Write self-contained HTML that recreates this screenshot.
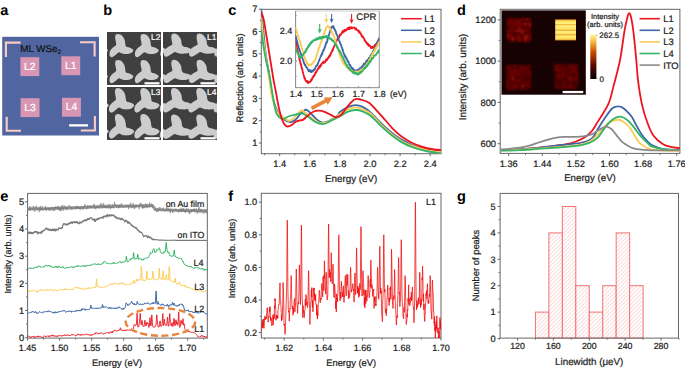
<!DOCTYPE html>
<html><head><meta charset="utf-8"><style>
html,body{margin:0;padding:0;background:#fff;overflow:hidden}
svg{display:block;font-family:"Liberation Sans", sans-serif;text-rendering:geometricPrecision}
</style></head><body>
<svg width="685" height="368" viewBox="0 0 685 368">
<text transform="translate(0.3 14.6)" font-size="14.6" text-anchor="start" fill="#000" font-weight="bold">a</text>
<text transform="translate(103.2 14.6)" font-size="14.6" text-anchor="start" fill="#000" font-weight="bold">b</text>
<text transform="translate(228.2 14.6)" font-size="14.6" text-anchor="start" fill="#000" font-weight="bold">c</text>
<text transform="translate(457 14.6)" font-size="14.6" text-anchor="start" fill="#000" font-weight="bold">d</text>
<text transform="translate(0.3 200.5)" font-size="14.6" text-anchor="start" fill="#000" font-weight="bold">e</text>
<text transform="translate(228.2 200.5)" font-size="14.6" text-anchor="start" fill="#000" font-weight="bold">f</text>
<text transform="translate(457 201)" font-size="14.6" text-anchor="start" fill="#000" font-weight="bold">g</text>
<rect x="2.2" y="36.8" width="96.8" height="98.7" fill="#5166a0"/>
<polyline points="5.9,57 5.9,42.6 20.6,42.6" fill="none" stroke="#f9ccc8" stroke-width="2.1"/>
<polyline points="80,42.3 94.6,42.3 94.6,56.6" fill="none" stroke="#f9ccc8" stroke-width="2.1"/>
<polyline points="6.7,116.8 6.7,130.7 21,130.7" fill="none" stroke="#f9ccc8" stroke-width="2.1"/>
<polyline points="80.8,130.5 94.9,130.5 94.9,116.1" fill="none" stroke="#f9ccc8" stroke-width="2.1"/>
<rect x="20.4" y="57.2" width="18.9" height="18.9" fill="#d996b4"/>
<text transform="translate(29.85 69.7)" font-size="10.3" text-anchor="middle" fill="#fff" font-weight="normal" stroke="#fff" stroke-width="0.22">L2</text>
<rect x="61.3" y="56.3" width="18.9" height="18.9" fill="#d996b4"/>
<text transform="translate(70.75 68.8)" font-size="10.3" text-anchor="middle" fill="#fff" font-weight="normal" stroke="#fff" stroke-width="0.22">L1</text>
<rect x="20.6" y="98.2" width="18.9" height="18.9" fill="#d996b4"/>
<text transform="translate(30.05 110.7)" font-size="10.3" text-anchor="middle" fill="#fff" font-weight="normal" stroke="#fff" stroke-width="0.22">L3</text>
<rect x="62" y="97.8" width="18.9" height="18.9" fill="#d996b4"/>
<text transform="translate(71.45 110.3)" font-size="10.3" text-anchor="middle" fill="#fff" font-weight="normal" stroke="#fff" stroke-width="0.22">L4</text>
<text transform="translate(20.3 51.8)" font-size="9.8" text-anchor="start" fill="#111" font-weight="normal" stroke="#111" stroke-width="0.22">ML WSe<tspan font-size="6.3" dy="2.4">2</tspan></text>
<rect x="69.1" y="124.2" width="19" height="2.3" fill="#fff"/>
<defs><filter id="sb" x="-5%" y="-5%" width="110%" height="110%"><feGaussianBlur stdDeviation="0.65"/></filter><clipPath id="cpb"><rect x="0" y="0" width="54" height="53"/></clipPath></defs>
<g transform="translate(107,32)"><g clip-path="url(#cpb)">
<rect x="0" y="0" width="54" height="53" fill="#404040"/>
<g filter="url(#sb)">
<path d="M-14.4,-24.1 C-13.63,-24.1 -12.67,-23.8 -11.9,-23.4 C-11.13,-23 -10.45,-22.47 -9.8,-21.7 C-9.15,-20.93 -8.42,-19.75 -8,-18.8 C-7.58,-17.85 -7.47,-16.93 -7.3,-16 C-7.13,-15.07 -7.17,-13.97 -7,-13.2 C-6.83,-12.43 -6.83,-11.82 -6.3,-11.4 C-5.77,-10.98 -4.68,-11 -3.8,-10.7 C-2.92,-10.4 -1.77,-10.02 -1,-9.6 C-0.23,-9.18 0.55,-8.72 0.8,-8.2 C1.05,-7.68 0.85,-7.03 0.5,-6.5 C0.15,-5.97 -0.47,-5.42 -1.3,-5 C-2.13,-4.58 -3.38,-4.17 -4.5,-4 C-5.62,-3.83 -6.93,-3.88 -8,-4 C-9.07,-4.12 -10.02,-4.4 -10.9,-4.7 C-11.78,-5 -12.48,-5.92 -13.3,-5.8 C-14.12,-5.68 -15.03,-4.6 -15.8,-4 C-16.57,-3.4 -17.13,-2.73 -17.9,-2.2 C-18.67,-1.67 -19.68,-0.92 -20.4,-0.8 C-21.12,-0.68 -21.78,-0.97 -22.2,-1.5 C-22.62,-2.03 -22.9,-3.05 -22.9,-4 C-22.9,-4.95 -22.68,-6.2 -22.2,-7.2 C-21.72,-8.2 -20.77,-9.23 -20,-10 C-19.23,-10.77 -18.23,-11.27 -17.6,-11.8 C-16.97,-12.33 -16.38,-12.5 -16.2,-13.2 C-16.02,-13.9 -16.35,-15.07 -16.5,-16 C-16.65,-16.93 -16.98,-17.92 -17.1,-18.8 C-17.22,-19.68 -17.3,-20.53 -17.2,-21.3 C-17.1,-22.07 -16.97,-22.93 -16.5,-23.4 C-16.03,-23.87 -15.17,-24.1 -14.4,-24.1Z" fill="#cdcdcd"/>
<path d="M-14.4,1.9 C-13.63,1.9 -12.67,2.2 -11.9,2.6 C-11.13,3 -10.45,3.53 -9.8,4.3 C-9.15,5.07 -8.42,6.25 -8,7.2 C-7.58,8.15 -7.47,9.07 -7.3,10 C-7.13,10.93 -7.17,12.03 -7,12.8 C-6.83,13.57 -6.83,14.18 -6.3,14.6 C-5.77,15.02 -4.68,15 -3.8,15.3 C-2.92,15.6 -1.77,15.98 -1,16.4 C-0.23,16.82 0.55,17.28 0.8,17.8 C1.05,18.32 0.85,18.97 0.5,19.5 C0.15,20.03 -0.47,20.58 -1.3,21 C-2.13,21.42 -3.38,21.83 -4.5,22 C-5.62,22.17 -6.93,22.12 -8,22 C-9.07,21.88 -10.02,21.6 -10.9,21.3 C-11.78,21 -12.48,20.08 -13.3,20.2 C-14.12,20.32 -15.03,21.4 -15.8,22 C-16.57,22.6 -17.13,23.27 -17.9,23.8 C-18.67,24.33 -19.68,25.08 -20.4,25.2 C-21.12,25.32 -21.78,25.03 -22.2,24.5 C-22.62,23.97 -22.9,22.95 -22.9,22 C-22.9,21.05 -22.68,19.8 -22.2,18.8 C-21.72,17.8 -20.77,16.77 -20,16 C-19.23,15.23 -18.23,14.73 -17.6,14.2 C-16.97,13.67 -16.38,13.5 -16.2,12.8 C-16.02,12.1 -16.35,10.93 -16.5,10 C-16.65,9.07 -16.98,8.08 -17.1,7.2 C-17.22,6.32 -17.3,5.47 -17.2,4.7 C-17.1,3.93 -16.97,3.07 -16.5,2.6 C-16.03,2.13 -15.17,1.9 -14.4,1.9Z" fill="#cdcdcd"/>
<path d="M-14.4,27.9 C-13.63,27.9 -12.67,28.2 -11.9,28.6 C-11.13,29 -10.45,29.53 -9.8,30.3 C-9.15,31.07 -8.42,32.25 -8,33.2 C-7.58,34.15 -7.47,35.07 -7.3,36 C-7.13,36.93 -7.17,38.03 -7,38.8 C-6.83,39.57 -6.83,40.18 -6.3,40.6 C-5.77,41.02 -4.68,41 -3.8,41.3 C-2.92,41.6 -1.77,41.98 -1,42.4 C-0.23,42.82 0.55,43.28 0.8,43.8 C1.05,44.32 0.85,44.97 0.5,45.5 C0.15,46.03 -0.47,46.58 -1.3,47 C-2.13,47.42 -3.38,47.83 -4.5,48 C-5.62,48.17 -6.93,48.12 -8,48 C-9.07,47.88 -10.02,47.6 -10.9,47.3 C-11.78,47 -12.48,46.08 -13.3,46.2 C-14.12,46.32 -15.03,47.4 -15.8,48 C-16.57,48.6 -17.13,49.27 -17.9,49.8 C-18.67,50.33 -19.68,51.08 -20.4,51.2 C-21.12,51.32 -21.78,51.03 -22.2,50.5 C-22.62,49.97 -22.9,48.95 -22.9,48 C-22.9,47.05 -22.68,45.8 -22.2,44.8 C-21.72,43.8 -20.77,42.77 -20,42 C-19.23,41.23 -18.23,40.73 -17.6,40.2 C-16.97,39.67 -16.38,39.5 -16.2,38.8 C-16.02,38.1 -16.35,36.93 -16.5,36 C-16.65,35.07 -16.98,34.08 -17.1,33.2 C-17.22,32.32 -17.3,31.47 -17.2,30.7 C-17.1,29.93 -16.97,29.07 -16.5,28.6 C-16.03,28.13 -15.17,27.9 -14.4,27.9Z" fill="#cdcdcd"/>
<path d="M-14.4,53.9 C-13.63,53.9 -12.67,54.2 -11.9,54.6 C-11.13,55 -10.45,55.53 -9.8,56.3 C-9.15,57.07 -8.42,58.25 -8,59.2 C-7.58,60.15 -7.47,61.07 -7.3,62 C-7.13,62.93 -7.17,64.03 -7,64.8 C-6.83,65.57 -6.83,66.18 -6.3,66.6 C-5.77,67.02 -4.68,67 -3.8,67.3 C-2.92,67.6 -1.77,67.98 -1,68.4 C-0.23,68.82 0.55,69.28 0.8,69.8 C1.05,70.32 0.85,70.97 0.5,71.5 C0.15,72.03 -0.47,72.58 -1.3,73 C-2.13,73.42 -3.38,73.83 -4.5,74 C-5.62,74.17 -6.93,74.12 -8,74 C-9.07,73.88 -10.02,73.6 -10.9,73.3 C-11.78,73 -12.48,72.08 -13.3,72.2 C-14.12,72.32 -15.03,73.4 -15.8,74 C-16.57,74.6 -17.13,75.27 -17.9,75.8 C-18.67,76.33 -19.68,77.08 -20.4,77.2 C-21.12,77.32 -21.78,77.03 -22.2,76.5 C-22.62,75.97 -22.9,74.95 -22.9,74 C-22.9,73.05 -22.68,71.8 -22.2,70.8 C-21.72,69.8 -20.77,68.77 -20,68 C-19.23,67.23 -18.23,66.73 -17.6,66.2 C-16.97,65.67 -16.38,65.5 -16.2,64.8 C-16.02,64.1 -16.35,62.93 -16.5,62 C-16.65,61.07 -16.98,60.08 -17.1,59.2 C-17.22,58.32 -17.3,57.47 -17.2,56.7 C-17.1,55.93 -16.97,55.07 -16.5,54.6 C-16.03,54.13 -15.17,53.9 -14.4,53.9Z" fill="#cdcdcd"/>
<path d="M11,-24.1 C11.77,-24.1 12.73,-23.8 13.5,-23.4 C14.27,-23 14.95,-22.47 15.6,-21.7 C16.25,-20.93 16.98,-19.75 17.4,-18.8 C17.82,-17.85 17.93,-16.93 18.1,-16 C18.27,-15.07 18.23,-13.97 18.4,-13.2 C18.57,-12.43 18.57,-11.82 19.1,-11.4 C19.63,-10.98 20.72,-11 21.6,-10.7 C22.48,-10.4 23.63,-10.02 24.4,-9.6 C25.17,-9.18 25.95,-8.72 26.2,-8.2 C26.45,-7.68 26.25,-7.03 25.9,-6.5 C25.55,-5.97 24.93,-5.42 24.1,-5 C23.27,-4.58 22.02,-4.17 20.9,-4 C19.78,-3.83 18.47,-3.88 17.4,-4 C16.33,-4.12 15.38,-4.4 14.5,-4.7 C13.62,-5 12.92,-5.92 12.1,-5.8 C11.28,-5.68 10.37,-4.6 9.6,-4 C8.83,-3.4 8.27,-2.73 7.5,-2.2 C6.73,-1.67 5.72,-0.92 5,-0.8 C4.28,-0.68 3.62,-0.97 3.2,-1.5 C2.78,-2.03 2.5,-3.05 2.5,-4 C2.5,-4.95 2.72,-6.2 3.2,-7.2 C3.68,-8.2 4.63,-9.23 5.4,-10 C6.17,-10.77 7.17,-11.27 7.8,-11.8 C8.43,-12.33 9.02,-12.5 9.2,-13.2 C9.38,-13.9 9.05,-15.07 8.9,-16 C8.75,-16.93 8.42,-17.92 8.3,-18.8 C8.18,-19.68 8.1,-20.53 8.2,-21.3 C8.3,-22.07 8.43,-22.93 8.9,-23.4 C9.37,-23.87 10.23,-24.1 11,-24.1Z" fill="#cdcdcd"/>
<path d="M11,1.9 C11.77,1.9 12.73,2.2 13.5,2.6 C14.27,3 14.95,3.53 15.6,4.3 C16.25,5.07 16.98,6.25 17.4,7.2 C17.82,8.15 17.93,9.07 18.1,10 C18.27,10.93 18.23,12.03 18.4,12.8 C18.57,13.57 18.57,14.18 19.1,14.6 C19.63,15.02 20.72,15 21.6,15.3 C22.48,15.6 23.63,15.98 24.4,16.4 C25.17,16.82 25.95,17.28 26.2,17.8 C26.45,18.32 26.25,18.97 25.9,19.5 C25.55,20.03 24.93,20.58 24.1,21 C23.27,21.42 22.02,21.83 20.9,22 C19.78,22.17 18.47,22.12 17.4,22 C16.33,21.88 15.38,21.6 14.5,21.3 C13.62,21 12.92,20.08 12.1,20.2 C11.28,20.32 10.37,21.4 9.6,22 C8.83,22.6 8.27,23.27 7.5,23.8 C6.73,24.33 5.72,25.08 5,25.2 C4.28,25.32 3.62,25.03 3.2,24.5 C2.78,23.97 2.5,22.95 2.5,22 C2.5,21.05 2.72,19.8 3.2,18.8 C3.68,17.8 4.63,16.77 5.4,16 C6.17,15.23 7.17,14.73 7.8,14.2 C8.43,13.67 9.02,13.5 9.2,12.8 C9.38,12.1 9.05,10.93 8.9,10 C8.75,9.07 8.42,8.08 8.3,7.2 C8.18,6.32 8.1,5.47 8.2,4.7 C8.3,3.93 8.43,3.07 8.9,2.6 C9.37,2.13 10.23,1.9 11,1.9Z" fill="#cdcdcd"/>
<path d="M11,27.9 C11.77,27.9 12.73,28.2 13.5,28.6 C14.27,29 14.95,29.53 15.6,30.3 C16.25,31.07 16.98,32.25 17.4,33.2 C17.82,34.15 17.93,35.07 18.1,36 C18.27,36.93 18.23,38.03 18.4,38.8 C18.57,39.57 18.57,40.18 19.1,40.6 C19.63,41.02 20.72,41 21.6,41.3 C22.48,41.6 23.63,41.98 24.4,42.4 C25.17,42.82 25.95,43.28 26.2,43.8 C26.45,44.32 26.25,44.97 25.9,45.5 C25.55,46.03 24.93,46.58 24.1,47 C23.27,47.42 22.02,47.83 20.9,48 C19.78,48.17 18.47,48.12 17.4,48 C16.33,47.88 15.38,47.6 14.5,47.3 C13.62,47 12.92,46.08 12.1,46.2 C11.28,46.32 10.37,47.4 9.6,48 C8.83,48.6 8.27,49.27 7.5,49.8 C6.73,50.33 5.72,51.08 5,51.2 C4.28,51.32 3.62,51.03 3.2,50.5 C2.78,49.97 2.5,48.95 2.5,48 C2.5,47.05 2.72,45.8 3.2,44.8 C3.68,43.8 4.63,42.77 5.4,42 C6.17,41.23 7.17,40.73 7.8,40.2 C8.43,39.67 9.02,39.5 9.2,38.8 C9.38,38.1 9.05,36.93 8.9,36 C8.75,35.07 8.42,34.08 8.3,33.2 C8.18,32.32 8.1,31.47 8.2,30.7 C8.3,29.93 8.43,29.07 8.9,28.6 C9.37,28.13 10.23,27.9 11,27.9Z" fill="#cdcdcd"/>
<path d="M11,53.9 C11.77,53.9 12.73,54.2 13.5,54.6 C14.27,55 14.95,55.53 15.6,56.3 C16.25,57.07 16.98,58.25 17.4,59.2 C17.82,60.15 17.93,61.07 18.1,62 C18.27,62.93 18.23,64.03 18.4,64.8 C18.57,65.57 18.57,66.18 19.1,66.6 C19.63,67.02 20.72,67 21.6,67.3 C22.48,67.6 23.63,67.98 24.4,68.4 C25.17,68.82 25.95,69.28 26.2,69.8 C26.45,70.32 26.25,70.97 25.9,71.5 C25.55,72.03 24.93,72.58 24.1,73 C23.27,73.42 22.02,73.83 20.9,74 C19.78,74.17 18.47,74.12 17.4,74 C16.33,73.88 15.38,73.6 14.5,73.3 C13.62,73 12.92,72.08 12.1,72.2 C11.28,72.32 10.37,73.4 9.6,74 C8.83,74.6 8.27,75.27 7.5,75.8 C6.73,76.33 5.72,77.08 5,77.2 C4.28,77.32 3.62,77.03 3.2,76.5 C2.78,75.97 2.5,74.95 2.5,74 C2.5,73.05 2.72,71.8 3.2,70.8 C3.68,69.8 4.63,68.77 5.4,68 C6.17,67.23 7.17,66.73 7.8,66.2 C8.43,65.67 9.02,65.5 9.2,64.8 C9.38,64.1 9.05,62.93 8.9,62 C8.75,61.07 8.42,60.08 8.3,59.2 C8.18,58.32 8.1,57.47 8.2,56.7 C8.3,55.93 8.43,55.07 8.9,54.6 C9.37,54.13 10.23,53.9 11,53.9Z" fill="#cdcdcd"/>
<path d="M36.4,-24.1 C37.17,-24.1 38.13,-23.8 38.9,-23.4 C39.67,-23 40.35,-22.47 41,-21.7 C41.65,-20.93 42.38,-19.75 42.8,-18.8 C43.22,-17.85 43.33,-16.93 43.5,-16 C43.67,-15.07 43.63,-13.97 43.8,-13.2 C43.97,-12.43 43.97,-11.82 44.5,-11.4 C45.03,-10.98 46.12,-11 47,-10.7 C47.88,-10.4 49.03,-10.02 49.8,-9.6 C50.57,-9.18 51.35,-8.72 51.6,-8.2 C51.85,-7.68 51.65,-7.03 51.3,-6.5 C50.95,-5.97 50.33,-5.42 49.5,-5 C48.67,-4.58 47.42,-4.17 46.3,-4 C45.18,-3.83 43.87,-3.88 42.8,-4 C41.73,-4.12 40.78,-4.4 39.9,-4.7 C39.02,-5 38.32,-5.92 37.5,-5.8 C36.68,-5.68 35.77,-4.6 35,-4 C34.23,-3.4 33.67,-2.73 32.9,-2.2 C32.13,-1.67 31.12,-0.92 30.4,-0.8 C29.68,-0.68 29.02,-0.97 28.6,-1.5 C28.18,-2.03 27.9,-3.05 27.9,-4 C27.9,-4.95 28.12,-6.2 28.6,-7.2 C29.08,-8.2 30.03,-9.23 30.8,-10 C31.57,-10.77 32.57,-11.27 33.2,-11.8 C33.83,-12.33 34.42,-12.5 34.6,-13.2 C34.78,-13.9 34.45,-15.07 34.3,-16 C34.15,-16.93 33.82,-17.92 33.7,-18.8 C33.58,-19.68 33.5,-20.53 33.6,-21.3 C33.7,-22.07 33.83,-22.93 34.3,-23.4 C34.77,-23.87 35.63,-24.1 36.4,-24.1Z" fill="#cdcdcd"/>
<path d="M36.4,1.9 C37.17,1.9 38.13,2.2 38.9,2.6 C39.67,3 40.35,3.53 41,4.3 C41.65,5.07 42.38,6.25 42.8,7.2 C43.22,8.15 43.33,9.07 43.5,10 C43.67,10.93 43.63,12.03 43.8,12.8 C43.97,13.57 43.97,14.18 44.5,14.6 C45.03,15.02 46.12,15 47,15.3 C47.88,15.6 49.03,15.98 49.8,16.4 C50.57,16.82 51.35,17.28 51.6,17.8 C51.85,18.32 51.65,18.97 51.3,19.5 C50.95,20.03 50.33,20.58 49.5,21 C48.67,21.42 47.42,21.83 46.3,22 C45.18,22.17 43.87,22.12 42.8,22 C41.73,21.88 40.78,21.6 39.9,21.3 C39.02,21 38.32,20.08 37.5,20.2 C36.68,20.32 35.77,21.4 35,22 C34.23,22.6 33.67,23.27 32.9,23.8 C32.13,24.33 31.12,25.08 30.4,25.2 C29.68,25.32 29.02,25.03 28.6,24.5 C28.18,23.97 27.9,22.95 27.9,22 C27.9,21.05 28.12,19.8 28.6,18.8 C29.08,17.8 30.03,16.77 30.8,16 C31.57,15.23 32.57,14.73 33.2,14.2 C33.83,13.67 34.42,13.5 34.6,12.8 C34.78,12.1 34.45,10.93 34.3,10 C34.15,9.07 33.82,8.08 33.7,7.2 C33.58,6.32 33.5,5.47 33.6,4.7 C33.7,3.93 33.83,3.07 34.3,2.6 C34.77,2.13 35.63,1.9 36.4,1.9Z" fill="#cdcdcd"/>
<path d="M36.4,27.9 C37.17,27.9 38.13,28.2 38.9,28.6 C39.67,29 40.35,29.53 41,30.3 C41.65,31.07 42.38,32.25 42.8,33.2 C43.22,34.15 43.33,35.07 43.5,36 C43.67,36.93 43.63,38.03 43.8,38.8 C43.97,39.57 43.97,40.18 44.5,40.6 C45.03,41.02 46.12,41 47,41.3 C47.88,41.6 49.03,41.98 49.8,42.4 C50.57,42.82 51.35,43.28 51.6,43.8 C51.85,44.32 51.65,44.97 51.3,45.5 C50.95,46.03 50.33,46.58 49.5,47 C48.67,47.42 47.42,47.83 46.3,48 C45.18,48.17 43.87,48.12 42.8,48 C41.73,47.88 40.78,47.6 39.9,47.3 C39.02,47 38.32,46.08 37.5,46.2 C36.68,46.32 35.77,47.4 35,48 C34.23,48.6 33.67,49.27 32.9,49.8 C32.13,50.33 31.12,51.08 30.4,51.2 C29.68,51.32 29.02,51.03 28.6,50.5 C28.18,49.97 27.9,48.95 27.9,48 C27.9,47.05 28.12,45.8 28.6,44.8 C29.08,43.8 30.03,42.77 30.8,42 C31.57,41.23 32.57,40.73 33.2,40.2 C33.83,39.67 34.42,39.5 34.6,38.8 C34.78,38.1 34.45,36.93 34.3,36 C34.15,35.07 33.82,34.08 33.7,33.2 C33.58,32.32 33.5,31.47 33.6,30.7 C33.7,29.93 33.83,29.07 34.3,28.6 C34.77,28.13 35.63,27.9 36.4,27.9Z" fill="#cdcdcd"/>
<path d="M36.4,53.9 C37.17,53.9 38.13,54.2 38.9,54.6 C39.67,55 40.35,55.53 41,56.3 C41.65,57.07 42.38,58.25 42.8,59.2 C43.22,60.15 43.33,61.07 43.5,62 C43.67,62.93 43.63,64.03 43.8,64.8 C43.97,65.57 43.97,66.18 44.5,66.6 C45.03,67.02 46.12,67 47,67.3 C47.88,67.6 49.03,67.98 49.8,68.4 C50.57,68.82 51.35,69.28 51.6,69.8 C51.85,70.32 51.65,70.97 51.3,71.5 C50.95,72.03 50.33,72.58 49.5,73 C48.67,73.42 47.42,73.83 46.3,74 C45.18,74.17 43.87,74.12 42.8,74 C41.73,73.88 40.78,73.6 39.9,73.3 C39.02,73 38.32,72.08 37.5,72.2 C36.68,72.32 35.77,73.4 35,74 C34.23,74.6 33.67,75.27 32.9,75.8 C32.13,76.33 31.12,77.08 30.4,77.2 C29.68,77.32 29.02,77.03 28.6,76.5 C28.18,75.97 27.9,74.95 27.9,74 C27.9,73.05 28.12,71.8 28.6,70.8 C29.08,69.8 30.03,68.77 30.8,68 C31.57,67.23 32.57,66.73 33.2,66.2 C33.83,65.67 34.42,65.5 34.6,64.8 C34.78,64.1 34.45,62.93 34.3,62 C34.15,61.07 33.82,60.08 33.7,59.2 C33.58,58.32 33.5,57.47 33.6,56.7 C33.7,55.93 33.83,55.07 34.3,54.6 C34.77,54.13 35.63,53.9 36.4,53.9Z" fill="#cdcdcd"/>
<path d="M61.8,-24.1 C62.57,-24.1 63.53,-23.8 64.3,-23.4 C65.07,-23 65.75,-22.47 66.4,-21.7 C67.05,-20.93 67.78,-19.75 68.2,-18.8 C68.62,-17.85 68.73,-16.93 68.9,-16 C69.07,-15.07 69.03,-13.97 69.2,-13.2 C69.37,-12.43 69.37,-11.82 69.9,-11.4 C70.43,-10.98 71.52,-11 72.4,-10.7 C73.28,-10.4 74.43,-10.02 75.2,-9.6 C75.97,-9.18 76.75,-8.72 77,-8.2 C77.25,-7.68 77.05,-7.03 76.7,-6.5 C76.35,-5.97 75.73,-5.42 74.9,-5 C74.07,-4.58 72.82,-4.17 71.7,-4 C70.58,-3.83 69.27,-3.88 68.2,-4 C67.13,-4.12 66.18,-4.4 65.3,-4.7 C64.42,-5 63.72,-5.92 62.9,-5.8 C62.08,-5.68 61.17,-4.6 60.4,-4 C59.63,-3.4 59.07,-2.73 58.3,-2.2 C57.53,-1.67 56.52,-0.92 55.8,-0.8 C55.08,-0.68 54.42,-0.97 54,-1.5 C53.58,-2.03 53.3,-3.05 53.3,-4 C53.3,-4.95 53.52,-6.2 54,-7.2 C54.48,-8.2 55.43,-9.23 56.2,-10 C56.97,-10.77 57.97,-11.27 58.6,-11.8 C59.23,-12.33 59.82,-12.5 60,-13.2 C60.18,-13.9 59.85,-15.07 59.7,-16 C59.55,-16.93 59.22,-17.92 59.1,-18.8 C58.98,-19.68 58.9,-20.53 59,-21.3 C59.1,-22.07 59.23,-22.93 59.7,-23.4 C60.17,-23.87 61.03,-24.1 61.8,-24.1Z" fill="#cdcdcd"/>
<path d="M61.8,1.9 C62.57,1.9 63.53,2.2 64.3,2.6 C65.07,3 65.75,3.53 66.4,4.3 C67.05,5.07 67.78,6.25 68.2,7.2 C68.62,8.15 68.73,9.07 68.9,10 C69.07,10.93 69.03,12.03 69.2,12.8 C69.37,13.57 69.37,14.18 69.9,14.6 C70.43,15.02 71.52,15 72.4,15.3 C73.28,15.6 74.43,15.98 75.2,16.4 C75.97,16.82 76.75,17.28 77,17.8 C77.25,18.32 77.05,18.97 76.7,19.5 C76.35,20.03 75.73,20.58 74.9,21 C74.07,21.42 72.82,21.83 71.7,22 C70.58,22.17 69.27,22.12 68.2,22 C67.13,21.88 66.18,21.6 65.3,21.3 C64.42,21 63.72,20.08 62.9,20.2 C62.08,20.32 61.17,21.4 60.4,22 C59.63,22.6 59.07,23.27 58.3,23.8 C57.53,24.33 56.52,25.08 55.8,25.2 C55.08,25.32 54.42,25.03 54,24.5 C53.58,23.97 53.3,22.95 53.3,22 C53.3,21.05 53.52,19.8 54,18.8 C54.48,17.8 55.43,16.77 56.2,16 C56.97,15.23 57.97,14.73 58.6,14.2 C59.23,13.67 59.82,13.5 60,12.8 C60.18,12.1 59.85,10.93 59.7,10 C59.55,9.07 59.22,8.08 59.1,7.2 C58.98,6.32 58.9,5.47 59,4.7 C59.1,3.93 59.23,3.07 59.7,2.6 C60.17,2.13 61.03,1.9 61.8,1.9Z" fill="#cdcdcd"/>
<path d="M61.8,27.9 C62.57,27.9 63.53,28.2 64.3,28.6 C65.07,29 65.75,29.53 66.4,30.3 C67.05,31.07 67.78,32.25 68.2,33.2 C68.62,34.15 68.73,35.07 68.9,36 C69.07,36.93 69.03,38.03 69.2,38.8 C69.37,39.57 69.37,40.18 69.9,40.6 C70.43,41.02 71.52,41 72.4,41.3 C73.28,41.6 74.43,41.98 75.2,42.4 C75.97,42.82 76.75,43.28 77,43.8 C77.25,44.32 77.05,44.97 76.7,45.5 C76.35,46.03 75.73,46.58 74.9,47 C74.07,47.42 72.82,47.83 71.7,48 C70.58,48.17 69.27,48.12 68.2,48 C67.13,47.88 66.18,47.6 65.3,47.3 C64.42,47 63.72,46.08 62.9,46.2 C62.08,46.32 61.17,47.4 60.4,48 C59.63,48.6 59.07,49.27 58.3,49.8 C57.53,50.33 56.52,51.08 55.8,51.2 C55.08,51.32 54.42,51.03 54,50.5 C53.58,49.97 53.3,48.95 53.3,48 C53.3,47.05 53.52,45.8 54,44.8 C54.48,43.8 55.43,42.77 56.2,42 C56.97,41.23 57.97,40.73 58.6,40.2 C59.23,39.67 59.82,39.5 60,38.8 C60.18,38.1 59.85,36.93 59.7,36 C59.55,35.07 59.22,34.08 59.1,33.2 C58.98,32.32 58.9,31.47 59,30.7 C59.1,29.93 59.23,29.07 59.7,28.6 C60.17,28.13 61.03,27.9 61.8,27.9Z" fill="#cdcdcd"/>
<path d="M61.8,53.9 C62.57,53.9 63.53,54.2 64.3,54.6 C65.07,55 65.75,55.53 66.4,56.3 C67.05,57.07 67.78,58.25 68.2,59.2 C68.62,60.15 68.73,61.07 68.9,62 C69.07,62.93 69.03,64.03 69.2,64.8 C69.37,65.57 69.37,66.18 69.9,66.6 C70.43,67.02 71.52,67 72.4,67.3 C73.28,67.6 74.43,67.98 75.2,68.4 C75.97,68.82 76.75,69.28 77,69.8 C77.25,70.32 77.05,70.97 76.7,71.5 C76.35,72.03 75.73,72.58 74.9,73 C74.07,73.42 72.82,73.83 71.7,74 C70.58,74.17 69.27,74.12 68.2,74 C67.13,73.88 66.18,73.6 65.3,73.3 C64.42,73 63.72,72.08 62.9,72.2 C62.08,72.32 61.17,73.4 60.4,74 C59.63,74.6 59.07,75.27 58.3,75.8 C57.53,76.33 56.52,77.08 55.8,77.2 C55.08,77.32 54.42,77.03 54,76.5 C53.58,75.97 53.3,74.95 53.3,74 C53.3,73.05 53.52,71.8 54,70.8 C54.48,69.8 55.43,68.77 56.2,68 C56.97,67.23 57.97,66.73 58.6,66.2 C59.23,65.67 59.82,65.5 60,64.8 C60.18,64.1 59.85,62.93 59.7,62 C59.55,61.07 59.22,60.08 59.1,59.2 C58.98,58.32 58.9,57.47 59,56.7 C59.1,55.93 59.23,55.07 59.7,54.6 C60.17,54.13 61.03,53.9 61.8,53.9Z" fill="#cdcdcd"/>
</g></g>
<text transform="translate(44 8)" font-size="8.4" text-anchor="start" fill="#fff" font-weight="normal" stroke="#fff" stroke-width="0.22">L2</text>
<rect x="37.5" y="50.2" width="15" height="2.2" fill="#fff"/>
</g>
<g transform="translate(163,32)"><g clip-path="url(#cpb)">
<rect x="0" y="0" width="54" height="53" fill="#404040"/>
<g filter="url(#sb)">
<path d="M-14.14,-24.8 C-13.36,-24.8 -12.38,-24.5 -11.61,-24.1 C-10.83,-23.7 -10.13,-23.17 -9.47,-22.4 C-8.81,-21.63 -8.06,-20.44 -7.62,-19.49 C-7.19,-18.53 -7.06,-17.61 -6.88,-16.66 C-6.7,-15.72 -6.86,-14.61 -6.53,-13.81 C-6.21,-13.01 -5.69,-12.32 -4.94,-11.88 C-4.19,-11.45 -3.06,-11.48 -2.04,-11.19 C-1.01,-10.89 0.32,-10.52 1.21,-10.12 C2.1,-9.72 3.01,-9.27 3.3,-8.77 C3.59,-8.27 3.35,-7.64 2.94,-7.13 C2.53,-6.61 1.81,-6.08 0.84,-5.67 C-0.14,-5.27 -1.6,-4.86 -2.91,-4.68 C-4.22,-4.51 -5.76,-4.54 -7.03,-4.64 C-8.29,-4.74 -9.42,-5 -10.48,-5.29 C-11.54,-5.57 -12.4,-6.45 -13.38,-6.34 C-14.35,-6.24 -15.42,-5.22 -16.32,-4.65 C-17.22,-4.09 -17.88,-3.46 -18.77,-2.95 C-19.66,-2.45 -20.85,-1.74 -21.68,-1.63 C-22.52,-1.53 -23.3,-1.8 -23.79,-2.32 C-24.28,-2.83 -24.62,-3.81 -24.63,-4.72 C-24.64,-5.63 -24.39,-6.83 -23.84,-7.8 C-23.28,-8.76 -22.18,-9.76 -21.29,-10.51 C-20.4,-11.25 -19.37,-11.72 -18.5,-12.27 C-17.63,-12.82 -16.43,-13.08 -16.07,-13.81 C-15.71,-14.54 -16.19,-15.71 -16.33,-16.65 C-16.47,-17.59 -16.8,-18.58 -16.91,-19.47 C-17.02,-20.36 -17.1,-21.21 -16.99,-21.98 C-16.88,-22.75 -16.75,-23.62 -16.27,-24.09 C-15.8,-24.56 -14.92,-24.79 -14.14,-24.8Z" fill="#cdcdcd"/>
<path d="M-14.14,1.5 C-13.36,1.5 -12.38,1.8 -11.61,2.2 C-10.83,2.6 -10.13,3.13 -9.47,3.9 C-8.81,4.67 -8.06,5.86 -7.62,6.81 C-7.19,7.77 -7.06,8.69 -6.88,9.64 C-6.7,10.58 -6.86,11.69 -6.53,12.49 C-6.21,13.29 -5.69,13.98 -4.94,14.42 C-4.19,14.85 -3.06,14.82 -2.04,15.11 C-1.01,15.41 0.32,15.78 1.21,16.18 C2.1,16.58 3.01,17.03 3.3,17.53 C3.59,18.03 3.35,18.66 2.94,19.17 C2.53,19.69 1.81,20.22 0.84,20.63 C-0.14,21.03 -1.6,21.44 -2.91,21.62 C-4.22,21.79 -5.76,21.76 -7.03,21.66 C-8.29,21.56 -9.42,21.3 -10.48,21.01 C-11.54,20.73 -12.4,19.85 -13.38,19.96 C-14.35,20.06 -15.42,21.08 -16.32,21.65 C-17.22,22.21 -17.88,22.84 -18.77,23.35 C-19.66,23.85 -20.85,24.56 -21.68,24.67 C-22.52,24.77 -23.3,24.5 -23.79,23.98 C-24.28,23.47 -24.62,22.49 -24.63,21.58 C-24.64,20.67 -24.39,19.47 -23.84,18.5 C-23.28,17.54 -22.18,16.54 -21.29,15.79 C-20.4,15.05 -19.37,14.58 -18.5,14.03 C-17.63,13.48 -16.43,13.22 -16.07,12.49 C-15.71,11.76 -16.19,10.59 -16.33,9.65 C-16.47,8.71 -16.8,7.72 -16.91,6.83 C-17.02,5.94 -17.1,5.09 -16.99,4.32 C-16.88,3.55 -16.75,2.68 -16.27,2.21 C-15.8,1.74 -14.92,1.51 -14.14,1.5Z" fill="#cdcdcd"/>
<path d="M-14.14,27.8 C-13.36,27.8 -12.38,28.1 -11.61,28.5 C-10.83,28.9 -10.13,29.43 -9.47,30.2 C-8.81,30.97 -8.06,32.16 -7.62,33.11 C-7.19,34.07 -7.06,34.99 -6.88,35.94 C-6.7,36.88 -6.86,37.99 -6.53,38.79 C-6.21,39.59 -5.69,40.28 -4.94,40.72 C-4.19,41.15 -3.06,41.12 -2.04,41.41 C-1.01,41.71 0.32,42.08 1.21,42.48 C2.1,42.88 3.01,43.33 3.3,43.83 C3.59,44.33 3.35,44.96 2.94,45.47 C2.53,45.99 1.81,46.52 0.84,46.93 C-0.14,47.33 -1.6,47.74 -2.91,47.92 C-4.22,48.09 -5.76,48.06 -7.03,47.96 C-8.29,47.86 -9.42,47.6 -10.48,47.31 C-11.54,47.03 -12.4,46.15 -13.38,46.26 C-14.35,46.36 -15.42,47.38 -16.32,47.95 C-17.22,48.51 -17.88,49.14 -18.77,49.65 C-19.66,50.15 -20.85,50.86 -21.68,50.97 C-22.52,51.07 -23.3,50.8 -23.79,50.28 C-24.28,49.77 -24.62,48.79 -24.63,47.88 C-24.64,46.97 -24.39,45.77 -23.84,44.8 C-23.28,43.84 -22.18,42.84 -21.29,42.09 C-20.4,41.35 -19.37,40.88 -18.5,40.33 C-17.63,39.78 -16.43,39.52 -16.07,38.79 C-15.71,38.06 -16.19,36.89 -16.33,35.95 C-16.47,35.01 -16.8,34.02 -16.91,33.13 C-17.02,32.24 -17.1,31.39 -16.99,30.62 C-16.88,29.85 -16.75,28.98 -16.27,28.51 C-15.8,28.04 -14.92,27.81 -14.14,27.8Z" fill="#cdcdcd"/>
<path d="M-14.14,54.1 C-13.36,54.1 -12.38,54.4 -11.61,54.8 C-10.83,55.2 -10.13,55.73 -9.47,56.5 C-8.81,57.27 -8.06,58.46 -7.62,59.41 C-7.19,60.37 -7.06,61.29 -6.88,62.24 C-6.7,63.18 -6.86,64.29 -6.53,65.09 C-6.21,65.89 -5.69,66.58 -4.94,67.02 C-4.19,67.45 -3.06,67.42 -2.04,67.71 C-1.01,68.01 0.32,68.38 1.21,68.78 C2.1,69.18 3.01,69.63 3.3,70.13 C3.59,70.63 3.35,71.26 2.94,71.77 C2.53,72.29 1.81,72.82 0.84,73.23 C-0.14,73.63 -1.6,74.04 -2.91,74.22 C-4.22,74.39 -5.76,74.36 -7.03,74.26 C-8.29,74.16 -9.42,73.9 -10.48,73.61 C-11.54,73.33 -12.4,72.45 -13.38,72.56 C-14.35,72.66 -15.42,73.68 -16.32,74.25 C-17.22,74.81 -17.88,75.44 -18.77,75.95 C-19.66,76.45 -20.85,77.16 -21.68,77.27 C-22.52,77.37 -23.3,77.1 -23.79,76.58 C-24.28,76.07 -24.62,75.09 -24.63,74.18 C-24.64,73.27 -24.39,72.07 -23.84,71.1 C-23.28,70.14 -22.18,69.14 -21.29,68.39 C-20.4,67.65 -19.37,67.18 -18.5,66.63 C-17.63,66.08 -16.43,65.82 -16.07,65.09 C-15.71,64.36 -16.19,63.19 -16.33,62.25 C-16.47,61.31 -16.8,60.32 -16.91,59.43 C-17.02,58.54 -17.1,57.69 -16.99,56.92 C-16.88,56.15 -16.75,55.28 -16.27,54.81 C-15.8,54.34 -14.92,54.11 -14.14,54.1Z" fill="#cdcdcd"/>
<path d="M11.16,-24.8 C11.94,-24.8 12.92,-24.5 13.69,-24.1 C14.47,-23.7 15.17,-23.17 15.83,-22.4 C16.49,-21.63 17.24,-20.44 17.68,-19.49 C18.11,-18.53 18.24,-17.61 18.42,-16.66 C18.6,-15.72 18.44,-14.61 18.77,-13.81 C19.09,-13.01 19.61,-12.32 20.36,-11.88 C21.11,-11.45 22.24,-11.48 23.26,-11.19 C24.29,-10.89 25.62,-10.52 26.51,-10.12 C27.4,-9.72 28.31,-9.27 28.6,-8.77 C28.89,-8.27 28.65,-7.64 28.24,-7.13 C27.83,-6.61 27.11,-6.08 26.14,-5.67 C25.16,-5.27 23.7,-4.86 22.39,-4.68 C21.08,-4.51 19.54,-4.54 18.27,-4.64 C17.01,-4.74 15.88,-5 14.82,-5.29 C13.76,-5.57 12.9,-6.45 11.92,-6.34 C10.95,-6.24 9.88,-5.22 8.98,-4.65 C8.08,-4.09 7.42,-3.46 6.53,-2.95 C5.64,-2.45 4.45,-1.74 3.62,-1.63 C2.78,-1.53 2,-1.8 1.51,-2.32 C1.02,-2.83 0.68,-3.81 0.67,-4.72 C0.66,-5.63 0.91,-6.83 1.46,-7.8 C2.02,-8.76 3.12,-9.76 4.01,-10.51 C4.9,-11.25 5.93,-11.72 6.8,-12.27 C7.67,-12.82 8.87,-13.08 9.23,-13.81 C9.59,-14.54 9.11,-15.71 8.97,-16.65 C8.83,-17.59 8.5,-18.58 8.39,-19.47 C8.28,-20.36 8.2,-21.21 8.31,-21.98 C8.42,-22.75 8.55,-23.62 9.03,-24.09 C9.5,-24.56 10.38,-24.79 11.16,-24.8Z" fill="#cdcdcd"/>
<path d="M11.16,1.5 C11.94,1.5 12.92,1.8 13.69,2.2 C14.47,2.6 15.17,3.13 15.83,3.9 C16.49,4.67 17.24,5.86 17.68,6.81 C18.11,7.77 18.24,8.69 18.42,9.64 C18.6,10.58 18.44,11.69 18.77,12.49 C19.09,13.29 19.61,13.98 20.36,14.42 C21.11,14.85 22.24,14.82 23.26,15.11 C24.29,15.41 25.62,15.78 26.51,16.18 C27.4,16.58 28.31,17.03 28.6,17.53 C28.89,18.03 28.65,18.66 28.24,19.17 C27.83,19.69 27.11,20.22 26.14,20.63 C25.16,21.03 23.7,21.44 22.39,21.62 C21.08,21.79 19.54,21.76 18.27,21.66 C17.01,21.56 15.88,21.3 14.82,21.01 C13.76,20.73 12.9,19.85 11.92,19.96 C10.95,20.06 9.88,21.08 8.98,21.65 C8.08,22.21 7.42,22.84 6.53,23.35 C5.64,23.85 4.45,24.56 3.62,24.67 C2.78,24.77 2,24.5 1.51,23.98 C1.02,23.47 0.68,22.49 0.67,21.58 C0.66,20.67 0.91,19.47 1.46,18.5 C2.02,17.54 3.12,16.54 4.01,15.79 C4.9,15.05 5.93,14.58 6.8,14.03 C7.67,13.48 8.87,13.22 9.23,12.49 C9.59,11.76 9.11,10.59 8.97,9.65 C8.83,8.71 8.5,7.72 8.39,6.83 C8.28,5.94 8.2,5.09 8.31,4.32 C8.42,3.55 8.55,2.68 9.03,2.21 C9.5,1.74 10.38,1.51 11.16,1.5Z" fill="#cdcdcd"/>
<path d="M11.16,27.8 C11.94,27.8 12.92,28.1 13.69,28.5 C14.47,28.9 15.17,29.43 15.83,30.2 C16.49,30.97 17.24,32.16 17.68,33.11 C18.11,34.07 18.24,34.99 18.42,35.94 C18.6,36.88 18.44,37.99 18.77,38.79 C19.09,39.59 19.61,40.28 20.36,40.72 C21.11,41.15 22.24,41.12 23.26,41.41 C24.29,41.71 25.62,42.08 26.51,42.48 C27.4,42.88 28.31,43.33 28.6,43.83 C28.89,44.33 28.65,44.96 28.24,45.47 C27.83,45.99 27.11,46.52 26.14,46.93 C25.16,47.33 23.7,47.74 22.39,47.92 C21.08,48.09 19.54,48.06 18.27,47.96 C17.01,47.86 15.88,47.6 14.82,47.31 C13.76,47.03 12.9,46.15 11.92,46.26 C10.95,46.36 9.88,47.38 8.98,47.95 C8.08,48.51 7.42,49.14 6.53,49.65 C5.64,50.15 4.45,50.86 3.62,50.97 C2.78,51.07 2,50.8 1.51,50.28 C1.02,49.77 0.68,48.79 0.67,47.88 C0.66,46.97 0.91,45.77 1.46,44.8 C2.02,43.84 3.12,42.84 4.01,42.09 C4.9,41.35 5.93,40.88 6.8,40.33 C7.67,39.78 8.87,39.52 9.23,38.79 C9.59,38.06 9.11,36.89 8.97,35.95 C8.83,35.01 8.5,34.02 8.39,33.13 C8.28,32.24 8.2,31.39 8.31,30.62 C8.42,29.85 8.55,28.98 9.03,28.51 C9.5,28.04 10.38,27.81 11.16,27.8Z" fill="#cdcdcd"/>
<path d="M11.16,54.1 C11.94,54.1 12.92,54.4 13.69,54.8 C14.47,55.2 15.17,55.73 15.83,56.5 C16.49,57.27 17.24,58.46 17.68,59.41 C18.11,60.37 18.24,61.29 18.42,62.24 C18.6,63.18 18.44,64.29 18.77,65.09 C19.09,65.89 19.61,66.58 20.36,67.02 C21.11,67.45 22.24,67.42 23.26,67.71 C24.29,68.01 25.62,68.38 26.51,68.78 C27.4,69.18 28.31,69.63 28.6,70.13 C28.89,70.63 28.65,71.26 28.24,71.77 C27.83,72.29 27.11,72.82 26.14,73.23 C25.16,73.63 23.7,74.04 22.39,74.22 C21.08,74.39 19.54,74.36 18.27,74.26 C17.01,74.16 15.88,73.9 14.82,73.61 C13.76,73.33 12.9,72.45 11.92,72.56 C10.95,72.66 9.88,73.68 8.98,74.25 C8.08,74.81 7.42,75.44 6.53,75.95 C5.64,76.45 4.45,77.16 3.62,77.27 C2.78,77.37 2,77.1 1.51,76.58 C1.02,76.07 0.68,75.09 0.67,74.18 C0.66,73.27 0.91,72.07 1.46,71.1 C2.02,70.14 3.12,69.14 4.01,68.39 C4.9,67.65 5.93,67.18 6.8,66.63 C7.67,66.08 8.87,65.82 9.23,65.09 C9.59,64.36 9.11,63.19 8.97,62.25 C8.83,61.31 8.5,60.32 8.39,59.43 C8.28,58.54 8.2,57.69 8.31,56.92 C8.42,56.15 8.55,55.28 9.03,54.81 C9.5,54.34 10.38,54.11 11.16,54.1Z" fill="#cdcdcd"/>
<path d="M36.46,-24.8 C37.24,-24.8 38.22,-24.5 38.99,-24.1 C39.77,-23.7 40.47,-23.17 41.13,-22.4 C41.79,-21.63 42.54,-20.44 42.98,-19.49 C43.41,-18.53 43.54,-17.61 43.72,-16.66 C43.9,-15.72 43.74,-14.61 44.07,-13.81 C44.39,-13.01 44.91,-12.32 45.66,-11.88 C46.41,-11.45 47.54,-11.48 48.56,-11.19 C49.59,-10.89 50.92,-10.52 51.81,-10.12 C52.7,-9.72 53.61,-9.27 53.9,-8.77 C54.19,-8.27 53.95,-7.64 53.54,-7.13 C53.13,-6.61 52.41,-6.08 51.44,-5.67 C50.46,-5.27 49,-4.86 47.69,-4.68 C46.38,-4.51 44.84,-4.54 43.57,-4.64 C42.31,-4.74 41.18,-5 40.12,-5.29 C39.06,-5.57 38.2,-6.45 37.22,-6.34 C36.25,-6.24 35.18,-5.22 34.28,-4.65 C33.38,-4.09 32.72,-3.46 31.83,-2.95 C30.94,-2.45 29.75,-1.74 28.92,-1.63 C28.08,-1.53 27.3,-1.8 26.81,-2.32 C26.32,-2.83 25.98,-3.81 25.97,-4.72 C25.96,-5.63 26.21,-6.83 26.76,-7.8 C27.32,-8.76 28.42,-9.76 29.31,-10.51 C30.2,-11.25 31.23,-11.72 32.1,-12.27 C32.97,-12.82 34.17,-13.08 34.53,-13.81 C34.89,-14.54 34.41,-15.71 34.27,-16.65 C34.13,-17.59 33.8,-18.58 33.69,-19.47 C33.58,-20.36 33.5,-21.21 33.61,-21.98 C33.72,-22.75 33.85,-23.62 34.33,-24.09 C34.8,-24.56 35.68,-24.79 36.46,-24.8Z" fill="#cdcdcd"/>
<path d="M36.46,1.5 C37.24,1.5 38.22,1.8 38.99,2.2 C39.77,2.6 40.47,3.13 41.13,3.9 C41.79,4.67 42.54,5.86 42.98,6.81 C43.41,7.77 43.54,8.69 43.72,9.64 C43.9,10.58 43.74,11.69 44.07,12.49 C44.39,13.29 44.91,13.98 45.66,14.42 C46.41,14.85 47.54,14.82 48.56,15.11 C49.59,15.41 50.92,15.78 51.81,16.18 C52.7,16.58 53.61,17.03 53.9,17.53 C54.19,18.03 53.95,18.66 53.54,19.17 C53.13,19.69 52.41,20.22 51.44,20.63 C50.46,21.03 49,21.44 47.69,21.62 C46.38,21.79 44.84,21.76 43.57,21.66 C42.31,21.56 41.18,21.3 40.12,21.01 C39.06,20.73 38.2,19.85 37.22,19.96 C36.25,20.06 35.18,21.08 34.28,21.65 C33.38,22.21 32.72,22.84 31.83,23.35 C30.94,23.85 29.75,24.56 28.92,24.67 C28.08,24.77 27.3,24.5 26.81,23.98 C26.32,23.47 25.98,22.49 25.97,21.58 C25.96,20.67 26.21,19.47 26.76,18.5 C27.32,17.54 28.42,16.54 29.31,15.79 C30.2,15.05 31.23,14.58 32.1,14.03 C32.97,13.48 34.17,13.22 34.53,12.49 C34.89,11.76 34.41,10.59 34.27,9.65 C34.13,8.71 33.8,7.72 33.69,6.83 C33.58,5.94 33.5,5.09 33.61,4.32 C33.72,3.55 33.85,2.68 34.33,2.21 C34.8,1.74 35.68,1.51 36.46,1.5Z" fill="#cdcdcd"/>
<path d="M36.46,27.8 C37.24,27.8 38.22,28.1 38.99,28.5 C39.77,28.9 40.47,29.43 41.13,30.2 C41.79,30.97 42.54,32.16 42.98,33.11 C43.41,34.07 43.54,34.99 43.72,35.94 C43.9,36.88 43.74,37.99 44.07,38.79 C44.39,39.59 44.91,40.28 45.66,40.72 C46.41,41.15 47.54,41.12 48.56,41.41 C49.59,41.71 50.92,42.08 51.81,42.48 C52.7,42.88 53.61,43.33 53.9,43.83 C54.19,44.33 53.95,44.96 53.54,45.47 C53.13,45.99 52.41,46.52 51.44,46.93 C50.46,47.33 49,47.74 47.69,47.92 C46.38,48.09 44.84,48.06 43.57,47.96 C42.31,47.86 41.18,47.6 40.12,47.31 C39.06,47.03 38.2,46.15 37.22,46.26 C36.25,46.36 35.18,47.38 34.28,47.95 C33.38,48.51 32.72,49.14 31.83,49.65 C30.94,50.15 29.75,50.86 28.92,50.97 C28.08,51.07 27.3,50.8 26.81,50.28 C26.32,49.77 25.98,48.79 25.97,47.88 C25.96,46.97 26.21,45.77 26.76,44.8 C27.32,43.84 28.42,42.84 29.31,42.09 C30.2,41.35 31.23,40.88 32.1,40.33 C32.97,39.78 34.17,39.52 34.53,38.79 C34.89,38.06 34.41,36.89 34.27,35.95 C34.13,35.01 33.8,34.02 33.69,33.13 C33.58,32.24 33.5,31.39 33.61,30.62 C33.72,29.85 33.85,28.98 34.33,28.51 C34.8,28.04 35.68,27.81 36.46,27.8Z" fill="#cdcdcd"/>
<path d="M36.46,54.1 C37.24,54.1 38.22,54.4 38.99,54.8 C39.77,55.2 40.47,55.73 41.13,56.5 C41.79,57.27 42.54,58.46 42.98,59.41 C43.41,60.37 43.54,61.29 43.72,62.24 C43.9,63.18 43.74,64.29 44.07,65.09 C44.39,65.89 44.91,66.58 45.66,67.02 C46.41,67.45 47.54,67.42 48.56,67.71 C49.59,68.01 50.92,68.38 51.81,68.78 C52.7,69.18 53.61,69.63 53.9,70.13 C54.19,70.63 53.95,71.26 53.54,71.77 C53.13,72.29 52.41,72.82 51.44,73.23 C50.46,73.63 49,74.04 47.69,74.22 C46.38,74.39 44.84,74.36 43.57,74.26 C42.31,74.16 41.18,73.9 40.12,73.61 C39.06,73.33 38.2,72.45 37.22,72.56 C36.25,72.66 35.18,73.68 34.28,74.25 C33.38,74.81 32.72,75.44 31.83,75.95 C30.94,76.45 29.75,77.16 28.92,77.27 C28.08,77.37 27.3,77.1 26.81,76.58 C26.32,76.07 25.98,75.09 25.97,74.18 C25.96,73.27 26.21,72.07 26.76,71.1 C27.32,70.14 28.42,69.14 29.31,68.39 C30.2,67.65 31.23,67.18 32.1,66.63 C32.97,66.08 34.17,65.82 34.53,65.09 C34.89,64.36 34.41,63.19 34.27,62.25 C34.13,61.31 33.8,60.32 33.69,59.43 C33.58,58.54 33.5,57.69 33.61,56.92 C33.72,56.15 33.85,55.28 34.33,54.81 C34.8,54.34 35.68,54.11 36.46,54.1Z" fill="#cdcdcd"/>
<path d="M61.76,-24.8 C62.54,-24.8 63.52,-24.5 64.29,-24.1 C65.07,-23.7 65.77,-23.17 66.43,-22.4 C67.09,-21.63 67.84,-20.44 68.28,-19.49 C68.71,-18.53 68.84,-17.61 69.02,-16.66 C69.2,-15.72 69.04,-14.61 69.37,-13.81 C69.69,-13.01 70.21,-12.32 70.96,-11.88 C71.71,-11.45 72.84,-11.48 73.86,-11.19 C74.89,-10.89 76.22,-10.52 77.11,-10.12 C78,-9.72 78.91,-9.27 79.2,-8.77 C79.49,-8.27 79.25,-7.64 78.84,-7.13 C78.43,-6.61 77.71,-6.08 76.74,-5.67 C75.76,-5.27 74.3,-4.86 72.99,-4.68 C71.68,-4.51 70.14,-4.54 68.87,-4.64 C67.61,-4.74 66.48,-5 65.42,-5.29 C64.36,-5.57 63.5,-6.45 62.52,-6.34 C61.55,-6.24 60.48,-5.22 59.58,-4.65 C58.68,-4.09 58.02,-3.46 57.13,-2.95 C56.24,-2.45 55.05,-1.74 54.22,-1.63 C53.38,-1.53 52.6,-1.8 52.11,-2.32 C51.62,-2.83 51.28,-3.81 51.27,-4.72 C51.26,-5.63 51.51,-6.83 52.06,-7.8 C52.62,-8.76 53.72,-9.76 54.61,-10.51 C55.5,-11.25 56.53,-11.72 57.4,-12.27 C58.27,-12.82 59.47,-13.08 59.83,-13.81 C60.19,-14.54 59.71,-15.71 59.57,-16.65 C59.43,-17.59 59.1,-18.58 58.99,-19.47 C58.88,-20.36 58.8,-21.21 58.91,-21.98 C59.02,-22.75 59.15,-23.62 59.63,-24.09 C60.1,-24.56 60.98,-24.79 61.76,-24.8Z" fill="#cdcdcd"/>
<path d="M61.76,1.5 C62.54,1.5 63.52,1.8 64.29,2.2 C65.07,2.6 65.77,3.13 66.43,3.9 C67.09,4.67 67.84,5.86 68.28,6.81 C68.71,7.77 68.84,8.69 69.02,9.64 C69.2,10.58 69.04,11.69 69.37,12.49 C69.69,13.29 70.21,13.98 70.96,14.42 C71.71,14.85 72.84,14.82 73.86,15.11 C74.89,15.41 76.22,15.78 77.11,16.18 C78,16.58 78.91,17.03 79.2,17.53 C79.49,18.03 79.25,18.66 78.84,19.17 C78.43,19.69 77.71,20.22 76.74,20.63 C75.76,21.03 74.3,21.44 72.99,21.62 C71.68,21.79 70.14,21.76 68.87,21.66 C67.61,21.56 66.48,21.3 65.42,21.01 C64.36,20.73 63.5,19.85 62.52,19.96 C61.55,20.06 60.48,21.08 59.58,21.65 C58.68,22.21 58.02,22.84 57.13,23.35 C56.24,23.85 55.05,24.56 54.22,24.67 C53.38,24.77 52.6,24.5 52.11,23.98 C51.62,23.47 51.28,22.49 51.27,21.58 C51.26,20.67 51.51,19.47 52.06,18.5 C52.62,17.54 53.72,16.54 54.61,15.79 C55.5,15.05 56.53,14.58 57.4,14.03 C58.27,13.48 59.47,13.22 59.83,12.49 C60.19,11.76 59.71,10.59 59.57,9.65 C59.43,8.71 59.1,7.72 58.99,6.83 C58.88,5.94 58.8,5.09 58.91,4.32 C59.02,3.55 59.15,2.68 59.63,2.21 C60.1,1.74 60.98,1.51 61.76,1.5Z" fill="#cdcdcd"/>
<path d="M61.76,27.8 C62.54,27.8 63.52,28.1 64.29,28.5 C65.07,28.9 65.77,29.43 66.43,30.2 C67.09,30.97 67.84,32.16 68.28,33.11 C68.71,34.07 68.84,34.99 69.02,35.94 C69.2,36.88 69.04,37.99 69.37,38.79 C69.69,39.59 70.21,40.28 70.96,40.72 C71.71,41.15 72.84,41.12 73.86,41.41 C74.89,41.71 76.22,42.08 77.11,42.48 C78,42.88 78.91,43.33 79.2,43.83 C79.49,44.33 79.25,44.96 78.84,45.47 C78.43,45.99 77.71,46.52 76.74,46.93 C75.76,47.33 74.3,47.74 72.99,47.92 C71.68,48.09 70.14,48.06 68.87,47.96 C67.61,47.86 66.48,47.6 65.42,47.31 C64.36,47.03 63.5,46.15 62.52,46.26 C61.55,46.36 60.48,47.38 59.58,47.95 C58.68,48.51 58.02,49.14 57.13,49.65 C56.24,50.15 55.05,50.86 54.22,50.97 C53.38,51.07 52.6,50.8 52.11,50.28 C51.62,49.77 51.28,48.79 51.27,47.88 C51.26,46.97 51.51,45.77 52.06,44.8 C52.62,43.84 53.72,42.84 54.61,42.09 C55.5,41.35 56.53,40.88 57.4,40.33 C58.27,39.78 59.47,39.52 59.83,38.79 C60.19,38.06 59.71,36.89 59.57,35.95 C59.43,35.01 59.1,34.02 58.99,33.13 C58.88,32.24 58.8,31.39 58.91,30.62 C59.02,29.85 59.15,28.98 59.63,28.51 C60.1,28.04 60.98,27.81 61.76,27.8Z" fill="#cdcdcd"/>
<path d="M61.76,54.1 C62.54,54.1 63.52,54.4 64.29,54.8 C65.07,55.2 65.77,55.73 66.43,56.5 C67.09,57.27 67.84,58.46 68.28,59.41 C68.71,60.37 68.84,61.29 69.02,62.24 C69.2,63.18 69.04,64.29 69.37,65.09 C69.69,65.89 70.21,66.58 70.96,67.02 C71.71,67.45 72.84,67.42 73.86,67.71 C74.89,68.01 76.22,68.38 77.11,68.78 C78,69.18 78.91,69.63 79.2,70.13 C79.49,70.63 79.25,71.26 78.84,71.77 C78.43,72.29 77.71,72.82 76.74,73.23 C75.76,73.63 74.3,74.04 72.99,74.22 C71.68,74.39 70.14,74.36 68.87,74.26 C67.61,74.16 66.48,73.9 65.42,73.61 C64.36,73.33 63.5,72.45 62.52,72.56 C61.55,72.66 60.48,73.68 59.58,74.25 C58.68,74.81 58.02,75.44 57.13,75.95 C56.24,76.45 55.05,77.16 54.22,77.27 C53.38,77.37 52.6,77.1 52.11,76.58 C51.62,76.07 51.28,75.09 51.27,74.18 C51.26,73.27 51.51,72.07 52.06,71.1 C52.62,70.14 53.72,69.14 54.61,68.39 C55.5,67.65 56.53,67.18 57.4,66.63 C58.27,66.08 59.47,65.82 59.83,65.09 C60.19,64.36 59.71,63.19 59.57,62.25 C59.43,61.31 59.1,60.32 58.99,59.43 C58.88,58.54 58.8,57.69 58.91,56.92 C59.02,56.15 59.15,55.28 59.63,54.81 C60.1,54.34 60.98,54.11 61.76,54.1Z" fill="#cdcdcd"/>
</g></g>
<text transform="translate(44 8)" font-size="8.4" text-anchor="start" fill="#fff" font-weight="normal" stroke="#fff" stroke-width="0.22">L1</text>
<rect x="37.5" y="50.2" width="15" height="2.2" fill="#fff"/>
</g>
<g transform="translate(107,87)"><g clip-path="url(#cpb)">
<rect x="0" y="0" width="54" height="53" fill="#404040"/>
<g filter="url(#sb)">
<path d="M-14.45,-24.92 C-13.64,-24.92 -12.63,-24.62 -11.82,-24.2 C-11.01,-23.79 -10.29,-23.24 -9.6,-22.45 C-8.91,-21.66 -8.13,-20.43 -7.68,-19.44 C-7.23,-18.46 -7.09,-17.5 -6.89,-16.52 C-6.7,-15.54 -6.7,-14.38 -6.51,-13.56 C-6.32,-12.74 -6.3,-12.06 -5.74,-11.61 C-5.19,-11.15 -4.07,-11.16 -3.16,-10.84 C-2.25,-10.51 -1.07,-10.11 -0.28,-9.66 C0.51,-9.22 1.32,-8.73 1.57,-8.19 C1.83,-7.65 1.62,-6.96 1.26,-6.4 C0.89,-5.83 0.25,-5.25 -0.62,-4.8 C-1.49,-4.36 -2.79,-3.9 -3.96,-3.71 C-5.13,-3.52 -6.51,-3.54 -7.64,-3.64 C-8.77,-3.75 -9.79,-4.02 -10.75,-4.33 C-11.7,-4.63 -12.49,-5.59 -13.37,-5.48 C-14.25,-5.37 -15.2,-4.27 -16.01,-3.66 C-16.81,-3.05 -17.39,-2.36 -18.19,-1.82 C-18.98,-1.27 -20.03,-0.51 -20.78,-0.39 C-21.53,-0.28 -22.22,-0.58 -22.66,-1.14 C-23.1,-1.71 -23.4,-2.77 -23.41,-3.77 C-23.42,-4.76 -23.21,-6.07 -22.72,-7.13 C-22.23,-8.18 -21.25,-9.27 -20.46,-10.09 C-19.67,-10.9 -18.64,-11.45 -17.98,-12.03 C-17.32,-12.6 -16.71,-12.81 -16.5,-13.56 C-16.3,-14.3 -16.61,-15.53 -16.75,-16.51 C-16.89,-17.48 -17.23,-18.5 -17.34,-19.42 C-17.45,-20.33 -17.53,-21.21 -17.41,-22.01 C-17.3,-22.8 -17.15,-23.7 -16.66,-24.18 C-16.17,-24.67 -15.26,-24.92 -14.45,-24.92Z" fill="#cdcdcd"/>
<path d="M-14.45,1.08 C-13.64,1.08 -12.63,1.38 -11.82,1.8 C-11.01,2.21 -10.29,2.76 -9.6,3.55 C-8.91,4.34 -8.13,5.57 -7.68,6.56 C-7.23,7.54 -7.09,8.5 -6.89,9.48 C-6.7,10.46 -6.7,11.62 -6.51,12.44 C-6.32,13.26 -6.3,13.94 -5.74,14.39 C-5.19,14.85 -4.07,14.84 -3.16,15.16 C-2.25,15.49 -1.07,15.89 -0.28,16.34 C0.51,16.78 1.32,17.27 1.57,17.81 C1.83,18.35 1.62,19.04 1.26,19.6 C0.89,20.17 0.25,20.75 -0.62,21.2 C-1.49,21.64 -2.79,22.1 -3.96,22.29 C-5.13,22.48 -6.51,22.46 -7.64,22.36 C-8.77,22.25 -9.79,21.98 -10.75,21.67 C-11.7,21.37 -12.49,20.41 -13.37,20.52 C-14.25,20.63 -15.2,21.73 -16.01,22.34 C-16.81,22.95 -17.39,23.64 -18.19,24.18 C-18.98,24.73 -20.03,25.49 -20.78,25.61 C-21.53,25.72 -22.22,25.42 -22.66,24.86 C-23.1,24.29 -23.4,23.23 -23.41,22.23 C-23.42,21.24 -23.21,19.93 -22.72,18.87 C-22.23,17.82 -21.25,16.73 -20.46,15.91 C-19.67,15.1 -18.64,14.55 -17.98,13.97 C-17.32,13.4 -16.71,13.19 -16.5,12.44 C-16.3,11.7 -16.61,10.47 -16.75,9.49 C-16.89,8.52 -17.23,7.5 -17.34,6.58 C-17.45,5.67 -17.53,4.79 -17.41,3.99 C-17.3,3.2 -17.15,2.3 -16.66,1.82 C-16.17,1.33 -15.26,1.08 -14.45,1.08Z" fill="#cdcdcd"/>
<path d="M-14.45,27.08 C-13.64,27.08 -12.63,27.38 -11.82,27.8 C-11.01,28.21 -10.29,28.76 -9.6,29.55 C-8.91,30.34 -8.13,31.57 -7.68,32.56 C-7.23,33.54 -7.09,34.5 -6.89,35.48 C-6.7,36.46 -6.7,37.62 -6.51,38.44 C-6.32,39.26 -6.3,39.94 -5.74,40.39 C-5.19,40.85 -4.07,40.84 -3.16,41.16 C-2.25,41.49 -1.07,41.89 -0.28,42.34 C0.51,42.78 1.32,43.27 1.57,43.81 C1.83,44.35 1.62,45.04 1.26,45.6 C0.89,46.17 0.25,46.75 -0.62,47.2 C-1.49,47.64 -2.79,48.1 -3.96,48.29 C-5.13,48.48 -6.51,48.46 -7.64,48.36 C-8.77,48.25 -9.79,47.98 -10.75,47.67 C-11.7,47.37 -12.49,46.41 -13.37,46.52 C-14.25,46.63 -15.2,47.73 -16.01,48.34 C-16.81,48.95 -17.39,49.64 -18.19,50.18 C-18.98,50.73 -20.03,51.49 -20.78,51.61 C-21.53,51.72 -22.22,51.42 -22.66,50.86 C-23.1,50.29 -23.4,49.23 -23.41,48.23 C-23.42,47.24 -23.21,45.93 -22.72,44.87 C-22.23,43.82 -21.25,42.73 -20.46,41.91 C-19.67,41.1 -18.64,40.55 -17.98,39.97 C-17.32,39.4 -16.71,39.19 -16.5,38.44 C-16.3,37.7 -16.61,36.47 -16.75,35.49 C-16.89,34.52 -17.23,33.5 -17.34,32.58 C-17.45,31.67 -17.53,30.79 -17.41,29.99 C-17.3,29.2 -17.15,28.3 -16.66,27.82 C-16.17,27.33 -15.26,27.08 -14.45,27.08Z" fill="#cdcdcd"/>
<path d="M-14.45,53.08 C-13.64,53.08 -12.63,53.38 -11.82,53.8 C-11.01,54.21 -10.29,54.76 -9.6,55.55 C-8.91,56.34 -8.13,57.57 -7.68,58.56 C-7.23,59.54 -7.09,60.5 -6.89,61.48 C-6.7,62.46 -6.7,63.62 -6.51,64.44 C-6.32,65.26 -6.3,65.94 -5.74,66.39 C-5.19,66.85 -4.07,66.84 -3.16,67.16 C-2.25,67.49 -1.07,67.89 -0.28,68.34 C0.51,68.78 1.32,69.27 1.57,69.81 C1.83,70.35 1.62,71.04 1.26,71.6 C0.89,72.17 0.25,72.75 -0.62,73.2 C-1.49,73.64 -2.79,74.1 -3.96,74.29 C-5.13,74.48 -6.51,74.46 -7.64,74.36 C-8.77,74.25 -9.79,73.98 -10.75,73.67 C-11.7,73.37 -12.49,72.41 -13.37,72.52 C-14.25,72.63 -15.2,73.73 -16.01,74.34 C-16.81,74.95 -17.39,75.64 -18.19,76.18 C-18.98,76.73 -20.03,77.49 -20.78,77.61 C-21.53,77.72 -22.22,77.42 -22.66,76.86 C-23.1,76.29 -23.4,75.23 -23.41,74.23 C-23.42,73.24 -23.21,71.93 -22.72,70.87 C-22.23,69.82 -21.25,68.73 -20.46,67.91 C-19.67,67.1 -18.64,66.55 -17.98,65.97 C-17.32,65.4 -16.71,65.19 -16.5,64.44 C-16.3,63.7 -16.61,62.47 -16.75,61.49 C-16.89,60.52 -17.23,59.5 -17.34,58.58 C-17.45,57.67 -17.53,56.79 -17.41,55.99 C-17.3,55.2 -17.15,54.3 -16.66,53.82 C-16.17,53.33 -15.26,53.08 -14.45,53.08Z" fill="#cdcdcd"/>
<path d="M10.95,-24.92 C11.76,-24.92 12.77,-24.62 13.58,-24.2 C14.39,-23.79 15.11,-23.24 15.8,-22.45 C16.49,-21.66 17.27,-20.43 17.72,-19.44 C18.17,-18.46 18.31,-17.5 18.51,-16.52 C18.7,-15.54 18.7,-14.38 18.89,-13.56 C19.08,-12.74 19.1,-12.06 19.66,-11.61 C20.21,-11.15 21.33,-11.16 22.24,-10.84 C23.15,-10.51 24.33,-10.11 25.12,-9.66 C25.91,-9.22 26.72,-8.73 26.97,-8.19 C27.23,-7.65 27.02,-6.96 26.66,-6.4 C26.29,-5.83 25.65,-5.25 24.78,-4.8 C23.91,-4.36 22.61,-3.9 21.44,-3.71 C20.27,-3.52 18.89,-3.54 17.76,-3.64 C16.63,-3.75 15.61,-4.02 14.65,-4.33 C13.7,-4.63 12.91,-5.59 12.03,-5.48 C11.15,-5.37 10.2,-4.27 9.39,-3.66 C8.59,-3.05 8.01,-2.36 7.21,-1.82 C6.42,-1.27 5.37,-0.51 4.62,-0.39 C3.87,-0.28 3.18,-0.58 2.74,-1.14 C2.3,-1.71 2,-2.77 1.99,-3.77 C1.98,-4.76 2.19,-6.07 2.68,-7.13 C3.17,-8.18 4.15,-9.27 4.94,-10.09 C5.73,-10.9 6.76,-11.45 7.42,-12.03 C8.08,-12.6 8.69,-12.81 8.9,-13.56 C9.1,-14.3 8.79,-15.53 8.65,-16.51 C8.51,-17.48 8.17,-18.5 8.06,-19.42 C7.95,-20.33 7.87,-21.21 7.99,-22.01 C8.1,-22.8 8.25,-23.7 8.74,-24.18 C9.23,-24.67 10.14,-24.92 10.95,-24.92Z" fill="#cdcdcd"/>
<path d="M10.95,1.08 C11.76,1.08 12.77,1.38 13.58,1.8 C14.39,2.21 15.11,2.76 15.8,3.55 C16.49,4.34 17.27,5.57 17.72,6.56 C18.17,7.54 18.31,8.5 18.51,9.48 C18.7,10.46 18.7,11.62 18.89,12.44 C19.08,13.26 19.1,13.94 19.66,14.39 C20.21,14.85 21.33,14.84 22.24,15.16 C23.15,15.49 24.33,15.89 25.12,16.34 C25.91,16.78 26.72,17.27 26.97,17.81 C27.23,18.35 27.02,19.04 26.66,19.6 C26.29,20.17 25.65,20.75 24.78,21.2 C23.91,21.64 22.61,22.1 21.44,22.29 C20.27,22.48 18.89,22.46 17.76,22.36 C16.63,22.25 15.61,21.98 14.65,21.67 C13.7,21.37 12.91,20.41 12.03,20.52 C11.15,20.63 10.2,21.73 9.39,22.34 C8.59,22.95 8.01,23.64 7.21,24.18 C6.42,24.73 5.37,25.49 4.62,25.61 C3.87,25.72 3.18,25.42 2.74,24.86 C2.3,24.29 2,23.23 1.99,22.23 C1.98,21.24 2.19,19.93 2.68,18.87 C3.17,17.82 4.15,16.73 4.94,15.91 C5.73,15.1 6.76,14.55 7.42,13.97 C8.08,13.4 8.69,13.19 8.9,12.44 C9.1,11.7 8.79,10.47 8.65,9.49 C8.51,8.52 8.17,7.5 8.06,6.58 C7.95,5.67 7.87,4.79 7.99,3.99 C8.1,3.2 8.25,2.3 8.74,1.82 C9.23,1.33 10.14,1.08 10.95,1.08Z" fill="#cdcdcd"/>
<path d="M10.95,27.08 C11.76,27.08 12.77,27.38 13.58,27.8 C14.39,28.21 15.11,28.76 15.8,29.55 C16.49,30.34 17.27,31.57 17.72,32.56 C18.17,33.54 18.31,34.5 18.51,35.48 C18.7,36.46 18.7,37.62 18.89,38.44 C19.08,39.26 19.1,39.94 19.66,40.39 C20.21,40.85 21.33,40.84 22.24,41.16 C23.15,41.49 24.33,41.89 25.12,42.34 C25.91,42.78 26.72,43.27 26.97,43.81 C27.23,44.35 27.02,45.04 26.66,45.6 C26.29,46.17 25.65,46.75 24.78,47.2 C23.91,47.64 22.61,48.1 21.44,48.29 C20.27,48.48 18.89,48.46 17.76,48.36 C16.63,48.25 15.61,47.98 14.65,47.67 C13.7,47.37 12.91,46.41 12.03,46.52 C11.15,46.63 10.2,47.73 9.39,48.34 C8.59,48.95 8.01,49.64 7.21,50.18 C6.42,50.73 5.37,51.49 4.62,51.61 C3.87,51.72 3.18,51.42 2.74,50.86 C2.3,50.29 2,49.23 1.99,48.23 C1.98,47.24 2.19,45.93 2.68,44.87 C3.17,43.82 4.15,42.73 4.94,41.91 C5.73,41.1 6.76,40.55 7.42,39.97 C8.08,39.4 8.69,39.19 8.9,38.44 C9.1,37.7 8.79,36.47 8.65,35.49 C8.51,34.52 8.17,33.5 8.06,32.58 C7.95,31.67 7.87,30.79 7.99,29.99 C8.1,29.2 8.25,28.3 8.74,27.82 C9.23,27.33 10.14,27.08 10.95,27.08Z" fill="#cdcdcd"/>
<path d="M10.95,53.08 C11.76,53.08 12.77,53.38 13.58,53.8 C14.39,54.21 15.11,54.76 15.8,55.55 C16.49,56.34 17.27,57.57 17.72,58.56 C18.17,59.54 18.31,60.5 18.51,61.48 C18.7,62.46 18.7,63.62 18.89,64.44 C19.08,65.26 19.1,65.94 19.66,66.39 C20.21,66.85 21.33,66.84 22.24,67.16 C23.15,67.49 24.33,67.89 25.12,68.34 C25.91,68.78 26.72,69.27 26.97,69.81 C27.23,70.35 27.02,71.04 26.66,71.6 C26.29,72.17 25.65,72.75 24.78,73.2 C23.91,73.64 22.61,74.1 21.44,74.29 C20.27,74.48 18.89,74.46 17.76,74.36 C16.63,74.25 15.61,73.98 14.65,73.67 C13.7,73.37 12.91,72.41 12.03,72.52 C11.15,72.63 10.2,73.73 9.39,74.34 C8.59,74.95 8.01,75.64 7.21,76.18 C6.42,76.73 5.37,77.49 4.62,77.61 C3.87,77.72 3.18,77.42 2.74,76.86 C2.3,76.29 2,75.23 1.99,74.23 C1.98,73.24 2.19,71.93 2.68,70.87 C3.17,69.82 4.15,68.73 4.94,67.91 C5.73,67.1 6.76,66.55 7.42,65.97 C8.08,65.4 8.69,65.19 8.9,64.44 C9.1,63.7 8.79,62.47 8.65,61.49 C8.51,60.52 8.17,59.5 8.06,58.58 C7.95,57.67 7.87,56.79 7.99,55.99 C8.1,55.2 8.25,54.3 8.74,53.82 C9.23,53.33 10.14,53.08 10.95,53.08Z" fill="#cdcdcd"/>
<path d="M36.35,-24.92 C37.16,-24.92 38.17,-24.62 38.98,-24.2 C39.79,-23.79 40.51,-23.24 41.2,-22.45 C41.89,-21.66 42.67,-20.43 43.12,-19.44 C43.57,-18.46 43.71,-17.5 43.91,-16.52 C44.1,-15.54 44.1,-14.38 44.29,-13.56 C44.48,-12.74 44.5,-12.06 45.06,-11.61 C45.61,-11.15 46.73,-11.16 47.64,-10.84 C48.55,-10.51 49.73,-10.11 50.52,-9.66 C51.31,-9.22 52.12,-8.73 52.37,-8.19 C52.63,-7.65 52.42,-6.96 52.06,-6.4 C51.69,-5.83 51.05,-5.25 50.18,-4.8 C49.31,-4.36 48.01,-3.9 46.84,-3.71 C45.67,-3.52 44.29,-3.54 43.16,-3.64 C42.03,-3.75 41.01,-4.02 40.05,-4.33 C39.1,-4.63 38.31,-5.59 37.43,-5.48 C36.55,-5.37 35.6,-4.27 34.79,-3.66 C33.99,-3.05 33.41,-2.36 32.61,-1.82 C31.82,-1.27 30.77,-0.51 30.02,-0.39 C29.27,-0.28 28.58,-0.58 28.14,-1.14 C27.7,-1.71 27.4,-2.77 27.39,-3.77 C27.38,-4.76 27.59,-6.07 28.08,-7.13 C28.57,-8.18 29.55,-9.27 30.34,-10.09 C31.13,-10.9 32.16,-11.45 32.82,-12.03 C33.48,-12.6 34.09,-12.81 34.3,-13.56 C34.5,-14.3 34.19,-15.53 34.05,-16.51 C33.91,-17.48 33.57,-18.5 33.46,-19.42 C33.35,-20.33 33.27,-21.21 33.39,-22.01 C33.5,-22.8 33.65,-23.7 34.14,-24.18 C34.63,-24.67 35.54,-24.92 36.35,-24.92Z" fill="#cdcdcd"/>
<path d="M36.35,1.08 C37.16,1.08 38.17,1.38 38.98,1.8 C39.79,2.21 40.51,2.76 41.2,3.55 C41.89,4.34 42.67,5.57 43.12,6.56 C43.57,7.54 43.71,8.5 43.91,9.48 C44.1,10.46 44.1,11.62 44.29,12.44 C44.48,13.26 44.5,13.94 45.06,14.39 C45.61,14.85 46.73,14.84 47.64,15.16 C48.55,15.49 49.73,15.89 50.52,16.34 C51.31,16.78 52.12,17.27 52.37,17.81 C52.63,18.35 52.42,19.04 52.06,19.6 C51.69,20.17 51.05,20.75 50.18,21.2 C49.31,21.64 48.01,22.1 46.84,22.29 C45.67,22.48 44.29,22.46 43.16,22.36 C42.03,22.25 41.01,21.98 40.05,21.67 C39.1,21.37 38.31,20.41 37.43,20.52 C36.55,20.63 35.6,21.73 34.79,22.34 C33.99,22.95 33.41,23.64 32.61,24.18 C31.82,24.73 30.77,25.49 30.02,25.61 C29.27,25.72 28.58,25.42 28.14,24.86 C27.7,24.29 27.4,23.23 27.39,22.23 C27.38,21.24 27.59,19.93 28.08,18.87 C28.57,17.82 29.55,16.73 30.34,15.91 C31.13,15.1 32.16,14.55 32.82,13.97 C33.48,13.4 34.09,13.19 34.3,12.44 C34.5,11.7 34.19,10.47 34.05,9.49 C33.91,8.52 33.57,7.5 33.46,6.58 C33.35,5.67 33.27,4.79 33.39,3.99 C33.5,3.2 33.65,2.3 34.14,1.82 C34.63,1.33 35.54,1.08 36.35,1.08Z" fill="#cdcdcd"/>
<path d="M36.35,27.08 C37.16,27.08 38.17,27.38 38.98,27.8 C39.79,28.21 40.51,28.76 41.2,29.55 C41.89,30.34 42.67,31.57 43.12,32.56 C43.57,33.54 43.71,34.5 43.91,35.48 C44.1,36.46 44.1,37.62 44.29,38.44 C44.48,39.26 44.5,39.94 45.06,40.39 C45.61,40.85 46.73,40.84 47.64,41.16 C48.55,41.49 49.73,41.89 50.52,42.34 C51.31,42.78 52.12,43.27 52.37,43.81 C52.63,44.35 52.42,45.04 52.06,45.6 C51.69,46.17 51.05,46.75 50.18,47.2 C49.31,47.64 48.01,48.1 46.84,48.29 C45.67,48.48 44.29,48.46 43.16,48.36 C42.03,48.25 41.01,47.98 40.05,47.67 C39.1,47.37 38.31,46.41 37.43,46.52 C36.55,46.63 35.6,47.73 34.79,48.34 C33.99,48.95 33.41,49.64 32.61,50.18 C31.82,50.73 30.77,51.49 30.02,51.61 C29.27,51.72 28.58,51.42 28.14,50.86 C27.7,50.29 27.4,49.23 27.39,48.23 C27.38,47.24 27.59,45.93 28.08,44.87 C28.57,43.82 29.55,42.73 30.34,41.91 C31.13,41.1 32.16,40.55 32.82,39.97 C33.48,39.4 34.09,39.19 34.3,38.44 C34.5,37.7 34.19,36.47 34.05,35.49 C33.91,34.52 33.57,33.5 33.46,32.58 C33.35,31.67 33.27,30.79 33.39,29.99 C33.5,29.2 33.65,28.3 34.14,27.82 C34.63,27.33 35.54,27.08 36.35,27.08Z" fill="#cdcdcd"/>
<path d="M36.35,53.08 C37.16,53.08 38.17,53.38 38.98,53.8 C39.79,54.21 40.51,54.76 41.2,55.55 C41.89,56.34 42.67,57.57 43.12,58.56 C43.57,59.54 43.71,60.5 43.91,61.48 C44.1,62.46 44.1,63.62 44.29,64.44 C44.48,65.26 44.5,65.94 45.06,66.39 C45.61,66.85 46.73,66.84 47.64,67.16 C48.55,67.49 49.73,67.89 50.52,68.34 C51.31,68.78 52.12,69.27 52.37,69.81 C52.63,70.35 52.42,71.04 52.06,71.6 C51.69,72.17 51.05,72.75 50.18,73.2 C49.31,73.64 48.01,74.1 46.84,74.29 C45.67,74.48 44.29,74.46 43.16,74.36 C42.03,74.25 41.01,73.98 40.05,73.67 C39.1,73.37 38.31,72.41 37.43,72.52 C36.55,72.63 35.6,73.73 34.79,74.34 C33.99,74.95 33.41,75.64 32.61,76.18 C31.82,76.73 30.77,77.49 30.02,77.61 C29.27,77.72 28.58,77.42 28.14,76.86 C27.7,76.29 27.4,75.23 27.39,74.23 C27.38,73.24 27.59,71.93 28.08,70.87 C28.57,69.82 29.55,68.73 30.34,67.91 C31.13,67.1 32.16,66.55 32.82,65.97 C33.48,65.4 34.09,65.19 34.3,64.44 C34.5,63.7 34.19,62.47 34.05,61.49 C33.91,60.52 33.57,59.5 33.46,58.58 C33.35,57.67 33.27,56.79 33.39,55.99 C33.5,55.2 33.65,54.3 34.14,53.82 C34.63,53.33 35.54,53.08 36.35,53.08Z" fill="#cdcdcd"/>
<path d="M61.75,-24.92 C62.56,-24.92 63.57,-24.62 64.38,-24.2 C65.19,-23.79 65.91,-23.24 66.6,-22.45 C67.29,-21.66 68.07,-20.43 68.52,-19.44 C68.97,-18.46 69.11,-17.5 69.31,-16.52 C69.5,-15.54 69.5,-14.38 69.69,-13.56 C69.88,-12.74 69.9,-12.06 70.46,-11.61 C71.01,-11.15 72.13,-11.16 73.04,-10.84 C73.95,-10.51 75.13,-10.11 75.92,-9.66 C76.71,-9.22 77.52,-8.73 77.77,-8.19 C78.03,-7.65 77.82,-6.96 77.46,-6.4 C77.09,-5.83 76.45,-5.25 75.58,-4.8 C74.71,-4.36 73.41,-3.9 72.24,-3.71 C71.07,-3.52 69.69,-3.54 68.56,-3.64 C67.43,-3.75 66.41,-4.02 65.45,-4.33 C64.5,-4.63 63.71,-5.59 62.83,-5.48 C61.95,-5.37 61,-4.27 60.19,-3.66 C59.39,-3.05 58.81,-2.36 58.01,-1.82 C57.22,-1.27 56.17,-0.51 55.42,-0.39 C54.67,-0.28 53.98,-0.58 53.54,-1.14 C53.1,-1.71 52.8,-2.77 52.79,-3.77 C52.78,-4.76 52.99,-6.07 53.48,-7.13 C53.97,-8.18 54.95,-9.27 55.74,-10.09 C56.53,-10.9 57.56,-11.45 58.22,-12.03 C58.88,-12.6 59.49,-12.81 59.7,-13.56 C59.9,-14.3 59.59,-15.53 59.45,-16.51 C59.31,-17.48 58.97,-18.5 58.86,-19.42 C58.75,-20.33 58.67,-21.21 58.79,-22.01 C58.9,-22.8 59.05,-23.7 59.54,-24.18 C60.03,-24.67 60.94,-24.92 61.75,-24.92Z" fill="#cdcdcd"/>
<path d="M61.75,1.08 C62.56,1.08 63.57,1.38 64.38,1.8 C65.19,2.21 65.91,2.76 66.6,3.55 C67.29,4.34 68.07,5.57 68.52,6.56 C68.97,7.54 69.11,8.5 69.31,9.48 C69.5,10.46 69.5,11.62 69.69,12.44 C69.88,13.26 69.9,13.94 70.46,14.39 C71.01,14.85 72.13,14.84 73.04,15.16 C73.95,15.49 75.13,15.89 75.92,16.34 C76.71,16.78 77.52,17.27 77.77,17.81 C78.03,18.35 77.82,19.04 77.46,19.6 C77.09,20.17 76.45,20.75 75.58,21.2 C74.71,21.64 73.41,22.1 72.24,22.29 C71.07,22.48 69.69,22.46 68.56,22.36 C67.43,22.25 66.41,21.98 65.45,21.67 C64.5,21.37 63.71,20.41 62.83,20.52 C61.95,20.63 61,21.73 60.19,22.34 C59.39,22.95 58.81,23.64 58.01,24.18 C57.22,24.73 56.17,25.49 55.42,25.61 C54.67,25.72 53.98,25.42 53.54,24.86 C53.1,24.29 52.8,23.23 52.79,22.23 C52.78,21.24 52.99,19.93 53.48,18.87 C53.97,17.82 54.95,16.73 55.74,15.91 C56.53,15.1 57.56,14.55 58.22,13.97 C58.88,13.4 59.49,13.19 59.7,12.44 C59.9,11.7 59.59,10.47 59.45,9.49 C59.31,8.52 58.97,7.5 58.86,6.58 C58.75,5.67 58.67,4.79 58.79,3.99 C58.9,3.2 59.05,2.3 59.54,1.82 C60.03,1.33 60.94,1.08 61.75,1.08Z" fill="#cdcdcd"/>
<path d="M61.75,27.08 C62.56,27.08 63.57,27.38 64.38,27.8 C65.19,28.21 65.91,28.76 66.6,29.55 C67.29,30.34 68.07,31.57 68.52,32.56 C68.97,33.54 69.11,34.5 69.31,35.48 C69.5,36.46 69.5,37.62 69.69,38.44 C69.88,39.26 69.9,39.94 70.46,40.39 C71.01,40.85 72.13,40.84 73.04,41.16 C73.95,41.49 75.13,41.89 75.92,42.34 C76.71,42.78 77.52,43.27 77.77,43.81 C78.03,44.35 77.82,45.04 77.46,45.6 C77.09,46.17 76.45,46.75 75.58,47.2 C74.71,47.64 73.41,48.1 72.24,48.29 C71.07,48.48 69.69,48.46 68.56,48.36 C67.43,48.25 66.41,47.98 65.45,47.67 C64.5,47.37 63.71,46.41 62.83,46.52 C61.95,46.63 61,47.73 60.19,48.34 C59.39,48.95 58.81,49.64 58.01,50.18 C57.22,50.73 56.17,51.49 55.42,51.61 C54.67,51.72 53.98,51.42 53.54,50.86 C53.1,50.29 52.8,49.23 52.79,48.23 C52.78,47.24 52.99,45.93 53.48,44.87 C53.97,43.82 54.95,42.73 55.74,41.91 C56.53,41.1 57.56,40.55 58.22,39.97 C58.88,39.4 59.49,39.19 59.7,38.44 C59.9,37.7 59.59,36.47 59.45,35.49 C59.31,34.52 58.97,33.5 58.86,32.58 C58.75,31.67 58.67,30.79 58.79,29.99 C58.9,29.2 59.05,28.3 59.54,27.82 C60.03,27.33 60.94,27.08 61.75,27.08Z" fill="#cdcdcd"/>
<path d="M61.75,53.08 C62.56,53.08 63.57,53.38 64.38,53.8 C65.19,54.21 65.91,54.76 66.6,55.55 C67.29,56.34 68.07,57.57 68.52,58.56 C68.97,59.54 69.11,60.5 69.31,61.48 C69.5,62.46 69.5,63.62 69.69,64.44 C69.88,65.26 69.9,65.94 70.46,66.39 C71.01,66.85 72.13,66.84 73.04,67.16 C73.95,67.49 75.13,67.89 75.92,68.34 C76.71,68.78 77.52,69.27 77.77,69.81 C78.03,70.35 77.82,71.04 77.46,71.6 C77.09,72.17 76.45,72.75 75.58,73.2 C74.71,73.64 73.41,74.1 72.24,74.29 C71.07,74.48 69.69,74.46 68.56,74.36 C67.43,74.25 66.41,73.98 65.45,73.67 C64.5,73.37 63.71,72.41 62.83,72.52 C61.95,72.63 61,73.73 60.19,74.34 C59.39,74.95 58.81,75.64 58.01,76.18 C57.22,76.73 56.17,77.49 55.42,77.61 C54.67,77.72 53.98,77.42 53.54,76.86 C53.1,76.29 52.8,75.23 52.79,74.23 C52.78,73.24 52.99,71.93 53.48,70.87 C53.97,69.82 54.95,68.73 55.74,67.91 C56.53,67.1 57.56,66.55 58.22,65.97 C58.88,65.4 59.49,65.19 59.7,64.44 C59.9,63.7 59.59,62.47 59.45,61.49 C59.31,60.52 58.97,59.5 58.86,58.58 C58.75,57.67 58.67,56.79 58.79,55.99 C58.9,55.2 59.05,54.3 59.54,53.82 C60.03,53.33 60.94,53.08 61.75,53.08Z" fill="#cdcdcd"/>
</g></g>
<text transform="translate(44 8)" font-size="8.4" text-anchor="start" fill="#fff" font-weight="normal" stroke="#fff" stroke-width="0.22">L3</text>
<rect x="37.5" y="50.2" width="15" height="2.2" fill="#fff"/>
</g>
<g transform="translate(163,87)"><g clip-path="url(#cpb)">
<rect x="0" y="0" width="54" height="53" fill="#404040"/>
<g filter="url(#sb)">
<path d="M-14.26,-25.18 C-13.45,-25.18 -12.44,-24.88 -11.62,-24.47 C-10.81,-24.07 -10.09,-23.52 -9.39,-22.73 C-8.69,-21.95 -7.9,-20.73 -7.44,-19.74 C-6.98,-18.76 -6.83,-17.81 -6.62,-16.83 C-6.41,-15.85 -6.55,-14.68 -6.19,-13.84 C-5.82,-13 -5.21,-12.27 -4.41,-11.8 C-3.62,-11.33 -2.47,-11.35 -1.42,-11.03 C-0.36,-10.71 1.01,-10.31 1.93,-9.88 C2.84,-9.45 3.77,-8.97 4.07,-8.44 C4.36,-7.91 4.12,-7.25 3.69,-6.69 C3.26,-6.14 2.52,-5.57 1.5,-5.13 C0.49,-4.69 -1.03,-4.24 -2.4,-4.04 C-3.77,-3.84 -5.39,-3.85 -6.73,-3.93 C-8.07,-4.02 -9.28,-4.27 -10.42,-4.57 C-11.56,-4.86 -12.53,-5.79 -13.57,-5.69 C-14.62,-5.59 -15.73,-4.54 -16.67,-3.96 C-17.61,-3.38 -18.28,-2.72 -19.21,-2.2 C-20.14,-1.68 -21.36,-0.94 -22.23,-0.84 C-23.1,-0.74 -23.92,-1.03 -24.43,-1.58 C-24.95,-2.13 -25.31,-3.16 -25.33,-4.13 C-25.35,-5.1 -25.11,-6.37 -24.54,-7.4 C-23.98,-8.43 -22.85,-9.49 -21.94,-10.29 C-21.03,-11.09 -19.98,-11.62 -19.06,-12.21 C-18.14,-12.8 -16.83,-13.07 -16.42,-13.83 C-16.02,-14.6 -16.51,-15.82 -16.63,-16.8 C-16.76,-17.78 -17.09,-18.79 -17.19,-19.7 C-17.29,-20.61 -17.37,-21.49 -17.25,-22.28 C-17.13,-23.07 -16.98,-23.96 -16.48,-24.44 C-15.98,-24.92 -15.07,-25.17 -14.26,-25.18Z" fill="#cdcdcd"/>
<path d="M-14.26,1.12 C-13.45,1.12 -12.44,1.42 -11.62,1.83 C-10.81,2.23 -10.09,2.78 -9.39,3.57 C-8.69,4.35 -7.9,5.57 -7.44,6.56 C-6.98,7.54 -6.83,8.49 -6.62,9.47 C-6.41,10.45 -6.55,11.62 -6.19,12.46 C-5.82,13.3 -5.21,14.03 -4.41,14.5 C-3.62,14.97 -2.47,14.95 -1.42,15.27 C-0.36,15.59 1.01,15.99 1.93,16.42 C2.84,16.85 3.77,17.33 4.07,17.86 C4.36,18.39 4.12,19.05 3.69,19.61 C3.26,20.16 2.52,20.73 1.5,21.17 C0.49,21.61 -1.03,22.06 -2.4,22.26 C-3.77,22.46 -5.39,22.45 -6.73,22.37 C-8.07,22.28 -9.28,22.03 -10.42,21.73 C-11.56,21.44 -12.53,20.51 -13.57,20.61 C-14.62,20.71 -15.73,21.76 -16.67,22.34 C-17.61,22.92 -18.28,23.58 -19.21,24.1 C-20.14,24.62 -21.36,25.36 -22.23,25.46 C-23.1,25.56 -23.92,25.27 -24.43,24.72 C-24.95,24.17 -25.31,23.14 -25.33,22.17 C-25.35,21.2 -25.11,19.93 -24.54,18.9 C-23.98,17.87 -22.85,16.81 -21.94,16.01 C-21.03,15.21 -19.98,14.68 -19.06,14.09 C-18.14,13.5 -16.83,13.23 -16.42,12.47 C-16.02,11.7 -16.51,10.48 -16.63,9.5 C-16.76,8.52 -17.09,7.51 -17.19,6.6 C-17.29,5.69 -17.37,4.81 -17.25,4.02 C-17.13,3.23 -16.98,2.34 -16.48,1.86 C-15.98,1.38 -15.07,1.13 -14.26,1.12Z" fill="#cdcdcd"/>
<path d="M-14.26,27.42 C-13.45,27.42 -12.44,27.72 -11.62,28.13 C-10.81,28.53 -10.09,29.08 -9.39,29.87 C-8.69,30.65 -7.9,31.87 -7.44,32.86 C-6.98,33.84 -6.83,34.79 -6.62,35.77 C-6.41,36.75 -6.55,37.92 -6.19,38.76 C-5.82,39.6 -5.21,40.33 -4.41,40.8 C-3.62,41.27 -2.47,41.25 -1.42,41.57 C-0.36,41.89 1.01,42.29 1.93,42.72 C2.84,43.15 3.77,43.63 4.07,44.16 C4.36,44.69 4.12,45.35 3.69,45.91 C3.26,46.46 2.52,47.03 1.5,47.47 C0.49,47.91 -1.03,48.36 -2.4,48.56 C-3.77,48.76 -5.39,48.75 -6.73,48.67 C-8.07,48.58 -9.28,48.33 -10.42,48.03 C-11.56,47.74 -12.53,46.81 -13.57,46.91 C-14.62,47.01 -15.73,48.06 -16.67,48.64 C-17.61,49.22 -18.28,49.88 -19.21,50.4 C-20.14,50.92 -21.36,51.66 -22.23,51.76 C-23.1,51.86 -23.92,51.57 -24.43,51.02 C-24.95,50.47 -25.31,49.44 -25.33,48.47 C-25.35,47.5 -25.11,46.23 -24.54,45.2 C-23.98,44.17 -22.85,43.11 -21.94,42.31 C-21.03,41.51 -19.98,40.98 -19.06,40.39 C-18.14,39.8 -16.83,39.53 -16.42,38.77 C-16.02,38 -16.51,36.78 -16.63,35.8 C-16.76,34.82 -17.09,33.81 -17.19,32.9 C-17.29,31.99 -17.37,31.11 -17.25,30.32 C-17.13,29.53 -16.98,28.64 -16.48,28.16 C-15.98,27.68 -15.07,27.43 -14.26,27.42Z" fill="#cdcdcd"/>
<path d="M-14.26,53.72 C-13.45,53.72 -12.44,54.02 -11.62,54.43 C-10.81,54.83 -10.09,55.38 -9.39,56.17 C-8.69,56.95 -7.9,58.17 -7.44,59.16 C-6.98,60.14 -6.83,61.09 -6.62,62.07 C-6.41,63.05 -6.55,64.22 -6.19,65.06 C-5.82,65.9 -5.21,66.63 -4.41,67.1 C-3.62,67.57 -2.47,67.55 -1.42,67.87 C-0.36,68.19 1.01,68.59 1.93,69.02 C2.84,69.45 3.77,69.93 4.07,70.46 C4.36,70.99 4.12,71.65 3.69,72.21 C3.26,72.76 2.52,73.33 1.5,73.77 C0.49,74.21 -1.03,74.66 -2.4,74.86 C-3.77,75.06 -5.39,75.05 -6.73,74.97 C-8.07,74.88 -9.28,74.63 -10.42,74.33 C-11.56,74.04 -12.53,73.11 -13.57,73.21 C-14.62,73.31 -15.73,74.36 -16.67,74.94 C-17.61,75.52 -18.28,76.18 -19.21,76.7 C-20.14,77.22 -21.36,77.96 -22.23,78.06 C-23.1,78.16 -23.92,77.87 -24.43,77.32 C-24.95,76.77 -25.31,75.74 -25.33,74.77 C-25.35,73.8 -25.11,72.53 -24.54,71.5 C-23.98,70.47 -22.85,69.41 -21.94,68.61 C-21.03,67.81 -19.98,67.28 -19.06,66.69 C-18.14,66.1 -16.83,65.83 -16.42,65.07 C-16.02,64.3 -16.51,63.08 -16.63,62.1 C-16.76,61.12 -17.09,60.11 -17.19,59.2 C-17.29,58.29 -17.37,57.41 -17.25,56.62 C-17.13,55.83 -16.98,54.94 -16.48,54.46 C-15.98,53.98 -15.07,53.73 -14.26,53.72Z" fill="#cdcdcd"/>
<path d="M11.04,-25.18 C11.85,-25.18 12.86,-24.88 13.68,-24.47 C14.49,-24.07 15.21,-23.52 15.91,-22.73 C16.61,-21.95 17.4,-20.73 17.86,-19.74 C18.32,-18.76 18.47,-17.81 18.68,-16.83 C18.89,-15.85 18.75,-14.68 19.11,-13.84 C19.48,-13 20.09,-12.27 20.89,-11.8 C21.68,-11.33 22.83,-11.35 23.88,-11.03 C24.94,-10.71 26.31,-10.31 27.23,-9.88 C28.14,-9.45 29.07,-8.97 29.37,-8.44 C29.66,-7.91 29.42,-7.25 28.99,-6.69 C28.56,-6.14 27.82,-5.57 26.8,-5.13 C25.79,-4.69 24.27,-4.24 22.9,-4.04 C21.53,-3.84 19.91,-3.85 18.57,-3.93 C17.23,-4.02 16.02,-4.27 14.88,-4.57 C13.74,-4.86 12.77,-5.79 11.73,-5.69 C10.68,-5.59 9.57,-4.54 8.63,-3.96 C7.69,-3.38 7.02,-2.72 6.09,-2.2 C5.16,-1.68 3.94,-0.94 3.07,-0.84 C2.2,-0.74 1.38,-1.03 0.87,-1.58 C0.35,-2.13 -0.01,-3.16 -0.03,-4.13 C-0.05,-5.1 0.19,-6.37 0.76,-7.4 C1.32,-8.43 2.45,-9.49 3.36,-10.29 C4.27,-11.09 5.32,-11.62 6.24,-12.21 C7.16,-12.8 8.47,-13.07 8.88,-13.83 C9.28,-14.6 8.79,-15.82 8.67,-16.8 C8.54,-17.78 8.21,-18.79 8.11,-19.7 C8.01,-20.61 7.93,-21.49 8.05,-22.28 C8.17,-23.07 8.32,-23.96 8.82,-24.44 C9.32,-24.92 10.23,-25.17 11.04,-25.18Z" fill="#cdcdcd"/>
<path d="M11.04,1.12 C11.85,1.12 12.86,1.42 13.68,1.83 C14.49,2.23 15.21,2.78 15.91,3.57 C16.61,4.35 17.4,5.57 17.86,6.56 C18.32,7.54 18.47,8.49 18.68,9.47 C18.89,10.45 18.75,11.62 19.11,12.46 C19.48,13.3 20.09,14.03 20.89,14.5 C21.68,14.97 22.83,14.95 23.88,15.27 C24.94,15.59 26.31,15.99 27.23,16.42 C28.14,16.85 29.07,17.33 29.37,17.86 C29.66,18.39 29.42,19.05 28.99,19.61 C28.56,20.16 27.82,20.73 26.8,21.17 C25.79,21.61 24.27,22.06 22.9,22.26 C21.53,22.46 19.91,22.45 18.57,22.37 C17.23,22.28 16.02,22.03 14.88,21.73 C13.74,21.44 12.77,20.51 11.73,20.61 C10.68,20.71 9.57,21.76 8.63,22.34 C7.69,22.92 7.02,23.58 6.09,24.1 C5.16,24.62 3.94,25.36 3.07,25.46 C2.2,25.56 1.38,25.27 0.87,24.72 C0.35,24.17 -0.01,23.14 -0.03,22.17 C-0.05,21.2 0.19,19.93 0.76,18.9 C1.32,17.87 2.45,16.81 3.36,16.01 C4.27,15.21 5.32,14.68 6.24,14.09 C7.16,13.5 8.47,13.23 8.88,12.47 C9.28,11.7 8.79,10.48 8.67,9.5 C8.54,8.52 8.21,7.51 8.11,6.6 C8.01,5.69 7.93,4.81 8.05,4.02 C8.17,3.23 8.32,2.34 8.82,1.86 C9.32,1.38 10.23,1.13 11.04,1.12Z" fill="#cdcdcd"/>
<path d="M11.04,27.42 C11.85,27.42 12.86,27.72 13.68,28.13 C14.49,28.53 15.21,29.08 15.91,29.87 C16.61,30.65 17.4,31.87 17.86,32.86 C18.32,33.84 18.47,34.79 18.68,35.77 C18.89,36.75 18.75,37.92 19.11,38.76 C19.48,39.6 20.09,40.33 20.89,40.8 C21.68,41.27 22.83,41.25 23.88,41.57 C24.94,41.89 26.31,42.29 27.23,42.72 C28.14,43.15 29.07,43.63 29.37,44.16 C29.66,44.69 29.42,45.35 28.99,45.91 C28.56,46.46 27.82,47.03 26.8,47.47 C25.79,47.91 24.27,48.36 22.9,48.56 C21.53,48.76 19.91,48.75 18.57,48.67 C17.23,48.58 16.02,48.33 14.88,48.03 C13.74,47.74 12.77,46.81 11.73,46.91 C10.68,47.01 9.57,48.06 8.63,48.64 C7.69,49.22 7.02,49.88 6.09,50.4 C5.16,50.92 3.94,51.66 3.07,51.76 C2.2,51.86 1.38,51.57 0.87,51.02 C0.35,50.47 -0.01,49.44 -0.03,48.47 C-0.05,47.5 0.19,46.23 0.76,45.2 C1.32,44.17 2.45,43.11 3.36,42.31 C4.27,41.51 5.32,40.98 6.24,40.39 C7.16,39.8 8.47,39.53 8.88,38.77 C9.28,38 8.79,36.78 8.67,35.8 C8.54,34.82 8.21,33.81 8.11,32.9 C8.01,31.99 7.93,31.11 8.05,30.32 C8.17,29.53 8.32,28.64 8.82,28.16 C9.32,27.68 10.23,27.43 11.04,27.42Z" fill="#cdcdcd"/>
<path d="M11.04,53.72 C11.85,53.72 12.86,54.02 13.68,54.43 C14.49,54.83 15.21,55.38 15.91,56.17 C16.61,56.95 17.4,58.17 17.86,59.16 C18.32,60.14 18.47,61.09 18.68,62.07 C18.89,63.05 18.75,64.22 19.11,65.06 C19.48,65.9 20.09,66.63 20.89,67.1 C21.68,67.57 22.83,67.55 23.88,67.87 C24.94,68.19 26.31,68.59 27.23,69.02 C28.14,69.45 29.07,69.93 29.37,70.46 C29.66,70.99 29.42,71.65 28.99,72.21 C28.56,72.76 27.82,73.33 26.8,73.77 C25.79,74.21 24.27,74.66 22.9,74.86 C21.53,75.06 19.91,75.05 18.57,74.97 C17.23,74.88 16.02,74.63 14.88,74.33 C13.74,74.04 12.77,73.11 11.73,73.21 C10.68,73.31 9.57,74.36 8.63,74.94 C7.69,75.52 7.02,76.18 6.09,76.7 C5.16,77.22 3.94,77.96 3.07,78.06 C2.2,78.16 1.38,77.87 0.87,77.32 C0.35,76.77 -0.01,75.74 -0.03,74.77 C-0.05,73.8 0.19,72.53 0.76,71.5 C1.32,70.47 2.45,69.41 3.36,68.61 C4.27,67.81 5.32,67.28 6.24,66.69 C7.16,66.1 8.47,65.83 8.88,65.07 C9.28,64.3 8.79,63.08 8.67,62.1 C8.54,61.12 8.21,60.11 8.11,59.2 C8.01,58.29 7.93,57.41 8.05,56.62 C8.17,55.83 8.32,54.94 8.82,54.46 C9.32,53.98 10.23,53.73 11.04,53.72Z" fill="#cdcdcd"/>
<path d="M36.34,-25.18 C37.15,-25.18 38.16,-24.88 38.98,-24.47 C39.79,-24.07 40.51,-23.52 41.21,-22.73 C41.91,-21.95 42.7,-20.73 43.16,-19.74 C43.62,-18.76 43.77,-17.81 43.98,-16.83 C44.19,-15.85 44.05,-14.68 44.41,-13.84 C44.78,-13 45.39,-12.27 46.19,-11.8 C46.98,-11.33 48.13,-11.35 49.18,-11.03 C50.24,-10.71 51.61,-10.31 52.53,-9.88 C53.44,-9.45 54.37,-8.97 54.67,-8.44 C54.96,-7.91 54.72,-7.25 54.29,-6.69 C53.86,-6.14 53.12,-5.57 52.1,-5.13 C51.09,-4.69 49.57,-4.24 48.2,-4.04 C46.83,-3.84 45.21,-3.85 43.87,-3.93 C42.53,-4.02 41.32,-4.27 40.18,-4.57 C39.04,-4.86 38.07,-5.79 37.03,-5.69 C35.98,-5.59 34.87,-4.54 33.93,-3.96 C32.99,-3.38 32.32,-2.72 31.39,-2.2 C30.46,-1.68 29.24,-0.94 28.37,-0.84 C27.5,-0.74 26.68,-1.03 26.17,-1.58 C25.65,-2.13 25.29,-3.16 25.27,-4.13 C25.25,-5.1 25.49,-6.37 26.06,-7.4 C26.62,-8.43 27.75,-9.49 28.66,-10.29 C29.57,-11.09 30.62,-11.62 31.54,-12.21 C32.46,-12.8 33.77,-13.07 34.18,-13.83 C34.58,-14.6 34.09,-15.82 33.97,-16.8 C33.84,-17.78 33.51,-18.79 33.41,-19.7 C33.31,-20.61 33.23,-21.49 33.35,-22.28 C33.47,-23.07 33.62,-23.96 34.12,-24.44 C34.62,-24.92 35.53,-25.17 36.34,-25.18Z" fill="#cdcdcd"/>
<path d="M36.34,1.12 C37.15,1.12 38.16,1.42 38.98,1.83 C39.79,2.23 40.51,2.78 41.21,3.57 C41.91,4.35 42.7,5.57 43.16,6.56 C43.62,7.54 43.77,8.49 43.98,9.47 C44.19,10.45 44.05,11.62 44.41,12.46 C44.78,13.3 45.39,14.03 46.19,14.5 C46.98,14.97 48.13,14.95 49.18,15.27 C50.24,15.59 51.61,15.99 52.53,16.42 C53.44,16.85 54.37,17.33 54.67,17.86 C54.96,18.39 54.72,19.05 54.29,19.61 C53.86,20.16 53.12,20.73 52.1,21.17 C51.09,21.61 49.57,22.06 48.2,22.26 C46.83,22.46 45.21,22.45 43.87,22.37 C42.53,22.28 41.32,22.03 40.18,21.73 C39.04,21.44 38.07,20.51 37.03,20.61 C35.98,20.71 34.87,21.76 33.93,22.34 C32.99,22.92 32.32,23.58 31.39,24.1 C30.46,24.62 29.24,25.36 28.37,25.46 C27.5,25.56 26.68,25.27 26.17,24.72 C25.65,24.17 25.29,23.14 25.27,22.17 C25.25,21.2 25.49,19.93 26.06,18.9 C26.62,17.87 27.75,16.81 28.66,16.01 C29.57,15.21 30.62,14.68 31.54,14.09 C32.46,13.5 33.77,13.23 34.18,12.47 C34.58,11.7 34.09,10.48 33.97,9.5 C33.84,8.52 33.51,7.51 33.41,6.6 C33.31,5.69 33.23,4.81 33.35,4.02 C33.47,3.23 33.62,2.34 34.12,1.86 C34.62,1.38 35.53,1.13 36.34,1.12Z" fill="#cdcdcd"/>
<path d="M36.34,27.42 C37.15,27.42 38.16,27.72 38.98,28.13 C39.79,28.53 40.51,29.08 41.21,29.87 C41.91,30.65 42.7,31.87 43.16,32.86 C43.62,33.84 43.77,34.79 43.98,35.77 C44.19,36.75 44.05,37.92 44.41,38.76 C44.78,39.6 45.39,40.33 46.19,40.8 C46.98,41.27 48.13,41.25 49.18,41.57 C50.24,41.89 51.61,42.29 52.53,42.72 C53.44,43.15 54.37,43.63 54.67,44.16 C54.96,44.69 54.72,45.35 54.29,45.91 C53.86,46.46 53.12,47.03 52.1,47.47 C51.09,47.91 49.57,48.36 48.2,48.56 C46.83,48.76 45.21,48.75 43.87,48.67 C42.53,48.58 41.32,48.33 40.18,48.03 C39.04,47.74 38.07,46.81 37.03,46.91 C35.98,47.01 34.87,48.06 33.93,48.64 C32.99,49.22 32.32,49.88 31.39,50.4 C30.46,50.92 29.24,51.66 28.37,51.76 C27.5,51.86 26.68,51.57 26.17,51.02 C25.65,50.47 25.29,49.44 25.27,48.47 C25.25,47.5 25.49,46.23 26.06,45.2 C26.62,44.17 27.75,43.11 28.66,42.31 C29.57,41.51 30.62,40.98 31.54,40.39 C32.46,39.8 33.77,39.53 34.18,38.77 C34.58,38 34.09,36.78 33.97,35.8 C33.84,34.82 33.51,33.81 33.41,32.9 C33.31,31.99 33.23,31.11 33.35,30.32 C33.47,29.53 33.62,28.64 34.12,28.16 C34.62,27.68 35.53,27.43 36.34,27.42Z" fill="#cdcdcd"/>
<path d="M36.34,53.72 C37.15,53.72 38.16,54.02 38.98,54.43 C39.79,54.83 40.51,55.38 41.21,56.17 C41.91,56.95 42.7,58.17 43.16,59.16 C43.62,60.14 43.77,61.09 43.98,62.07 C44.19,63.05 44.05,64.22 44.41,65.06 C44.78,65.9 45.39,66.63 46.19,67.1 C46.98,67.57 48.13,67.55 49.18,67.87 C50.24,68.19 51.61,68.59 52.53,69.02 C53.44,69.45 54.37,69.93 54.67,70.46 C54.96,70.99 54.72,71.65 54.29,72.21 C53.86,72.76 53.12,73.33 52.1,73.77 C51.09,74.21 49.57,74.66 48.2,74.86 C46.83,75.06 45.21,75.05 43.87,74.97 C42.53,74.88 41.32,74.63 40.18,74.33 C39.04,74.04 38.07,73.11 37.03,73.21 C35.98,73.31 34.87,74.36 33.93,74.94 C32.99,75.52 32.32,76.18 31.39,76.7 C30.46,77.22 29.24,77.96 28.37,78.06 C27.5,78.16 26.68,77.87 26.17,77.32 C25.65,76.77 25.29,75.74 25.27,74.77 C25.25,73.8 25.49,72.53 26.06,71.5 C26.62,70.47 27.75,69.41 28.66,68.61 C29.57,67.81 30.62,67.28 31.54,66.69 C32.46,66.1 33.77,65.83 34.18,65.07 C34.58,64.3 34.09,63.08 33.97,62.1 C33.84,61.12 33.51,60.11 33.41,59.2 C33.31,58.29 33.23,57.41 33.35,56.62 C33.47,55.83 33.62,54.94 34.12,54.46 C34.62,53.98 35.53,53.73 36.34,53.72Z" fill="#cdcdcd"/>
<path d="M61.64,-25.18 C62.45,-25.18 63.46,-24.88 64.28,-24.47 C65.09,-24.07 65.81,-23.52 66.51,-22.73 C67.21,-21.95 68,-20.73 68.46,-19.74 C68.92,-18.76 69.07,-17.81 69.28,-16.83 C69.49,-15.85 69.35,-14.68 69.71,-13.84 C70.08,-13 70.69,-12.27 71.49,-11.8 C72.28,-11.33 73.43,-11.35 74.48,-11.03 C75.54,-10.71 76.91,-10.31 77.83,-9.88 C78.74,-9.45 79.67,-8.97 79.97,-8.44 C80.26,-7.91 80.02,-7.25 79.59,-6.69 C79.16,-6.14 78.42,-5.57 77.4,-5.13 C76.39,-4.69 74.87,-4.24 73.5,-4.04 C72.13,-3.84 70.51,-3.85 69.17,-3.93 C67.83,-4.02 66.62,-4.27 65.48,-4.57 C64.34,-4.86 63.37,-5.79 62.33,-5.69 C61.28,-5.59 60.17,-4.54 59.23,-3.96 C58.29,-3.38 57.62,-2.72 56.69,-2.2 C55.76,-1.68 54.54,-0.94 53.67,-0.84 C52.8,-0.74 51.98,-1.03 51.47,-1.58 C50.95,-2.13 50.59,-3.16 50.57,-4.13 C50.55,-5.1 50.79,-6.37 51.36,-7.4 C51.92,-8.43 53.05,-9.49 53.96,-10.29 C54.87,-11.09 55.92,-11.62 56.84,-12.21 C57.76,-12.8 59.07,-13.07 59.48,-13.83 C59.88,-14.6 59.39,-15.82 59.27,-16.8 C59.14,-17.78 58.81,-18.79 58.71,-19.7 C58.61,-20.61 58.53,-21.49 58.65,-22.28 C58.77,-23.07 58.92,-23.96 59.42,-24.44 C59.92,-24.92 60.83,-25.17 61.64,-25.18Z" fill="#cdcdcd"/>
<path d="M61.64,1.12 C62.45,1.12 63.46,1.42 64.28,1.83 C65.09,2.23 65.81,2.78 66.51,3.57 C67.21,4.35 68,5.57 68.46,6.56 C68.92,7.54 69.07,8.49 69.28,9.47 C69.49,10.45 69.35,11.62 69.71,12.46 C70.08,13.3 70.69,14.03 71.49,14.5 C72.28,14.97 73.43,14.95 74.48,15.27 C75.54,15.59 76.91,15.99 77.83,16.42 C78.74,16.85 79.67,17.33 79.97,17.86 C80.26,18.39 80.02,19.05 79.59,19.61 C79.16,20.16 78.42,20.73 77.4,21.17 C76.39,21.61 74.87,22.06 73.5,22.26 C72.13,22.46 70.51,22.45 69.17,22.37 C67.83,22.28 66.62,22.03 65.48,21.73 C64.34,21.44 63.37,20.51 62.33,20.61 C61.28,20.71 60.17,21.76 59.23,22.34 C58.29,22.92 57.62,23.58 56.69,24.1 C55.76,24.62 54.54,25.36 53.67,25.46 C52.8,25.56 51.98,25.27 51.47,24.72 C50.95,24.17 50.59,23.14 50.57,22.17 C50.55,21.2 50.79,19.93 51.36,18.9 C51.92,17.87 53.05,16.81 53.96,16.01 C54.87,15.21 55.92,14.68 56.84,14.09 C57.76,13.5 59.07,13.23 59.48,12.47 C59.88,11.7 59.39,10.48 59.27,9.5 C59.14,8.52 58.81,7.51 58.71,6.6 C58.61,5.69 58.53,4.81 58.65,4.02 C58.77,3.23 58.92,2.34 59.42,1.86 C59.92,1.38 60.83,1.13 61.64,1.12Z" fill="#cdcdcd"/>
<path d="M61.64,27.42 C62.45,27.42 63.46,27.72 64.28,28.13 C65.09,28.53 65.81,29.08 66.51,29.87 C67.21,30.65 68,31.87 68.46,32.86 C68.92,33.84 69.07,34.79 69.28,35.77 C69.49,36.75 69.35,37.92 69.71,38.76 C70.08,39.6 70.69,40.33 71.49,40.8 C72.28,41.27 73.43,41.25 74.48,41.57 C75.54,41.89 76.91,42.29 77.83,42.72 C78.74,43.15 79.67,43.63 79.97,44.16 C80.26,44.69 80.02,45.35 79.59,45.91 C79.16,46.46 78.42,47.03 77.4,47.47 C76.39,47.91 74.87,48.36 73.5,48.56 C72.13,48.76 70.51,48.75 69.17,48.67 C67.83,48.58 66.62,48.33 65.48,48.03 C64.34,47.74 63.37,46.81 62.33,46.91 C61.28,47.01 60.17,48.06 59.23,48.64 C58.29,49.22 57.62,49.88 56.69,50.4 C55.76,50.92 54.54,51.66 53.67,51.76 C52.8,51.86 51.98,51.57 51.47,51.02 C50.95,50.47 50.59,49.44 50.57,48.47 C50.55,47.5 50.79,46.23 51.36,45.2 C51.92,44.17 53.05,43.11 53.96,42.31 C54.87,41.51 55.92,40.98 56.84,40.39 C57.76,39.8 59.07,39.53 59.48,38.77 C59.88,38 59.39,36.78 59.27,35.8 C59.14,34.82 58.81,33.81 58.71,32.9 C58.61,31.99 58.53,31.11 58.65,30.32 C58.77,29.53 58.92,28.64 59.42,28.16 C59.92,27.68 60.83,27.43 61.64,27.42Z" fill="#cdcdcd"/>
<path d="M61.64,53.72 C62.45,53.72 63.46,54.02 64.28,54.43 C65.09,54.83 65.81,55.38 66.51,56.17 C67.21,56.95 68,58.17 68.46,59.16 C68.92,60.14 69.07,61.09 69.28,62.07 C69.49,63.05 69.35,64.22 69.71,65.06 C70.08,65.9 70.69,66.63 71.49,67.1 C72.28,67.57 73.43,67.55 74.48,67.87 C75.54,68.19 76.91,68.59 77.83,69.02 C78.74,69.45 79.67,69.93 79.97,70.46 C80.26,70.99 80.02,71.65 79.59,72.21 C79.16,72.76 78.42,73.33 77.4,73.77 C76.39,74.21 74.87,74.66 73.5,74.86 C72.13,75.06 70.51,75.05 69.17,74.97 C67.83,74.88 66.62,74.63 65.48,74.33 C64.34,74.04 63.37,73.11 62.33,73.21 C61.28,73.31 60.17,74.36 59.23,74.94 C58.29,75.52 57.62,76.18 56.69,76.7 C55.76,77.22 54.54,77.96 53.67,78.06 C52.8,78.16 51.98,77.87 51.47,77.32 C50.95,76.77 50.59,75.74 50.57,74.77 C50.55,73.8 50.79,72.53 51.36,71.5 C51.92,70.47 53.05,69.41 53.96,68.61 C54.87,67.81 55.92,67.28 56.84,66.69 C57.76,66.1 59.07,65.83 59.48,65.07 C59.88,64.3 59.39,63.08 59.27,62.1 C59.14,61.12 58.81,60.11 58.71,59.2 C58.61,58.29 58.53,57.41 58.65,56.62 C58.77,55.83 58.92,54.94 59.42,54.46 C59.92,53.98 60.83,53.73 61.64,53.72Z" fill="#cdcdcd"/>
</g></g>
<text transform="translate(44 8)" font-size="8.4" text-anchor="start" fill="#fff" font-weight="normal" stroke="#fff" stroke-width="0.22">L4</text>
<rect x="37.5" y="50.2" width="15" height="2.2" fill="#fff"/>
</g>
<rect x="261.3" y="9.3" width="179.7" height="144.4" fill="none" stroke="#666" stroke-width="1"/>
<line x1="279.7" y1="153.7" x2="279.7" y2="156.2" stroke="#666" stroke-width="1"/>
<text transform="translate(279.7 166.6)" font-size="9.3" text-anchor="middle" fill="#222" font-weight="normal" stroke="#222" stroke-width="0.22">1.4</text>
<line x1="309.8" y1="153.7" x2="309.8" y2="156.2" stroke="#666" stroke-width="1"/>
<text transform="translate(309.8 166.6)" font-size="9.3" text-anchor="middle" fill="#222" font-weight="normal" stroke="#222" stroke-width="0.22">1.6</text>
<line x1="339.9" y1="153.7" x2="339.9" y2="156.2" stroke="#666" stroke-width="1"/>
<text transform="translate(339.9 166.6)" font-size="9.3" text-anchor="middle" fill="#222" font-weight="normal" stroke="#222" stroke-width="0.22">1.8</text>
<line x1="370" y1="153.7" x2="370" y2="156.2" stroke="#666" stroke-width="1"/>
<text transform="translate(370 166.6)" font-size="9.3" text-anchor="middle" fill="#222" font-weight="normal" stroke="#222" stroke-width="0.22">2.0</text>
<line x1="400.1" y1="153.7" x2="400.1" y2="156.2" stroke="#666" stroke-width="1"/>
<text transform="translate(400.1 166.6)" font-size="9.3" text-anchor="middle" fill="#222" font-weight="normal" stroke="#222" stroke-width="0.22">2.2</text>
<line x1="430.2" y1="153.7" x2="430.2" y2="156.2" stroke="#666" stroke-width="1"/>
<text transform="translate(430.2 166.6)" font-size="9.3" text-anchor="middle" fill="#222" font-weight="normal" stroke="#222" stroke-width="0.22">2.4</text>
<line x1="264.65" y1="153.7" x2="264.65" y2="155.2" stroke="#666" stroke-width="1"/>
<line x1="294.75" y1="153.7" x2="294.75" y2="155.2" stroke="#666" stroke-width="1"/>
<line x1="324.85" y1="153.7" x2="324.85" y2="155.2" stroke="#666" stroke-width="1"/>
<line x1="354.95" y1="153.7" x2="354.95" y2="155.2" stroke="#666" stroke-width="1"/>
<line x1="385.05" y1="153.7" x2="385.05" y2="155.2" stroke="#666" stroke-width="1"/>
<line x1="415.15" y1="153.7" x2="415.15" y2="155.2" stroke="#666" stroke-width="1"/>
<line x1="258.8" y1="143" x2="261.3" y2="143" stroke="#666" stroke-width="1"/>
<text transform="translate(257.4 146.2)" font-size="9.3" text-anchor="end" fill="#222" font-weight="normal" stroke="#222" stroke-width="0.22">1</text>
<line x1="258.8" y1="120.7" x2="261.3" y2="120.7" stroke="#666" stroke-width="1"/>
<text transform="translate(257.4 123.9)" font-size="9.3" text-anchor="end" fill="#222" font-weight="normal" stroke="#222" stroke-width="0.22">2</text>
<line x1="258.8" y1="98.4" x2="261.3" y2="98.4" stroke="#666" stroke-width="1"/>
<text transform="translate(257.4 101.6)" font-size="9.3" text-anchor="end" fill="#222" font-weight="normal" stroke="#222" stroke-width="0.22">3</text>
<line x1="258.8" y1="76.1" x2="261.3" y2="76.1" stroke="#666" stroke-width="1"/>
<text transform="translate(257.4 79.3)" font-size="9.3" text-anchor="end" fill="#222" font-weight="normal" stroke="#222" stroke-width="0.22">4</text>
<line x1="258.8" y1="53.8" x2="261.3" y2="53.8" stroke="#666" stroke-width="1"/>
<text transform="translate(257.4 57)" font-size="9.3" text-anchor="end" fill="#222" font-weight="normal" stroke="#222" stroke-width="0.22">5</text>
<line x1="258.8" y1="31.5" x2="261.3" y2="31.5" stroke="#666" stroke-width="1"/>
<text transform="translate(257.4 34.7)" font-size="9.3" text-anchor="end" fill="#222" font-weight="normal" stroke="#222" stroke-width="0.22">6</text>
<line x1="258.8" y1="9.2" x2="261.3" y2="9.2" stroke="#666" stroke-width="1"/>
<text transform="translate(257.4 12.4)" font-size="9.3" text-anchor="end" fill="#222" font-weight="normal" stroke="#222" stroke-width="0.22">7</text>
<line x1="259.8" y1="131.85" x2="261.3" y2="131.85" stroke="#666" stroke-width="1"/>
<line x1="259.8" y1="109.55" x2="261.3" y2="109.55" stroke="#666" stroke-width="1"/>
<line x1="259.8" y1="87.25" x2="261.3" y2="87.25" stroke="#666" stroke-width="1"/>
<line x1="259.8" y1="64.95" x2="261.3" y2="64.95" stroke="#666" stroke-width="1"/>
<line x1="259.8" y1="42.65" x2="261.3" y2="42.65" stroke="#666" stroke-width="1"/>
<line x1="259.8" y1="20.35" x2="261.3" y2="20.35" stroke="#666" stroke-width="1"/>
<text transform="translate(351.2 181.6)" font-size="9.8" text-anchor="middle" fill="#222" font-weight="normal" stroke="#222" stroke-width="0.22">Energy (eV)</text>
<text transform="translate(243.1 78) rotate(-90)" font-size="9.4" text-anchor="middle" fill="#222" font-weight="normal" stroke="#222" stroke-width="0.22">Reflection (arb. units)</text>
<clipPath id="cpc"><rect x="261.3" y="9.3" width="179.7" height="144.39999999999998"/></clipPath>
<g clip-path="url(#cpc)">
<path d="M261.34,9.87 C261.56,12.17 261.99,16.56 262.69,23.7 C263.4,30.83 264.5,44.32 265.55,52.69 C266.61,61.05 267.99,67.14 269.01,73.87 C270.04,80.6 270.75,87.84 271.72,93.05 C272.7,98.25 273.93,102.04 274.88,105.09 C275.84,108.14 276.69,109.81 277.44,111.33 C278.19,112.86 278.35,112.93 279.4,114.23 C280.45,115.53 281.96,117.84 283.76,119.14 C285.57,120.44 288.33,121.89 290.24,122.04 C292.14,122.19 293.42,121.48 295.2,120.03 C296.98,118.58 299.14,115.05 300.92,113.34 C302.7,111.63 304.38,109.88 305.89,109.77 C307.39,109.66 308.19,111.11 309.95,112.67 C311.71,114.23 314.24,117.47 316.42,119.14 C318.6,120.81 320.86,122.45 323.04,122.71 C325.23,122.97 327.08,121.85 329.52,120.7 C331.95,119.55 335.91,117.24 337.64,115.79 C339.37,114.34 338.12,113.49 339.9,112 C341.68,110.52 345.72,108.03 348.33,106.87 C350.94,105.72 353.17,105.09 355.55,105.09 C357.93,105.09 360.04,105.57 362.63,106.87 C365.21,108.17 367.94,110.14 371.05,112.9 C374.16,115.65 377.85,120.07 381.29,123.38 C384.72,126.68 388.24,129.99 391.67,132.74 C395.11,135.49 398.47,137.83 401.91,139.88 C405.34,141.92 408.83,143.63 412.29,145.01 C415.75,146.38 417.73,147.09 422.68,148.13 C427.62,149.17 438.73,150.73 441.94,151.25" fill="none" stroke="#3d66a4" stroke-width="1.85" stroke-linejoin="round" stroke-linecap="round"/>
<path d="M261.34,18.12 C261.64,21.28 262.49,31.31 263.14,37.08 C263.8,42.84 264.35,46.55 265.25,52.69 C266.16,58.82 267.56,67.14 268.56,73.87 C269.57,80.6 270.29,87.84 271.27,93.05 C272.25,98.25 273.48,101.93 274.43,105.09 C275.39,108.25 275.96,110.37 276.99,112 C278.02,113.64 279.17,113.71 280.6,114.9 C282.03,116.09 283.96,118.17 285.57,119.14 C287.17,120.11 288.63,121.11 290.24,120.7 C291.84,120.29 293.42,118.36 295.2,116.69 C296.98,115.01 299.42,111.48 300.92,110.67 C302.43,109.85 302.73,110.78 304.23,111.78 C305.74,112.78 307.92,115.05 309.95,116.69 C311.98,118.32 314.24,120.51 316.42,121.59 C318.6,122.67 320.59,123.41 323.04,123.15 C325.5,122.89 328.46,121.41 331.17,120.03 C333.88,118.66 337.84,115.91 339.3,114.9 C340.75,113.9 338.55,114.9 339.9,114.01 C341.25,113.12 344.82,110.67 347.43,109.55 C350.03,108.44 353.04,107.39 355.55,107.32 C358.06,107.25 359.89,107.99 362.48,109.1 C365.06,110.22 368.04,111.52 371.05,114.01 C374.06,116.5 377.1,120.7 380.53,124.05 C383.97,127.39 388.11,131.22 391.67,134.08 C395.23,136.94 398.47,139.25 401.91,141.22 C405.34,143.19 408.08,144.41 412.29,145.9 C416.5,147.39 422.25,149.06 427.19,150.14 C432.13,151.21 439.48,151.99 441.94,152.37" fill="none" stroke="#fbcc55" stroke-width="1.85" stroke-linejoin="round" stroke-linecap="round"/>
<path d="M261.34,31.05 C261.72,33.73 262.79,42.17 263.6,47.11 C264.4,52.05 265.18,55.99 266.16,60.71 C267.13,65.43 268.44,70.04 269.47,75.43 C270.49,80.82 271.57,88.48 272.33,93.05 C273.08,97.62 273.38,99.7 273.98,102.86 C274.58,106.02 275.24,109.77 275.94,112 C276.64,114.23 277.42,115.2 278.19,116.24 C278.97,117.28 279.67,117.76 280.6,118.25 C281.53,118.73 282.41,119.47 283.76,119.14 C285.12,118.8 286.82,116.98 288.73,116.24 C290.64,115.5 293.02,115.16 295.2,114.68 C297.38,114.2 299.64,113.01 301.82,113.34 C304.01,113.68 306.14,115.31 308.3,116.69 C310.45,118.06 312.31,120.37 314.77,121.59 C317.22,122.82 320.31,124.19 323.04,124.05 C325.78,123.9 328.19,122.08 331.17,120.7 C334.16,119.32 338.24,117.28 340.95,115.79 C343.66,114.31 344.99,112.75 347.43,111.78 C349.86,110.81 353.04,110.07 355.55,110 C358.06,109.92 359.89,110.33 362.48,111.33 C365.06,112.34 368.04,113.64 371.05,116.02 C374.06,118.4 377.1,122.41 380.53,125.61 C383.97,128.8 388.11,132.41 391.67,135.2 C395.23,137.98 398.47,140.36 401.91,142.33 C405.34,144.3 408.08,145.53 412.29,147.01 C416.5,148.5 422.25,150.17 427.19,151.25 C432.13,152.33 439.48,153.11 441.94,153.48" fill="none" stroke="#33b466" stroke-width="1.85" stroke-linejoin="round" stroke-linecap="round"/>
<path d="M261.34,12.55 C261.74,13.77 262.67,14.59 263.75,19.9 C264.83,25.22 266.61,37.07 267.81,44.43 C269.01,51.79 270.02,58.15 270.97,64.06 C271.92,69.97 272.68,75.06 273.53,79.89 C274.38,84.72 275.26,88.66 276.09,93.05 C276.92,97.43 277.77,102.64 278.5,106.2 C279.22,109.77 279.75,111.97 280.45,114.46 C281.15,116.95 281.93,119.36 282.71,121.15 C283.49,122.93 284.3,124.27 285.12,125.16 C285.93,126.05 286.45,126.57 287.6,126.5 C288.76,126.42 290.65,125.53 292.04,124.71 C293.43,123.9 294.62,122.3 295.95,121.59 C297.28,120.89 298.79,120.81 300.02,120.48 C301.25,120.14 302.07,120.37 303.33,119.59 C304.58,118.8 305.89,117.09 307.54,115.79 C309.2,114.49 311.38,112.63 313.26,111.78 C315.14,110.93 316.95,110.67 318.83,110.67 C320.71,110.67 322.49,111.04 324.55,111.78 C326.61,112.52 329.26,114.23 331.17,115.12 C333.08,116.02 334.36,117.13 335.99,117.13 C337.62,117.13 339.07,116.83 340.95,115.12 C342.83,113.42 345.02,109.48 347.27,106.87 C349.53,104.27 352.27,100.74 354.5,99.52 C356.73,98.29 358.26,98.99 360.67,99.52 C363.08,100.04 366.19,100.7 368.95,102.64 C371.71,104.57 374.49,108.17 377.22,111.11 C379.96,114.05 382.62,117.17 385.35,120.25 C388.09,123.34 390.87,126.87 393.63,129.62 C396.39,132.37 398.8,134.53 401.91,136.76 C405.02,138.99 408.83,141.29 412.29,143 C415.75,144.71 419.24,145.97 422.68,147.01 C426.11,148.05 429.7,148.72 432.91,149.24 C436.12,149.76 440.43,149.99 441.94,150.14" fill="none" stroke="#ee1420" stroke-width="1.85" stroke-linejoin="round" stroke-linecap="round"/>
</g>
<line x1="401" y1="18.7" x2="421.8" y2="18.7" stroke="#ee1420" stroke-width="1.5"/>
<text transform="translate(424.2 22.1)" font-size="9.5" text-anchor="start" fill="#222" font-weight="normal" stroke="#222" stroke-width="0.22">L1</text>
<line x1="401" y1="30.3" x2="421.8" y2="30.3" stroke="#3d66a4" stroke-width="1.5"/>
<text transform="translate(424.2 33.7)" font-size="9.5" text-anchor="start" fill="#222" font-weight="normal" stroke="#222" stroke-width="0.22">L2</text>
<line x1="401" y1="41.9" x2="421.8" y2="41.9" stroke="#fbcc55" stroke-width="1.5"/>
<text transform="translate(424.2 45.3)" font-size="9.5" text-anchor="start" fill="#222" font-weight="normal" stroke="#222" stroke-width="0.22">L3</text>
<line x1="401" y1="53.5" x2="421.8" y2="53.5" stroke="#33b466" stroke-width="1.5"/>
<text transform="translate(424.2 56.9)" font-size="9.5" text-anchor="start" fill="#222" font-weight="normal" stroke="#222" stroke-width="0.22">L4</text>
<rect x="295.6" y="11" width="83.7" height="76.7" fill="#fff"/>
<line x1="295.6" y1="11" x2="379.3" y2="11" stroke="#ccc" stroke-width="1"/>
<line x1="379.3" y1="11" x2="379.3" y2="87.7" stroke="#999" stroke-width="1"/>
<line x1="295.6" y1="11" x2="295.6" y2="87.7" stroke="#888" stroke-width="1"/>
<line x1="295.6" y1="87.7" x2="379.3" y2="87.7" stroke="#888" stroke-width="1"/>
<line x1="295.6" y1="87.7" x2="295.6" y2="86.2" stroke="#888" stroke-width="1"/>
<text transform="translate(295.9 96.8)" font-size="8.8" text-anchor="middle" fill="#222" font-weight="normal" stroke="#222" stroke-width="0.22">1.4</text>
<line x1="316.53" y1="87.7" x2="316.53" y2="86.2" stroke="#888" stroke-width="1"/>
<text transform="translate(316.83 96.8)" font-size="8.8" text-anchor="middle" fill="#222" font-weight="normal" stroke="#222" stroke-width="0.22">1.5</text>
<line x1="337.45" y1="87.7" x2="337.45" y2="86.2" stroke="#888" stroke-width="1"/>
<text transform="translate(337.75 96.8)" font-size="8.8" text-anchor="middle" fill="#222" font-weight="normal" stroke="#222" stroke-width="0.22">1.6</text>
<line x1="358.38" y1="87.7" x2="358.38" y2="86.2" stroke="#888" stroke-width="1"/>
<text transform="translate(358.68 96.8)" font-size="8.8" text-anchor="middle" fill="#222" font-weight="normal" stroke="#222" stroke-width="0.22">1.7</text>
<line x1="379.3" y1="87.7" x2="379.3" y2="86.2" stroke="#888" stroke-width="1"/>
<text transform="translate(379.6 96.8)" font-size="8.8" text-anchor="middle" fill="#222" font-weight="normal" stroke="#222" stroke-width="0.22">1.8</text>
<line x1="306.06" y1="87.7" x2="306.06" y2="86.7" stroke="#888" stroke-width="1"/>
<line x1="326.99" y1="87.7" x2="326.99" y2="86.7" stroke="#888" stroke-width="1"/>
<line x1="347.91" y1="87.7" x2="347.91" y2="86.7" stroke="#888" stroke-width="1"/>
<line x1="368.84" y1="87.7" x2="368.84" y2="86.7" stroke="#888" stroke-width="1"/>
<text transform="translate(389.9 96.8)" font-size="8.9" text-anchor="start" fill="#222" font-weight="normal" stroke="#222" stroke-width="0.22">(eV)</text>
<line x1="295.6" y1="61.1" x2="297.1" y2="61.1" stroke="#888" stroke-width="1"/>
<text transform="translate(292.2 64.3)" font-size="9" text-anchor="end" fill="#222" font-weight="normal" stroke="#222" stroke-width="0.22">2.0</text>
<line x1="295.6" y1="30.8" x2="297.1" y2="30.8" stroke="#888" stroke-width="1"/>
<text transform="translate(292.2 34)" font-size="9" text-anchor="end" fill="#222" font-weight="normal" stroke="#222" stroke-width="0.22">2.4</text>
<line x1="295.6" y1="76.25" x2="296.6" y2="76.25" stroke="#888" stroke-width="1"/>
<line x1="295.6" y1="45.95" x2="296.6" y2="45.95" stroke="#888" stroke-width="1"/>
<line x1="295.6" y1="15.65" x2="296.6" y2="15.65" stroke="#888" stroke-width="1"/>
<clipPath id="cpi"><rect x="295.6" y="11.0" width="83.69999999999999" height="76.7"/></clipPath>
<g clip-path="url(#cpi)">
<path d="M295.6,37.8 L295.63,38.65 L295.67,38.47 L295.71,39.19 L295.75,39.46 L295.79,38.46 L295.83,38.6 L295.88,40.67 L295.92,39.67 L295.97,39.89 L296.02,41.86 L296.08,41.01 L296.13,42.12 L296.19,41.65 L296.24,42.34 L296.3,41.6 L296.36,43.01 L296.42,43.88 L296.49,43.48 L296.55,44.32 L296.62,44.54 L296.68,43.58 L296.75,45.49 L296.82,45.51 L296.89,45.26 L296.95,45.06 L297.03,47.3 L297.1,46.84 L297.17,47.78 L297.24,48.54 L297.31,48.58 L297.39,49.45 L297.46,48.7 L297.54,50 L297.61,49.62 L297.69,51.11 L297.76,51.39 L297.84,50.08 L297.91,50.57 L297.99,51.15 L298.06,53.19 L298.14,52.42 L298.21,53.23 L298.29,52.9 L298.36,53.74 L298.44,53.85 L298.51,54.14 L298.59,55.02 L298.66,55.38 L298.73,56.43 L298.81,56.29 L298.88,57.17 L298.95,57.34 L299.03,58.01 L299.11,57.68 L299.2,56.94 L299.28,58.85 L299.37,59.46 L299.46,59.71 L299.55,59.35 L299.64,60.04 L299.73,59.32 L299.82,61.06 L299.91,60.87 L300,60.61 L300.09,60.5 L300.19,62.61 L300.28,63.29 L300.37,61.68 L300.47,63.61 L300.56,63.12 L300.66,62.92 L300.75,63.6 L300.85,65.01 L300.94,65.6 L301.04,64.13 L301.13,65.75 L301.22,64.85 L301.32,66.68 L301.41,66.17 L301.5,67.73 L301.59,68.29 L301.68,67.58 L301.77,69 L301.86,67.81 L301.95,67.62 L302.04,69.1 L302.13,68.16 L302.21,68.84 L302.3,69.61 L302.38,70.36 L302.46,69.66 L302.54,69.7 L302.62,71.8 L302.7,70.86 L302.78,72.56 L302.85,72.69 L302.92,71.81 L303.06,72.5 L303.19,73.11 L303.31,73.85 L303.43,74.2 L303.54,74.55 L303.65,75.11 L303.75,76.21 L303.85,75.65 L303.94,75.86 L304.04,76.86 L304.13,76.14 L304.23,76.62 L304.32,78.43 L304.41,77.74 L304.51,78.1 L304.61,77.2 L304.71,78.37 L304.82,79 L304.93,78.03 L305.05,79.59 L305.17,79.87 L305.3,78.84 L305.43,80.32 L305.69,80.34 L305.97,81.17 L306.26,80.78 L306.56,81.86 L306.87,82.19 L307.18,80.85 L307.51,81.13 L307.83,82.63 L308.15,83.37 L308.48,81.87 L308.8,82.34 L309.11,82.6 L309.41,81.91 L309.62,81.91 L309.83,81.66 L310.03,81.62 L310.23,81.92 L310.43,81.04 L310.63,80.96 L310.82,81.55 L311.02,79.62 L311.22,80.5 L311.41,80.53 L311.62,79.25 L311.82,78.7 L312.03,79.61 L312.25,77.99 L312.47,77.49 L312.7,77.65 L312.93,77.83 L313.18,76.13 L313.33,76.37 L313.5,76.13 L313.66,76.96 L313.83,75.81 L314.01,76.44 L314.19,74.64 L314.37,74.7 L314.55,75.08 L314.73,75.28 L314.92,74 L315.11,73.18 L315.3,72.62 L315.49,73.19 L315.68,72.11 L315.88,73.14 L316.07,72.88 L316.26,71.11 L316.45,70.99 L316.64,71.83 L316.83,71.15 L317.02,71.19 L317.2,69.87 L317.38,69.1 L317.56,69.16 L317.74,69.98 L317.91,68.55 L318.08,68.45 L318.25,68.35 L318.41,68.12 L318.66,67.73 L318.91,68.5 L319.15,66.48 L319.38,65.82 L319.61,67.58 L319.83,67.14 L320.06,67.09 L320.27,65.6 L320.49,66.47 L320.7,66.16 L320.91,64.36 L321.12,65.27 L321.33,65.24 L321.54,64.63 L321.75,64.08 L321.96,63.35 L322.17,63.24 L322.38,62.77 L322.68,62.14 L322.96,63.04 L323.24,62.17 L323.51,63.13 L323.78,61.28 L324.05,63 L324.33,62.36 L324.6,62.69 L324.89,62.42 L325.19,62.19 L325.49,61.21 L325.81,59.65 L326.15,60.88 L326.32,59.41 L326.5,59.49 L326.68,60.07 L326.86,59.55 L327.05,59.08 L327.23,60.01 L327.42,59.06 L327.61,58.22 L327.8,57.78 L328,58.87 L328.2,57.76 L328.39,58.16 L328.6,56.94 L328.8,56.31 L329,56.76 L329.21,57.08 L329.42,55.35 L329.63,56.39 L329.84,56.35 L330.06,55.75 L330.28,55.43 L330.49,53.27 L330.71,54.26 L330.93,54.38 L331.16,52.19 L331.38,52.26 L331.51,52.01 L331.64,52.32 L331.78,51.82 L331.91,51.66 L332.05,52.04 L332.18,50.04 L332.32,49.86 L332.46,49.71 L332.6,49.39 L332.74,48.95 L332.88,50.62 L333.02,50.02 L333.16,47.99 L333.31,48.57 L333.45,47.82 L333.6,47.47 L333.74,47.2 L333.89,47.5 L334.03,47.01 L334.18,46.16 L334.33,45.43 L334.47,45.37 L334.62,44.56 L334.77,45.16 L334.92,45.15 L335.06,44.06 L335.21,43.04 L335.36,42.91 L335.51,42.99 L335.66,43.15 L335.81,43.2 L335.96,41.97 L336.11,42.56 L336.25,41.84 L336.4,41.1 L336.55,40.65 L336.7,40.6 L336.85,40.75 L336.99,39.83 L337.14,40.14 L337.29,39.34 L337.43,38.59 L337.58,38.96 L337.72,39.05 L337.87,37.43 L338.1,37.82 L338.33,37.45 L338.56,38.08 L338.78,37.86 L339.01,36.28 L339.24,37.09 L339.46,36.54 L339.69,35.06 L339.91,35.2 L340.13,34.15 L340.36,35.38 L340.58,34.77 L340.81,34.99 L341.03,34.52 L341.26,33.99 L341.49,33.88 L341.72,33.27 L341.95,32.02 L342.18,32.85 L342.41,31.35 L342.65,31.43 L342.88,32.6 L343.12,30.79 L343.36,30.69 L343.61,30.5 L343.85,32.02 L344.1,30.29 L344.36,29.75 L344.67,31.32 L344.99,29.52 L345.31,30.89 L345.65,30.31 L345.98,30.47 L346.32,30.53 L346.67,29.52 L347.01,29.83 L347.36,27.98 L347.71,29.43 L348.06,28.72 L348.42,29.03 L348.77,27.56 L349.12,28.85 L349.46,29.15 L349.81,27.13 L350.15,27.63 L350.49,28.08 L350.82,28.6 L351.15,27.27 L351.47,27.09 L351.79,27.23 L352.1,28.03 L352.46,28.34 L352.83,27.58 L353.18,27.57 L353.53,27.7 L353.88,27.69 L354.22,27.94 L354.56,27.33 L354.9,28.39 L355.23,29.58 L355.56,28.52 L355.88,29.44 L356.2,28.34 L356.52,29.72 L356.84,30.09 L357.15,30.14 L357.46,30.04 L357.77,30.22 L358.07,30.84 L358.38,31.67 L358.59,30.24 L358.81,30.35 L359.03,32.02 L359.24,32.64 L359.45,32.02 L359.65,32.13 L359.86,33.01 L360.06,32.13 L360.26,32.6 L360.46,32.76 L360.66,33.91 L360.86,33.63 L361.06,33.76 L361.25,35.09 L361.45,35.99 L361.64,34.86 L361.84,36.08 L362.03,35.76 L362.23,37.05 L362.42,36.77 L362.62,36.39 L362.81,36.58 L363.01,36.46 L363.21,37.76 L363.41,37.84 L363.61,37.65 L363.83,38.37 L364.05,38.59 L364.27,39.9 L364.5,38.82 L364.72,41 L364.95,40.19 L365.18,40.77 L365.4,40.8 L365.63,41.92 L365.86,42.21 L366.09,41.93 L366.31,42.07 L366.54,42.9 L366.76,43.5 L366.98,42.78 L367.2,43.8 L367.42,44.57 L367.63,43.75 L367.84,43.49 L368.05,43.74 L368.25,45.04 L368.45,45.17 L368.65,46.01 L368.84,45.97 L369.2,44.99 L369.55,45.22 L369.88,45.69 L370.19,45.82 L370.5,47.22 L370.8,47.78 L371.09,48.06 L371.39,46.79 L371.68,48.23 L371.98,47.08 L372.29,47.33 L372.6,47.97 L372.87,46.48 L373.13,46.37 L373.41,47.83 L373.68,46.43 L373.96,46.34 L374.24,46.56 L374.52,46.49 L374.8,44.71 L375.07,45.12 L375.34,45.02 L375.6,44.81 L375.86,43.89 L376.11,44.42 L376.35,44.94 L376.58,43.44 L376.84,43.47 L377.09,42.22 L377.35,42.23 L377.6,42.75 L377.84,41.2 L378.08,42.56 L378.3,42.28 L378.51,40.18 L378.7,41.75 L378.88,40.23 L379.04,40.86 L379.18,40.62 L379.3,39.89" fill="none" stroke="#ee1420" stroke-width="1.6" stroke-linejoin="round" stroke-linecap="round"/>
<path d="M295.6,35.65 L295.65,36.67 L295.71,36.81 L295.76,37.35 L295.83,36.38 L295.89,37.69 L295.96,38.39 L296.03,38.02 L296.11,37.98 L296.18,37.34 L296.26,38.47 L296.35,38.46 L296.43,39.57 L296.52,39.81 L296.61,39.89 L296.71,39.38 L296.8,40.75 L296.9,41.07 L297,40.43 L297.1,42.36 L297.2,42.21 L297.31,41.42 L297.41,43.58 L297.52,42.22 L297.63,43.03 L297.74,44.27 L297.85,44.39 L297.96,44.69 L298.07,45.29 L298.19,45.27 L298.3,45.35 L298.41,45.44 L298.53,45.6 L298.64,47.42 L298.76,47.89 L298.87,47.82 L298.99,48.64 L299.1,48.18 L299.21,48.36 L299.33,48.99 L299.44,50.43 L299.55,48.97 L299.66,50.34 L299.77,50.13 L299.88,51.62 L299.99,51.04 L300.1,51.32 L300.2,51.8 L300.32,52.46 L300.44,53.33 L300.57,52.78 L300.69,54.23 L300.81,52.98 L300.94,53.69 L301.06,53.69 L301.18,54.08 L301.31,55.92 L301.44,56.17 L301.56,55.35 L301.69,55.72 L301.82,56.59 L301.94,57.67 L302.07,58.2 L302.2,58.41 L302.33,58.43 L302.46,57.81 L302.59,58.72 L302.72,58.62 L302.84,59.7 L302.97,60.14 L303.1,59.68 L303.23,60.12 L303.36,61.63 L303.49,60.3 L303.62,62.33 L303.75,62.85 L303.88,63.29 L304.01,62.36 L304.14,63.04 L304.27,63.41 L304.4,63.82 L304.53,64.86 L304.66,64.51 L304.79,63.93 L304.92,65.43 L305.05,64.87 L305.18,65.38 L305.31,65.9 L305.43,64.55 L305.67,66.67 L305.91,66.85 L306.15,66.89 L306.39,67.35 L306.62,67.59 L306.86,67.36 L307.1,68.45 L307.34,67.69 L307.57,69.03 L307.81,69.64 L308.05,69.48 L308.29,70 L308.53,71.11 L308.76,71.18 L309,69.72 L309.24,71.35 L309.48,71.13 L309.71,70.01 L309.95,70.81 L310.19,70.62 L310.43,70.35 L310.67,71.41 L310.94,72.29 L311.22,70.95 L311.49,72.1 L311.77,71.64 L312.05,70.29 L312.33,71.75 L312.6,71.01 L312.88,71.54 L313.16,70.85 L313.43,70.66 L313.71,69.53 L313.99,70.26 L314.26,70.24 L314.54,69.76 L314.81,68.49 L315.08,68.85 L315.36,67.89 L315.63,66.68 L315.9,66.15 L316.05,66 L316.21,66.03 L316.36,65.7 L316.51,66.18 L316.67,66.36 L316.82,65.74 L316.97,65.2 L317.12,65.42 L317.28,64.36 L317.43,64.41 L317.58,64.75 L317.73,63.66 L317.88,62.85 L318.03,64.11 L318.18,63.39 L318.33,62.28 L318.48,61.95 L318.63,61.96 L318.78,61.76 L318.94,60.59 L319.09,59.76 L319.24,59.86 L319.39,60.76 L319.54,59 L319.69,59.34 L319.84,58.4 L320,58.07 L320.15,57.62 L320.3,57.78 L320.46,56.9 L320.61,56.23 L320.76,56.05 L320.92,55.83 L321.05,56.23 L321.18,54.98 L321.31,54.6 L321.45,55.23 L321.58,54.84 L321.71,55.18 L321.84,53.44 L321.97,53.91 L322.1,53.59 L322.24,52.47 L322.37,54.22 L322.5,52.27 L322.63,51.68 L322.76,52.2 L322.9,51.2 L323.03,51.89 L323.16,50.96 L323.3,50.15 L323.43,49.67 L323.56,50.83 L323.7,49.51 L323.83,50.31 L323.96,49.27 L324.1,49.96 L324.23,48.23 L324.37,47.78 L324.5,47.48 L324.64,48.34 L324.77,47.59 L324.91,46.61 L325.05,45.71 L325.18,46.65 L325.32,46.92 L325.46,45.73 L325.6,44.07 L325.73,43.77 L325.87,43.53 L326.01,43.33 L326.15,42.66 L326.26,42.4 L326.37,43.4 L326.48,43.62 L326.6,41.75 L326.71,43.11 L326.82,41.67 L326.94,42.04 L327.06,41.92 L327.17,41.6 L327.29,39.23 L327.41,39.45 L327.53,39.73 L327.65,40.09 L327.77,37.8 L327.89,37.86 L328.01,38.68 L328.13,36.66 L328.25,36.87 L328.37,36.34 L328.49,36.7 L328.61,36.84 L328.73,34.78 L328.85,35.62 L328.97,35.21 L329.09,35.04 L329.21,34.03 L329.33,34.45 L329.45,32.84 L329.57,32.57 L329.69,31.79 L329.8,32.64 L329.92,31.62 L330.03,30.8 L330.15,30.24 L330.26,31.11 L330.37,30.53 L330.48,30.45 L330.59,29.43 L330.7,29.35 L330.81,28.34 L330.92,29.29 L331.02,27.52 L331.12,28.25 L331.23,28.65 L331.33,28.26 L331.42,26.78 L331.52,26.9 L331.62,28.06 L331.71,27.46 L331.8,27.85 L332.11,27.45 L332.38,26.29 L332.64,27.18 L332.87,26.85 L333.09,26.12 L333.3,26.44 L333.5,26.12 L333.7,27.25 L333.91,28.94 L334.12,27.59 L334.35,29.17 L334.59,28.75 L334.86,29.28 L335.15,31.13 L335.26,30.45 L335.37,30.26 L335.49,30.73 L335.61,32.06 L335.73,32.2 L335.85,31.21 L335.98,31.97 L336.1,33.88 L336.23,32.54 L336.36,33.59 L336.49,33.59 L336.63,34.71 L336.76,34.65 L336.9,35.39 L337.03,35.17 L337.17,34.75 L337.31,35.07 L337.45,35.21 L337.59,37.21 L337.73,36 L337.87,36.17 L338.01,38.6 L338.15,37.28 L338.3,39.18 L338.44,37.77 L338.58,38.97 L338.72,38.81 L338.87,40.51 L339.01,40.41 L339.15,40.83 L339.29,41.46 L339.43,42.06 L339.57,41.27 L339.71,42.19 L339.84,42.19 L339.98,41.81 L340.11,43.74 L340.25,43.55 L340.38,44.37 L340.51,43.36 L340.64,44.43 L340.77,44.59 L340.9,45.51 L341.02,44.41 L341.15,45.33 L341.27,45.97 L341.4,45.4 L341.52,46.79 L341.64,47.52 L341.76,47.17 L341.89,48 L342.01,48.24 L342.13,47.72 L342.25,48.35 L342.37,50.11 L342.49,48.99 L342.62,49.53 L342.74,49.11 L342.86,49.73 L342.98,49.95 L343.11,51.97 L343.23,51.85 L343.36,52.51 L343.48,53.09 L343.61,52.59 L343.74,53.63 L343.87,53.08 L344,53.15 L344.13,54.65 L344.27,54.87 L344.4,55.3 L344.54,54.6 L344.68,55.56 L344.82,55.08 L344.96,56.7 L345.11,56.85 L345.25,55.78 L345.4,57.51 L345.56,56.19 L345.72,56.32 L345.88,58.04 L346.04,57.43 L346.21,58.27 L346.38,58.87 L346.56,57.9 L346.73,59.8 L346.91,59.12 L347.09,59.81 L347.27,59.97 L347.45,61.19 L347.63,61.55 L347.82,60.89 L348,60.83 L348.19,61.6 L348.38,62.19 L348.56,61.8 L348.75,62.3 L348.94,63.98 L349.12,64.17 L349.31,65.1 L349.5,65.43 L349.68,65.51 L349.87,64.72 L350.05,64.55 L350.23,65.18 L350.41,65.8 L350.59,66.22 L350.77,66.53 L350.94,66.4 L351.12,67.74 L351.29,66.74 L351.45,67.37 L351.62,68.53 L351.78,68.57 L351.94,67.66 L352.1,67.73 L352.45,69.41 L352.79,68.05 L353.1,68.69 L353.41,69.91 L353.7,70.22 L353.98,69.67 L354.26,69.65 L354.54,70.18 L354.82,71.58 L355.11,71.03 L355.41,72.23 L355.71,71.84 L356.03,72.27 L356.37,70.14 L356.73,70.39 L357.12,69.88 L357.34,70.71 L357.56,70.39 L357.78,69.63 L358.02,70.57 L358.25,69.42 L358.49,69.72 L358.74,69.39 L358.99,70.4 L359.24,69.34 L359.5,68.77 L359.76,68.05 L360.02,68.64 L360.29,68.82 L360.55,68.65 L360.82,68.9 L361.09,68.38 L361.36,66.85 L361.63,66.31 L361.91,67.38 L362.18,67.14 L362.45,66.21 L362.73,66.6 L363,65.68 L363.27,64.76 L363.54,64.2 L363.81,63.55 L364.08,64.61 L364.34,64.86 L364.6,64.57 L364.86,63.3 L365.07,63.49 L365.28,63.82 L365.49,63.32 L365.7,62.6 L365.92,61.93 L366.13,61.91 L366.34,60.89 L366.55,60.65 L366.77,61.49 L366.98,61.91 L367.2,60.66 L367.41,60.09 L367.62,59.7 L367.84,59.65 L368.05,60.14 L368.27,59.09 L368.48,59.93 L368.69,57.88 L368.9,57.95 L369.12,58.12 L369.33,57.58 L369.54,58.26 L369.75,57.91 L369.96,57.84 L370.17,56.84 L370.38,55.26 L370.59,56.15 L370.79,55.79 L371,55.34 L371.2,54.57 L371.41,55.2 L371.61,55.32 L371.81,53.22 L372.01,54.14 L372.21,53.15 L372.41,53.14 L372.6,53.64 L372.77,53.5 L372.93,52.51 L373.09,51.22 L373.26,52.5 L373.43,50.55 L373.6,50.67 L373.77,51.31 L373.94,49.85 L374.12,49.4 L374.29,50.54 L374.46,50.17 L374.64,48.42 L374.81,48.22 L374.99,47.61 L375.16,46.91 L375.33,46.79 L375.51,48.02 L375.68,45.67 L375.85,45.62 L376.02,45.18 L376.19,44.54 L376.35,45.15 L376.52,45.26 L376.68,45.1 L376.84,44.28 L377,44.33 L377.15,42.19 L377.31,42.45 L377.46,43.6 L377.6,41.3 L377.75,41.41 L377.89,41.56 L378.02,40.77 L378.15,41.08 L378.28,39.68 L378.41,39.81 L378.53,41.12 L378.64,39.07 L378.75,40.49 L378.86,38.65 L378.96,40.22 L379.05,39.31 L379.14,39.05 L379.22,37.76 L379.3,38.38" fill="none" stroke="#3d66a4" stroke-width="1.6" stroke-linejoin="round" stroke-linecap="round"/>
<path d="M295.6,27.55 L295.66,29.27 L295.72,28.17 L295.79,28.4 L295.86,30.01 L295.94,30.35 L296.02,28.77 L296.11,31.02 L296.2,30.34 L296.29,30.28 L296.39,29.95 L296.49,30.86 L296.59,32.48 L296.7,31.23 L296.81,31.22 L296.92,31.57 L297.03,31.86 L297.15,32.7 L297.27,34.28 L297.39,32.79 L297.51,33.4 L297.64,35.4 L297.76,35.9 L297.89,36.23 L298.02,34.99 L298.15,35.61 L298.28,37.31 L298.41,36.67 L298.54,37.54 L298.67,37.07 L298.8,36.82 L298.93,37.93 L299.06,39.21 L299.2,39.67 L299.33,39.6 L299.45,39.76 L299.58,40.32 L299.71,40.5 L299.84,41.09 L299.96,42.13 L300.08,41.12 L300.2,42.37 L300.3,43.42 L300.4,43.55 L300.5,42.4 L300.6,44.46 L300.7,44.52 L300.8,43.38 L300.9,43.94 L301,44.16 L301.11,44.18 L301.21,46.58 L301.31,45.69 L301.42,47.08 L301.52,45.78 L301.63,45.93 L301.73,48.19 L301.84,48.4 L301.95,49.22 L302.05,48.93 L302.16,48.96 L302.27,49.87 L302.38,48.77 L302.48,50.14 L302.59,50.31 L302.7,50.04 L302.8,51.42 L302.91,51.2 L303.02,51.98 L303.13,52.06 L303.23,52.31 L303.34,52.77 L303.44,53.68 L303.55,54.88 L303.66,55.14 L303.76,55.33 L303.87,55.62 L303.97,54.76 L304.07,56.62 L304.17,55.4 L304.28,55.41 L304.38,56.56 L304.48,57.39 L304.58,56.84 L304.68,57.81 L304.78,57.3 L304.87,59.09 L304.97,58.24 L305.06,58.56 L305.16,58.94 L305.25,59.94 L305.34,60.43 L305.43,59.65 L305.69,60.06 L305.93,61.02 L306.16,60.33 L306.38,61.59 L306.6,62.95 L306.81,63.2 L307.02,61.98 L307.23,64.05 L307.44,63.31 L307.64,64.88 L307.85,63.75 L308.05,63.61 L308.27,64.52 L308.48,65.4 L308.7,64.52 L308.93,65.57 L309.17,65.3 L309.41,64.58 L309.68,64.48 L309.95,64.94 L310.23,64.69 L310.52,64.58 L310.8,65.12 L311.1,65.51 L311.39,64.73 L311.69,63.59 L311.99,63.55 L312.3,63.64 L312.6,63.89 L312.91,62.53 L313.21,62.04 L313.52,62.17 L313.83,61.64 L314.13,60.6 L314.43,61.19 L314.55,61.81 L314.66,60.73 L314.77,60.95 L314.89,60.9 L315,60.67 L315.11,60.58 L315.22,59.27 L315.33,59.52 L315.45,58 L315.56,59.38 L315.67,57.97 L315.78,57.88 L315.89,58.48 L316,56.83 L316.11,56.29 L316.23,57.36 L316.34,56.53 L316.45,55.05 L316.56,54.58 L316.67,54.94 L316.79,53.83 L316.9,55.29 L317.01,53.5 L317.13,53.33 L317.24,53.22 L317.36,53.12 L317.47,52.57 L317.59,52.63 L317.7,52.32 L317.82,51.45 L317.94,50.32 L318.05,51.88 L318.17,50.87 L318.29,49.15 L318.41,49.56 L318.53,49.87 L318.66,50.01 L318.78,47.59 L318.9,47.09 L319.03,47.75 L319.15,47.25 L319.28,47.92 L319.41,47.4 L319.53,45.94 L319.66,45.77 L319.78,45.82 L319.89,46.17 L320.01,44.34 L320.12,44.43 L320.24,43.42 L320.36,44.3 L320.49,42.6 L320.61,44.25 L320.74,42.99 L320.87,42.74 L321,41.3 L321.13,41.25 L321.26,41.41 L321.39,41.89 L321.52,40.81 L321.66,39.88 L321.79,41.03 L321.93,39.95 L322.06,39.28 L322.2,38.18 L322.33,38.01 L322.47,38.96 L322.6,36.89 L322.74,37.39 L322.87,37.21 L323.01,36.25 L323.14,36.79 L323.28,36.73 L323.41,36.25 L323.54,35.63 L323.68,34.09 L323.81,33.42 L323.94,33.89 L324.07,33.28 L324.19,32.68 L324.32,33.84 L324.44,32.06 L324.57,33.08 L324.69,33.01 L324.81,30.9 L324.93,32.35 L325.04,30.92 L325.16,30.23 L325.27,29.89 L325.38,29.3 L325.48,30.05 L325.59,29.55 L325.69,30.34 L325.79,30.07 L325.88,28.14 L325.97,28.69 L326.06,28.47 L326.15,27.82 L326.64,26.96 L326.99,26.26 L327.26,26.76 L327.48,25.76 L327.7,25.25 L327.94,25.66 L328.24,26.46 L328.66,27.16 L328.8,26.59 L328.94,27.74 L329.08,26.83 L329.23,28.01 L329.39,28.05 L329.55,27.3 L329.71,28.77 L329.87,28.21 L330.04,28.76 L330.22,29.13 L330.39,29.46 L330.57,29.32 L330.75,28.76 L330.94,30.66 L331.12,31.13 L331.31,30.64 L331.5,31.17 L331.7,30.84 L331.89,32.59 L332.09,32.5 L332.28,31.87 L332.48,33.58 L332.68,34.37 L332.88,33.4 L333.08,35.27 L333.29,34.6 L333.49,34.41 L333.69,36.08 L333.89,35.75 L333.99,36.86 L334.09,36.79 L334.18,36 L334.28,37.2 L334.38,38.19 L334.48,37.65 L334.58,38.08 L334.68,39.09 L334.78,38.48 L334.88,38.9 L334.99,39.42 L335.09,40.27 L335.19,39.23 L335.3,39.33 L335.4,41.14 L335.5,41.02 L335.61,40.82 L335.71,42.47 L335.82,42.81 L335.93,42.41 L336.03,43.76 L336.14,43.79 L336.25,43.96 L336.35,43.33 L336.46,43.09 L336.57,44.93 L336.68,45.43 L336.79,44.96 L336.89,45.62 L337,46.19 L337.11,45.87 L337.22,47.24 L337.33,47.32 L337.44,47.31 L337.55,47.08 L337.66,48.43 L337.77,48.29 L337.88,49.56 L337.99,48.71 L338.1,49.57 L338.21,49.5 L338.32,50.33 L338.43,51.06 L338.54,50.39 L338.65,50.63 L338.76,51.92 L338.87,51.64 L338.97,52.65 L339.08,52.25 L339.19,52.43 L339.3,53.72 L339.41,54.89 L339.52,55.09 L339.63,54.62 L339.74,54.66 L339.84,54.23 L339.95,54.98 L340.06,55.35 L340.17,57 L340.27,55.45 L340.38,57.54 L340.56,56.94 L340.75,57.27 L340.93,57.31 L341.11,59.26 L341.28,57.94 L341.46,59.17 L341.64,59.41 L341.81,59.09 L341.99,59.5 L342.16,61.53 L342.33,61.43 L342.51,61.64 L342.68,62.33 L342.85,60.88 L343.03,62.52 L343.2,62.92 L343.38,62.06 L343.55,62.85 L343.73,64.27 L343.91,63.12 L344.09,64.35 L344.27,63.3 L344.46,64.66 L344.64,64.05 L344.83,64.82 L345.02,64.77 L345.21,66.11 L345.41,66.07 L345.61,65.78 L345.81,66.42 L346.01,66.08 L346.22,67.14 L346.43,66.17 L346.65,67.03 L346.87,67.35 L347.14,67.19 L347.41,66.71 L347.69,67.25 L347.98,68.56 L348.27,67.88 L348.56,69.35 L348.86,69.05 L349.17,70.3 L349.47,70.31 L349.78,70.29 L350.1,69.75 L350.41,69.26 L350.73,70.61 L351.05,71.24 L351.37,71.83 L351.69,70.45 L352.01,70.54 L352.34,72.52 L352.66,72.15 L352.99,71.74 L353.31,72.44 L353.64,71.27 L353.96,72.24 L354.28,72.61 L354.6,72.55 L354.92,71.63 L355.24,71.63 L355.55,72.73 L355.86,73.31 L356.17,71.66 L356.49,71.35 L356.8,71.47 L357.12,72.96 L357.43,72.03 L357.75,72.09 L358.06,73.17 L358.38,72.22 L358.7,71.33 L359.02,72.16 L359.33,70.47 L359.65,70.92 L359.97,71.67 L360.28,70.32 L360.6,69.82 L360.91,70.68 L361.23,70.05 L361.54,71.23 L361.85,69.09 L362.16,70.38 L362.47,69.22 L362.78,69.87 L363.08,68.81 L363.38,69.02 L363.69,67.99 L363.98,67.47 L364.28,67.67 L364.57,68.13 L364.86,66.82 L365.06,66.34 L365.26,66.52 L365.46,65.58 L365.65,65.82 L365.85,66.13 L366.04,65.81 L366.24,65.66 L366.43,64.71 L366.62,63.84 L366.81,63.56 L367.01,63.95 L367.2,63.34 L367.39,63.86 L367.57,62.88 L367.76,63.67 L367.95,63 L368.14,62.81 L368.32,62.65 L368.51,61.85 L368.69,61.32 L368.88,60.73 L369.06,59.85 L369.24,61.13 L369.42,60.15 L369.61,58.93 L369.79,60.41 L369.97,59.32 L370.15,59.07 L370.33,58.33 L370.5,57.3 L370.68,58.89 L370.86,56.73 L371.04,56.83 L371.21,57.9 L371.39,55.64 L371.56,56.15 L371.74,55.78 L371.91,54.96 L372.09,56.13 L372.26,54.7 L372.43,53.51 L372.6,54.22 L372.79,52.87 L372.98,54.09 L373.17,54.1 L373.37,53.84 L373.56,51.61 L373.76,52.64 L373.96,51.47 L374.16,51.48 L374.36,50.75 L374.56,50.4 L374.76,49.65 L374.96,50.38 L375.16,48.83 L375.36,50.4 L375.56,48.01 L375.76,49.68 L375.95,47.62 L376.15,47.03 L376.34,48.13 L376.53,47.31 L376.72,47.49 L376.9,46.58 L377.08,46.52 L377.26,44.99 L377.43,45.97 L377.6,45.3 L377.77,45.99 L377.93,43.59 L378.08,43.44 L378.23,44.5 L378.38,44.79 L378.52,43.42 L378.65,43.82 L378.78,43.25 L378.89,42.66 L379.01,42.62 L379.11,42.73 L379.21,41.29 L379.3,42.16" fill="none" stroke="#fbcc55" stroke-width="1.6" stroke-linejoin="round" stroke-linecap="round"/>
<path d="M295.6,47.79 L295.67,48.93 L295.76,48.11 L295.85,48.85 L295.96,48.68 L296.08,49.23 L296.2,50.22 L296.33,50.79 L296.47,51.64 L296.62,50.97 L296.76,50.76 L296.92,51.44 L297.07,51.21 L297.23,51.98 L297.38,53.08 L297.54,53.47 L297.69,52.96 L297.88,53.19 L298.08,53.38 L298.28,53.95 L298.48,55.05 L298.69,54.9 L298.9,56.65 L299.12,56.3 L299.34,56.12 L299.56,56.6 L299.79,55.97 L300.02,57.67 L300.26,57.83 L300.5,57.01 L300.72,57.78 L300.95,56.69 L301.18,56.44 L301.42,56.27 L301.66,55.98 L301.9,56.61 L302.15,56.39 L302.4,56.26 L302.65,54.54 L302.91,55.63 L303.17,54.63 L303.43,54.02 L303.7,53.91 L303.97,53.38 L304.15,52.62 L304.32,52.78 L304.5,53.06 L304.69,52.92 L304.87,53.06 L305.06,51.17 L305.25,52.39 L305.44,51.87 L305.63,51.35 L305.82,51.6 L306.02,49.41 L306.21,50.48 L306.41,50.42 L306.6,48.37 L306.8,49.08 L306.99,49.52 L307.19,47.76 L307.38,48.68 L307.58,48.48 L307.77,47.14 L307.96,46.21 L308.16,46.08 L308.37,47.12 L308.59,45.9 L308.8,45.36 L309,45.33 L309.21,46.09 L309.41,44.3 L309.62,43.49 L309.82,45.24 L310.03,43.56 L310.23,43.43 L310.45,44.45 L310.66,42.65 L310.88,41.95 L311.1,43.45 L311.34,41.78 L311.57,41.49 L311.82,42.82 L312.08,41.03 L312.34,42.29 L312.61,40.82 L312.89,40.55 L313.17,40.16 L313.46,40.68 L313.75,40.54 L314.05,40 L314.36,40.07 L314.67,39.45 L314.98,40.47 L315.3,40.53 L315.62,39.98 L315.95,39.99 L316.29,38.2 L316.63,38.46 L316.97,38.22 L317.32,37.99 L317.68,39.65 L318.04,39.39 L318.41,39.29 L318.72,38.4 L319.05,37.33 L319.38,37.92 L319.73,37.01 L320.09,38.78 L320.45,37.28 L320.82,37.24 L321.2,38.6 L321.58,36.87 L321.96,38.38 L322.34,36.96 L322.72,37.66 L323.09,36.36 L323.46,38.04 L323.83,36.88 L324.19,36.71 L324.54,37.34 L324.87,37.17 L325.2,36.38 L325.52,36.07 L325.81,37.04 L326.1,35.82 L326.36,37.68 L326.85,36.53 L327.28,36.17 L327.65,36.57 L327.98,36.18 L328.28,36.73 L328.57,37.35 L328.84,37.21 L329.12,37.24 L329.42,37.37 L329.75,38.05 L330.13,38.99 L330.35,38.41 L330.57,39.31 L330.8,38.87 L331.03,38.26 L331.26,38.57 L331.49,40.26 L331.73,39.66 L331.97,39.67 L332.22,40.2 L332.47,41.17 L332.72,40.39 L332.97,40.63 L333.23,40.93 L333.49,40.45 L333.76,41.94 L334.03,42.12 L334.3,42.51 L334.58,42.78 L334.86,43.21 L335.15,44.15 L335.3,43.22 L335.46,45.2 L335.62,43.54 L335.79,45.45 L335.95,44.19 L336.12,45.82 L336.28,44.91 L336.45,44.79 L336.62,46.09 L336.8,47.04 L336.97,47.35 L337.14,47.72 L337.32,48.25 L337.5,46.52 L337.67,47.55 L337.85,47.26 L338.03,49.01 L338.21,48.66 L338.39,49.63 L338.57,50.07 L338.75,50.85 L338.93,50.47 L339.12,51.24 L339.3,50.86 L339.48,50.16 L339.66,52.28 L339.84,50.85 L340.02,51.18 L340.21,53.15 L340.39,52.27 L340.57,53.44 L340.75,52.38 L340.93,53.11 L341.1,54.55 L341.28,53.38 L341.46,54.74 L341.64,56 L341.8,54.71 L341.96,56.1 L342.13,56.5 L342.29,56.54 L342.45,57.18 L342.61,57.35 L342.77,56.17 L342.92,56.89 L343.08,57.97 L343.24,59.26 L343.39,57.93 L343.55,59.08 L343.7,58.4 L343.86,60.32 L344.02,59.77 L344.17,60.27 L344.33,60.93 L344.48,60.09 L344.64,61.72 L344.8,62.21 L344.96,62.67 L345.12,61.72 L345.28,61.94 L345.44,62.11 L345.61,64.05 L345.77,63.35 L345.94,63.55 L346.11,64.15 L346.28,64.85 L346.45,64.31 L346.63,64.64 L346.81,65.88 L346.99,66.19 L347.17,65.41 L347.35,65.19 L347.54,67.34 L347.73,67.17 L347.92,67.12 L348.12,66.95 L348.37,68.47 L348.62,67.6 L348.87,67.43 L349.13,67.47 L349.4,68.32 L349.67,69.17 L349.95,68.94 L350.22,70.51 L350.51,70.15 L350.79,70.01 L351.08,70.73 L351.37,70.88 L351.66,71.18 L351.95,71.17 L352.25,71.49 L352.54,71.66 L352.84,72.65 L353.13,71.47 L353.43,72.99 L353.73,72.13 L354.02,73.53 L354.32,72.01 L354.61,73.09 L354.9,73.15 L355.19,73.89 L355.47,72.89 L355.76,73.14 L356.04,72.95 L356.31,73.98 L356.59,74.07 L356.86,72.85 L357.12,73.27 L357.43,73.32 L357.73,74.97 L358.03,73.82 L358.33,73.99 L358.63,73.29 L358.92,73.99 L359.22,74.2 L359.51,73.73 L359.79,72.08 L360.08,72.85 L360.36,72.76 L360.65,71.56 L360.93,72.96 L361.21,71.68 L361.49,71.36 L361.77,71.83 L362.05,71.46 L362.33,70.98 L362.61,71.49 L362.89,70.45 L363.17,69.76 L363.45,68.84 L363.73,69.62 L364.01,68.9 L364.29,68.97 L364.58,68.26 L364.86,67.21 L365.08,67.05 L365.29,67.08 L365.51,66.7 L365.73,68.12 L365.95,67.27 L366.16,66.25 L366.38,67.02 L366.6,66.57 L366.82,65.03 L367.04,66.26 L367.26,64.82 L367.48,66.22 L367.7,64.04 L367.92,64.06 L368.14,63.67 L368.36,64.71 L368.58,64.31 L368.8,63.48 L369.02,62.22 L369.23,62.53 L369.45,62.82 L369.67,61.09 L369.89,62.68 L370.1,62.2 L370.32,62.1 L370.53,61.28 L370.74,60.81 L370.95,61.3 L371.16,59.45 L371.37,59.25 L371.58,58.56 L371.79,58.41 L372,59.5 L372.2,57.69 L372.4,58.86 L372.6,57.84 L372.86,58.58 L373.13,58 L373.4,57.52 L373.67,57.54 L373.95,55.45 L374.23,55.62 L374.51,55.52 L374.79,55.34 L375.07,55.55 L375.35,55.69 L375.62,55.08 L375.9,55.18 L376.17,54.37 L376.44,53.33 L376.7,53.37 L376.95,53.62 L377.2,53.49 L377.45,52.25 L377.68,51.96 L377.91,52.28 L378.12,51.2 L378.33,52.41 L378.52,50.26 L378.7,51.48 L378.87,50.94 L379.03,50.13 L379.17,50.79 L379.3,50.49" fill="none" stroke="#33b466" stroke-width="1.6" stroke-linejoin="round" stroke-linecap="round"/>
</g>
<line x1="326.3" y1="13.9" x2="326.3" y2="20.2" stroke="#fbcc55" stroke-width="1.1"/>
<path d="M324.2,18.6 L326.3,23.2 L328.4,18.6 L326.3,19.8 Z" fill="#fbcc55"/>
<line x1="331.6" y1="13.9" x2="331.6" y2="20.2" stroke="#3d66a4" stroke-width="1.1"/>
<path d="M329.5,18.6 L331.6,23.2 L333.7,18.6 L331.6,19.8 Z" fill="#3d66a4"/>
<line x1="319.7" y1="24.1" x2="319.7" y2="30.4" stroke="#33b466" stroke-width="1.1"/>
<path d="M317.6,28.8 L319.7,33.4 L321.8,28.8 L319.7,30 Z" fill="#33b466"/>
<line x1="351.6" y1="13.9" x2="351.6" y2="20.7" stroke="#ee1420" stroke-width="1.1"/>
<path d="M349.5,19.1 L351.6,23.7 L353.7,19.1 L351.6,20.3 Z" fill="#ee1420"/>
<text transform="translate(356.3 20.3)" font-size="9.5" text-anchor="start" fill="#222" font-weight="normal" stroke="#222" stroke-width="0.22">CPR</text>
<line x1="311.5" y1="108.3" x2="327.5" y2="99.8" stroke="#e9843a" stroke-width="3.6"/>
<path d="M332.6,97.2 L323.8,97.6 L327.8,105.0 Z" fill="#e9843a"/>
<rect x="500.2" y="9.3" width="179.7" height="144.1" fill="none" stroke="#666" stroke-width="1"/>
<line x1="508.7" y1="153.4" x2="508.7" y2="155.9" stroke="#666" stroke-width="1"/>
<text transform="translate(508.7 166.6)" font-size="9.3" text-anchor="middle" fill="#222" font-weight="normal" stroke="#222" stroke-width="0.22">1.36</text>
<line x1="542.3" y1="153.4" x2="542.3" y2="155.9" stroke="#666" stroke-width="1"/>
<text transform="translate(542.3 166.6)" font-size="9.3" text-anchor="middle" fill="#222" font-weight="normal" stroke="#222" stroke-width="0.22">1.44</text>
<line x1="575.9" y1="153.4" x2="575.9" y2="155.9" stroke="#666" stroke-width="1"/>
<text transform="translate(575.9 166.6)" font-size="9.3" text-anchor="middle" fill="#222" font-weight="normal" stroke="#222" stroke-width="0.22">1.52</text>
<line x1="609.5" y1="153.4" x2="609.5" y2="155.9" stroke="#666" stroke-width="1"/>
<text transform="translate(609.5 166.6)" font-size="9.3" text-anchor="middle" fill="#222" font-weight="normal" stroke="#222" stroke-width="0.22">1.60</text>
<line x1="643.1" y1="153.4" x2="643.1" y2="155.9" stroke="#666" stroke-width="1"/>
<text transform="translate(643.1 166.6)" font-size="9.3" text-anchor="middle" fill="#222" font-weight="normal" stroke="#222" stroke-width="0.22">1.68</text>
<line x1="676.7" y1="153.4" x2="676.7" y2="155.9" stroke="#666" stroke-width="1"/>
<text transform="translate(676.7 166.6)" font-size="9.3" text-anchor="middle" fill="#222" font-weight="normal" stroke="#222" stroke-width="0.22">1.76</text>
<line x1="525.5" y1="153.4" x2="525.5" y2="154.9" stroke="#666" stroke-width="1"/>
<line x1="559.1" y1="153.4" x2="559.1" y2="154.9" stroke="#666" stroke-width="1"/>
<line x1="592.7" y1="153.4" x2="592.7" y2="154.9" stroke="#666" stroke-width="1"/>
<line x1="626.3" y1="153.4" x2="626.3" y2="154.9" stroke="#666" stroke-width="1"/>
<line x1="659.9" y1="153.4" x2="659.9" y2="154.9" stroke="#666" stroke-width="1"/>
<line x1="497.7" y1="143.7" x2="500.2" y2="143.7" stroke="#666" stroke-width="1"/>
<text transform="translate(496 146.9)" font-size="9.3" text-anchor="end" fill="#222" font-weight="normal" stroke="#222" stroke-width="0.22">600</text>
<line x1="497.7" y1="102.4" x2="500.2" y2="102.4" stroke="#666" stroke-width="1"/>
<text transform="translate(496 105.6)" font-size="9.3" text-anchor="end" fill="#222" font-weight="normal" stroke="#222" stroke-width="0.22">800</text>
<line x1="497.7" y1="61.1" x2="500.2" y2="61.1" stroke="#666" stroke-width="1"/>
<text transform="translate(496 64.3)" font-size="9.3" text-anchor="end" fill="#222" font-weight="normal" stroke="#222" stroke-width="0.22">1000</text>
<line x1="497.7" y1="19.8" x2="500.2" y2="19.8" stroke="#666" stroke-width="1"/>
<text transform="translate(496 23)" font-size="9.3" text-anchor="end" fill="#222" font-weight="normal" stroke="#222" stroke-width="0.22">1200</text>
<line x1="498.7" y1="123.05" x2="500.2" y2="123.05" stroke="#666" stroke-width="1"/>
<line x1="498.7" y1="81.75" x2="500.2" y2="81.75" stroke="#666" stroke-width="1"/>
<line x1="498.7" y1="40.45" x2="500.2" y2="40.45" stroke="#666" stroke-width="1"/>
<text transform="translate(590 181.2)" font-size="9.7" text-anchor="middle" fill="#222" font-weight="normal" stroke="#222" stroke-width="0.22">Energy (eV)</text>
<text transform="translate(466 77) rotate(-90)" font-size="9.9" text-anchor="middle" fill="#222" font-weight="normal" stroke="#222" stroke-width="0.22">Intensity (arb. units)</text>
<clipPath id="cpd"><rect x="500.2" y="9.3" width="179.7" height="144.1"/></clipPath>
<g clip-path="url(#cpd)">
<path d="M500.3,150.1 C504.5,149.89 518.29,149.34 525.5,148.86 C532.71,148.38 536.73,148 543.56,147.21 C550.39,146.42 560.89,145.15 566.49,144.11 C572.09,143.08 573.91,142.29 577.16,141.02 C580.41,139.74 583.46,138.23 585.98,136.47 C588.5,134.72 590.28,133 592.28,130.48 C594.28,127.97 595.3,125.84 597.99,121.4 C600.68,116.96 605.8,109.77 608.41,103.85 C611.01,97.93 611.68,93.18 613.62,85.88 C615.55,78.58 618.17,69.36 620,60.07 C621.83,50.77 623.36,37.35 624.62,30.12 C625.88,22.9 626.79,19.52 627.56,16.7 C628.33,13.88 628.68,13.19 629.24,13.19 C629.8,13.19 630.25,13.88 630.92,16.7 C631.58,19.52 632.33,22.9 633.23,30.12 C634.13,37.35 635.49,51.64 636.3,60.07 C637.1,68.5 637.14,73.42 638.06,80.72 C638.98,88.01 640.31,96.93 641.84,103.85 C643.37,110.76 645.26,116.89 647.22,122.22 C649.18,127.56 651.02,132.2 653.6,135.85 C656.18,139.5 659.91,142.29 662.71,144.11 C665.51,145.94 667.51,146.11 670.4,146.8 C673.29,147.49 678.45,148 680.06,148.24" fill="none" stroke="#ee1420" stroke-width="1.8" stroke-linejoin="round" stroke-linecap="round"/>
<path d="M500.3,150.1 C504.5,149.89 518.29,149.34 525.5,148.86 C532.71,148.38 536.73,147.93 543.56,147.21 C550.39,146.49 560.12,145.28 566.49,144.53 C572.86,143.77 577.48,143.73 581.78,142.67 C586.08,141.6 589.58,140.43 592.28,138.12 C594.98,135.82 595.75,132.38 597.99,128.83 C600.23,125.29 603.45,120.16 605.72,116.85 C607.99,113.55 609.92,110.69 611.6,109.01 C613.28,107.32 614.61,107.18 615.8,106.74 C616.99,106.29 617.69,106.22 618.74,106.32 C619.79,106.43 620.84,106.63 622.1,107.36 C623.36,108.08 624.69,109.08 626.3,110.66 C627.91,112.24 630.01,114.27 631.76,116.85 C633.51,119.44 635.12,123.15 636.8,126.15 C638.48,129.14 640.09,132.31 641.84,134.82 C643.59,137.33 645.55,139.47 647.3,141.22 C649.05,142.98 649.75,144.04 652.34,145.35 C654.93,146.66 658.22,148.24 662.84,149.07 C667.46,149.89 677.19,150.1 680.06,150.31" fill="none" stroke="#3d66a4" stroke-width="1.8" stroke-linejoin="round" stroke-linecap="round"/>
<path d="M500.3,150.51 C504.5,150.34 518.29,149.9 525.5,149.48 C532.71,149.07 535.46,148.66 543.56,148.04 C551.66,147.42 566.46,146.8 574.09,145.76 C581.72,144.73 585.36,143.77 589.34,141.84 C593.32,139.91 595.68,136.47 597.99,134.2 C600.3,131.93 601.49,130.04 603.2,128.21 C604.91,126.39 606.49,124.53 608.24,123.26 C609.99,121.98 612.03,121.16 613.7,120.57 C615.37,119.99 616.7,119.61 618.24,119.75 C619.78,119.88 621.13,120.23 622.94,121.4 C624.75,122.57 627.15,124.43 629.11,126.77 C631.07,129.11 633,132.79 634.7,135.44 C636.4,138.09 637.71,140.88 639.32,142.67 C640.93,144.46 642.61,145.11 644.36,146.18 C646.11,147.24 646.53,148.31 649.82,149.07 C653.11,149.83 659.06,150.41 664.1,150.72 C669.14,151.03 677.4,150.89 680.06,150.93" fill="none" stroke="#fbcc55" stroke-width="1.8" stroke-linejoin="round" stroke-linecap="round"/>
<path d="M500.3,150.72 C504.5,150.58 518.29,150.27 525.5,149.89 C532.71,149.52 535.46,149.07 543.56,148.45 C551.66,147.83 566.46,147.11 574.09,146.18 C581.72,145.25 585.36,144.35 589.34,142.87 C593.32,141.39 595.33,139.91 597.99,137.3 C600.65,134.68 603.13,129.93 605.3,127.18 C607.47,124.43 609.26,122.36 611.01,120.78 C612.76,119.2 614.16,118.37 615.8,117.68 C617.44,116.99 619.09,116.37 620.84,116.65 C622.59,116.92 624.48,117.99 626.3,119.33 C628.12,120.68 630.01,122.71 631.76,124.7 C633.51,126.7 635.12,129.18 636.8,131.31 C638.48,133.44 640.09,135.58 641.84,137.5 C643.59,139.43 645.55,141.36 647.3,142.87 C649.05,144.39 649.54,145.56 652.34,146.59 C655.14,147.62 659.48,148.52 664.1,149.07 C668.72,149.62 677.4,149.76 680.06,149.89" fill="none" stroke="#33b466" stroke-width="1.8" stroke-linejoin="round" stroke-linecap="round"/>
<path d="M500.3,149.48 C502.45,149.31 508.5,149.07 513.19,148.45 C517.88,147.83 523.87,146.87 528.44,145.76 C533.01,144.66 536.56,143.08 540.62,141.84 C544.68,140.6 549.02,139.16 552.8,138.33 C556.58,137.5 559.75,137.13 563.3,136.89 C566.85,136.64 570.8,136.95 574.09,136.89 C577.38,136.82 580.01,136.92 583.04,136.47 C586.07,136.03 589.79,135.2 592.28,134.2 C594.77,133.2 596.17,131.59 597.99,130.48 C599.81,129.38 601.7,128.25 603.2,127.59 C604.7,126.94 605.58,126.29 606.98,126.56 C608.38,126.84 610.06,127.87 611.6,129.24 C613.14,130.62 614.68,132.93 616.22,134.82 C617.76,136.71 619.37,139.05 620.84,140.6 C622.31,142.15 623.43,143.01 625.04,144.11 C626.65,145.21 628.54,146.38 630.5,147.21 C632.46,148.04 634,148.59 636.8,149.07 C639.6,149.55 643.87,149.89 647.3,150.1 C650.73,150.31 651.92,150.27 657.38,150.31 C662.84,150.34 676.28,150.31 680.06,150.31" fill="none" stroke="#8a8a8a" stroke-width="1.8" stroke-linejoin="round" stroke-linecap="round"/>
</g>
<line x1="639.5" y1="18.7" x2="659.9" y2="18.7" stroke="#ee1420" stroke-width="1.6"/>
<text transform="translate(663.2 22.1)" font-size="9.4" text-anchor="start" fill="#222" font-weight="normal" stroke="#222" stroke-width="0.22">L1</text>
<line x1="639.5" y1="30.3" x2="659.9" y2="30.3" stroke="#3d66a4" stroke-width="1.6"/>
<text transform="translate(663.2 33.7)" font-size="9.4" text-anchor="start" fill="#222" font-weight="normal" stroke="#222" stroke-width="0.22">L2</text>
<line x1="639.5" y1="41.9" x2="659.9" y2="41.9" stroke="#fbcc55" stroke-width="1.6"/>
<text transform="translate(663.2 45.3)" font-size="9.4" text-anchor="start" fill="#222" font-weight="normal" stroke="#222" stroke-width="0.22">L3</text>
<line x1="639.5" y1="53.5" x2="659.9" y2="53.5" stroke="#33b466" stroke-width="1.6"/>
<text transform="translate(663.2 56.9)" font-size="9.4" text-anchor="start" fill="#222" font-weight="normal" stroke="#222" stroke-width="0.22">L4</text>
<line x1="639.5" y1="65.1" x2="659.9" y2="65.1" stroke="#8a8a8a" stroke-width="1.6"/>
<text transform="translate(663.2 68.5)" font-size="9.4" text-anchor="start" fill="#222" font-weight="normal" stroke="#222" stroke-width="0.22">ITO</text>
<rect x="501.5" y="10.4" width="84.3" height="84.3" fill="#160202"/>
<defs><filter id="sb2" x="-10%" y="-10%" width="120%" height="120%"><feGaussianBlur stdDeviation="0.9"/></filter></defs>
<g filter="url(#sb2)"><rect x="507" y="18.2" width="2.50" height="2.44" fill="rgb(103,6,5)"/><rect x="509.4" y="18.2" width="2.50" height="2.44" fill="rgb(125,6,6)"/><rect x="511.8" y="18.2" width="2.50" height="2.44" fill="rgb(104,6,5)"/><rect x="514.2" y="18.2" width="2.50" height="2.44" fill="rgb(102,6,5)"/><rect x="516.6" y="18.2" width="2.50" height="2.44" fill="rgb(84,6,5)"/><rect x="519" y="18.2" width="2.50" height="2.44" fill="rgb(105,6,5)"/><rect x="521.4" y="18.2" width="2.50" height="2.44" fill="rgb(143,11,7)"/><rect x="523.8" y="18.2" width="2.50" height="2.44" fill="rgb(123,6,6)"/><rect x="526.2" y="18.2" width="2.50" height="2.44" fill="rgb(141,11,7)"/><rect x="528.6" y="18.2" width="2.50" height="2.44" fill="rgb(118,6,6)"/><rect x="507" y="20.54" width="2.50" height="2.44" fill="rgb(122,6,6)"/><rect x="509.4" y="20.54" width="2.50" height="2.44" fill="rgb(116,6,6)"/><rect x="511.8" y="20.54" width="2.50" height="2.44" fill="rgb(63,6,4)"/><rect x="514.2" y="20.54" width="2.50" height="2.44" fill="rgb(135,9,7)"/><rect x="516.6" y="20.54" width="2.50" height="2.44" fill="rgb(125,6,6)"/><rect x="519" y="20.54" width="2.50" height="2.44" fill="rgb(125,6,6)"/><rect x="521.4" y="20.54" width="2.50" height="2.44" fill="rgb(62,6,4)"/><rect x="523.8" y="20.54" width="2.50" height="2.44" fill="rgb(60,6,4)"/><rect x="526.2" y="20.54" width="2.50" height="2.44" fill="rgb(85,6,5)"/><rect x="528.6" y="20.54" width="2.50" height="2.44" fill="rgb(97,6,5)"/><rect x="507" y="22.88" width="2.50" height="2.44" fill="rgb(120,6,6)"/><rect x="509.4" y="22.88" width="2.50" height="2.44" fill="rgb(109,6,6)"/><rect x="511.8" y="22.88" width="2.50" height="2.44" fill="rgb(126,6,6)"/><rect x="514.2" y="22.88" width="2.50" height="2.44" fill="rgb(92,6,5)"/><rect x="516.6" y="22.88" width="2.50" height="2.44" fill="rgb(120,6,6)"/><rect x="519" y="22.88" width="2.50" height="2.44" fill="rgb(122,6,6)"/><rect x="521.4" y="22.88" width="2.50" height="2.44" fill="rgb(92,6,5)"/><rect x="523.8" y="22.88" width="2.50" height="2.44" fill="rgb(160,18,7)"/><rect x="526.2" y="22.88" width="2.50" height="2.44" fill="rgb(127,6,6)"/><rect x="528.6" y="22.88" width="2.50" height="2.44" fill="rgb(145,12,7)"/><rect x="507" y="25.22" width="2.50" height="2.44" fill="rgb(93,6,5)"/><rect x="509.4" y="25.22" width="2.50" height="2.44" fill="rgb(89,6,5)"/><rect x="511.8" y="25.22" width="2.50" height="2.44" fill="rgb(101,6,5)"/><rect x="514.2" y="25.22" width="2.50" height="2.44" fill="rgb(108,6,6)"/><rect x="516.6" y="25.22" width="2.50" height="2.44" fill="rgb(129,7,6)"/><rect x="519" y="25.22" width="2.50" height="2.44" fill="rgb(118,6,6)"/><rect x="521.4" y="25.22" width="2.50" height="2.44" fill="rgb(98,6,5)"/><rect x="523.8" y="25.22" width="2.50" height="2.44" fill="rgb(83,6,5)"/><rect x="526.2" y="25.22" width="2.50" height="2.44" fill="rgb(96,6,5)"/><rect x="528.6" y="25.22" width="2.50" height="2.44" fill="rgb(146,13,7)"/><rect x="507" y="27.56" width="2.50" height="2.44" fill="rgb(87,6,5)"/><rect x="509.4" y="27.56" width="2.50" height="2.44" fill="rgb(118,6,6)"/><rect x="511.8" y="27.56" width="2.50" height="2.44" fill="rgb(123,6,6)"/><rect x="514.2" y="27.56" width="2.50" height="2.44" fill="rgb(68,6,4)"/><rect x="516.6" y="27.56" width="2.50" height="2.44" fill="rgb(112,6,6)"/><rect x="519" y="27.56" width="2.50" height="2.44" fill="rgb(148,13,7)"/><rect x="521.4" y="27.56" width="2.50" height="2.44" fill="rgb(52,6,4)"/><rect x="523.8" y="27.56" width="2.50" height="2.44" fill="rgb(101,6,5)"/><rect x="526.2" y="27.56" width="2.50" height="2.44" fill="rgb(108,6,6)"/><rect x="528.6" y="27.56" width="2.50" height="2.44" fill="rgb(87,6,5)"/><rect x="507" y="29.9" width="2.50" height="2.44" fill="rgb(125,6,6)"/><rect x="509.4" y="29.9" width="2.50" height="2.44" fill="rgb(109,6,6)"/><rect x="511.8" y="29.9" width="2.50" height="2.44" fill="rgb(68,6,4)"/><rect x="514.2" y="29.9" width="2.50" height="2.44" fill="rgb(135,9,7)"/><rect x="516.6" y="29.9" width="2.50" height="2.44" fill="rgb(130,7,6)"/><rect x="519" y="29.9" width="2.50" height="2.44" fill="rgb(138,10,7)"/><rect x="521.4" y="29.9" width="2.50" height="2.44" fill="rgb(152,15,7)"/><rect x="523.8" y="29.9" width="2.50" height="2.44" fill="rgb(121,6,6)"/><rect x="526.2" y="29.9" width="2.50" height="2.44" fill="rgb(114,6,6)"/><rect x="528.6" y="29.9" width="2.50" height="2.44" fill="rgb(73,6,4)"/><rect x="507" y="32.24" width="2.50" height="2.44" fill="rgb(128,6,6)"/><rect x="509.4" y="32.24" width="2.50" height="2.44" fill="rgb(93,6,5)"/><rect x="511.8" y="32.24" width="2.50" height="2.44" fill="rgb(98,6,5)"/><rect x="514.2" y="32.24" width="2.50" height="2.44" fill="rgb(74,6,4)"/><rect x="516.6" y="32.24" width="2.50" height="2.44" fill="rgb(83,6,5)"/><rect x="519" y="32.24" width="2.50" height="2.44" fill="rgb(95,6,5)"/><rect x="521.4" y="32.24" width="2.50" height="2.44" fill="rgb(148,13,7)"/><rect x="523.8" y="32.24" width="2.50" height="2.44" fill="rgb(52,6,4)"/><rect x="526.2" y="32.24" width="2.50" height="2.44" fill="rgb(69,6,4)"/><rect x="528.6" y="32.24" width="2.50" height="2.44" fill="rgb(118,6,6)"/><rect x="507" y="34.58" width="2.50" height="2.44" fill="rgb(152,15,7)"/><rect x="509.4" y="34.58" width="2.50" height="2.44" fill="rgb(127,6,6)"/><rect x="511.8" y="34.58" width="2.50" height="2.44" fill="rgb(56,6,4)"/><rect x="514.2" y="34.58" width="2.50" height="2.44" fill="rgb(50,6,4)"/><rect x="516.6" y="34.58" width="2.50" height="2.44" fill="rgb(121,6,6)"/><rect x="519" y="34.58" width="2.50" height="2.44" fill="rgb(89,6,5)"/><rect x="521.4" y="34.58" width="2.50" height="2.44" fill="rgb(78,6,5)"/><rect x="523.8" y="34.58" width="2.50" height="2.44" fill="rgb(139,10,7)"/><rect x="526.2" y="34.58" width="2.50" height="2.44" fill="rgb(143,11,7)"/><rect x="528.6" y="34.58" width="2.50" height="2.44" fill="rgb(115,6,6)"/><rect x="507" y="36.92" width="2.50" height="2.44" fill="rgb(118,6,6)"/><rect x="509.4" y="36.92" width="2.50" height="2.44" fill="rgb(123,6,6)"/><rect x="511.8" y="36.92" width="2.50" height="2.44" fill="rgb(157,16,7)"/><rect x="514.2" y="36.92" width="2.50" height="2.44" fill="rgb(129,6,6)"/><rect x="516.6" y="36.92" width="2.50" height="2.44" fill="rgb(126,6,6)"/><rect x="519" y="36.92" width="2.50" height="2.44" fill="rgb(127,6,6)"/><rect x="521.4" y="36.92" width="2.50" height="2.44" fill="rgb(65,6,4)"/><rect x="523.8" y="36.92" width="2.50" height="2.44" fill="rgb(148,13,7)"/><rect x="526.2" y="36.92" width="2.50" height="2.44" fill="rgb(138,10,7)"/><rect x="528.6" y="36.92" width="2.50" height="2.44" fill="rgb(126,6,6)"/><rect x="507" y="39.26" width="2.50" height="2.44" fill="rgb(54,6,4)"/><rect x="509.4" y="39.26" width="2.50" height="2.44" fill="rgb(92,6,5)"/><rect x="511.8" y="39.26" width="2.50" height="2.44" fill="rgb(135,9,7)"/><rect x="514.2" y="39.26" width="2.50" height="2.44" fill="rgb(58,6,4)"/><rect x="516.6" y="39.26" width="2.50" height="2.44" fill="rgb(105,6,5)"/><rect x="519" y="39.26" width="2.50" height="2.44" fill="rgb(140,10,7)"/><rect x="521.4" y="39.26" width="2.50" height="2.44" fill="rgb(73,6,4)"/><rect x="523.8" y="39.26" width="2.50" height="2.44" fill="rgb(157,17,7)"/><rect x="526.2" y="39.26" width="2.50" height="2.44" fill="rgb(127,6,6)"/><rect x="528.6" y="39.26" width="2.50" height="2.44" fill="rgb(106,6,6)"/></g>
<g filter="url(#sb2)"><rect x="506.5" y="64.9" width="2.55" height="2.62" fill="rgb(100,6,5)"/><rect x="508.95" y="64.9" width="2.55" height="2.62" fill="rgb(107,6,6)"/><rect x="511.4" y="64.9" width="2.55" height="2.62" fill="rgb(95,6,5)"/><rect x="513.85" y="64.9" width="2.55" height="2.62" fill="rgb(119,6,6)"/><rect x="516.3" y="64.9" width="2.55" height="2.62" fill="rgb(76,6,4)"/><rect x="518.75" y="64.9" width="2.55" height="2.62" fill="rgb(82,6,5)"/><rect x="521.2" y="64.9" width="2.55" height="2.62" fill="rgb(117,6,6)"/><rect x="523.65" y="64.9" width="2.55" height="2.62" fill="rgb(93,6,5)"/><rect x="526.1" y="64.9" width="2.55" height="2.62" fill="rgb(71,6,4)"/><rect x="528.55" y="64.9" width="2.55" height="2.62" fill="rgb(115,6,6)"/><rect x="506.5" y="67.42" width="2.55" height="2.62" fill="rgb(127,6,6)"/><rect x="508.95" y="67.42" width="2.55" height="2.62" fill="rgb(81,6,5)"/><rect x="511.4" y="67.42" width="2.55" height="2.62" fill="rgb(59,6,4)"/><rect x="513.85" y="67.42" width="2.55" height="2.62" fill="rgb(89,6,5)"/><rect x="516.3" y="67.42" width="2.55" height="2.62" fill="rgb(88,6,5)"/><rect x="518.75" y="67.42" width="2.55" height="2.62" fill="rgb(85,6,5)"/><rect x="521.2" y="67.42" width="2.55" height="2.62" fill="rgb(125,6,6)"/><rect x="523.65" y="67.42" width="2.55" height="2.62" fill="rgb(68,6,4)"/><rect x="526.1" y="67.42" width="2.55" height="2.62" fill="rgb(122,6,6)"/><rect x="528.55" y="67.42" width="2.55" height="2.62" fill="rgb(62,6,4)"/><rect x="506.5" y="69.94" width="2.55" height="2.62" fill="rgb(73,6,4)"/><rect x="508.95" y="69.94" width="2.55" height="2.62" fill="rgb(107,6,6)"/><rect x="511.4" y="69.94" width="2.55" height="2.62" fill="rgb(119,6,6)"/><rect x="513.85" y="69.94" width="2.55" height="2.62" fill="rgb(112,6,6)"/><rect x="516.3" y="69.94" width="2.55" height="2.62" fill="rgb(100,6,5)"/><rect x="518.75" y="69.94" width="2.55" height="2.62" fill="rgb(95,6,5)"/><rect x="521.2" y="69.94" width="2.55" height="2.62" fill="rgb(96,6,5)"/><rect x="523.65" y="69.94" width="2.55" height="2.62" fill="rgb(106,6,5)"/><rect x="526.1" y="69.94" width="2.55" height="2.62" fill="rgb(88,6,5)"/><rect x="528.55" y="69.94" width="2.55" height="2.62" fill="rgb(99,6,5)"/><rect x="506.5" y="72.46" width="2.55" height="2.62" fill="rgb(106,6,5)"/><rect x="508.95" y="72.46" width="2.55" height="2.62" fill="rgb(92,6,5)"/><rect x="511.4" y="72.46" width="2.55" height="2.62" fill="rgb(110,6,6)"/><rect x="513.85" y="72.46" width="2.55" height="2.62" fill="rgb(105,6,5)"/><rect x="516.3" y="72.46" width="2.55" height="2.62" fill="rgb(140,10,7)"/><rect x="518.75" y="72.46" width="2.55" height="2.62" fill="rgb(100,6,5)"/><rect x="521.2" y="72.46" width="2.55" height="2.62" fill="rgb(82,6,5)"/><rect x="523.65" y="72.46" width="2.55" height="2.62" fill="rgb(83,6,5)"/><rect x="526.1" y="72.46" width="2.55" height="2.62" fill="rgb(92,6,5)"/><rect x="528.55" y="72.46" width="2.55" height="2.62" fill="rgb(114,6,6)"/><rect x="506.5" y="74.98" width="2.55" height="2.62" fill="rgb(84,6,5)"/><rect x="508.95" y="74.98" width="2.55" height="2.62" fill="rgb(101,6,5)"/><rect x="511.4" y="74.98" width="2.55" height="2.62" fill="rgb(136,9,7)"/><rect x="513.85" y="74.98" width="2.55" height="2.62" fill="rgb(50,6,4)"/><rect x="516.3" y="74.98" width="2.55" height="2.62" fill="rgb(65,6,4)"/><rect x="518.75" y="74.98" width="2.55" height="2.62" fill="rgb(98,6,5)"/><rect x="521.2" y="74.98" width="2.55" height="2.62" fill="rgb(101,6,5)"/><rect x="523.65" y="74.98" width="2.55" height="2.62" fill="rgb(98,6,5)"/><rect x="526.1" y="74.98" width="2.55" height="2.62" fill="rgb(82,6,5)"/><rect x="528.55" y="74.98" width="2.55" height="2.62" fill="rgb(108,6,6)"/><rect x="506.5" y="77.5" width="2.55" height="2.62" fill="rgb(99,6,5)"/><rect x="508.95" y="77.5" width="2.55" height="2.62" fill="rgb(80,6,5)"/><rect x="511.4" y="77.5" width="2.55" height="2.62" fill="rgb(150,14,7)"/><rect x="513.85" y="77.5" width="2.55" height="2.62" fill="rgb(100,6,5)"/><rect x="516.3" y="77.5" width="2.55" height="2.62" fill="rgb(79,6,5)"/><rect x="518.75" y="77.5" width="2.55" height="2.62" fill="rgb(90,6,5)"/><rect x="521.2" y="77.5" width="2.55" height="2.62" fill="rgb(87,6,5)"/><rect x="523.65" y="77.5" width="2.55" height="2.62" fill="rgb(91,6,5)"/><rect x="526.1" y="77.5" width="2.55" height="2.62" fill="rgb(50,6,4)"/><rect x="528.55" y="77.5" width="2.55" height="2.62" fill="rgb(80,6,5)"/><rect x="506.5" y="80.02" width="2.55" height="2.62" fill="rgb(116,6,6)"/><rect x="508.95" y="80.02" width="2.55" height="2.62" fill="rgb(64,6,4)"/><rect x="511.4" y="80.02" width="2.55" height="2.62" fill="rgb(90,6,5)"/><rect x="513.85" y="80.02" width="2.55" height="2.62" fill="rgb(115,6,6)"/><rect x="516.3" y="80.02" width="2.55" height="2.62" fill="rgb(112,6,6)"/><rect x="518.75" y="80.02" width="2.55" height="2.62" fill="rgb(127,6,6)"/><rect x="521.2" y="80.02" width="2.55" height="2.62" fill="rgb(52,6,4)"/><rect x="523.65" y="80.02" width="2.55" height="2.62" fill="rgb(84,6,5)"/><rect x="526.1" y="80.02" width="2.55" height="2.62" fill="rgb(84,6,5)"/><rect x="528.55" y="80.02" width="2.55" height="2.62" fill="rgb(107,6,6)"/><rect x="506.5" y="82.54" width="2.55" height="2.62" fill="rgb(118,6,6)"/><rect x="508.95" y="82.54" width="2.55" height="2.62" fill="rgb(50,6,4)"/><rect x="511.4" y="82.54" width="2.55" height="2.62" fill="rgb(118,6,6)"/><rect x="513.85" y="82.54" width="2.55" height="2.62" fill="rgb(58,6,4)"/><rect x="516.3" y="82.54" width="2.55" height="2.62" fill="rgb(108,6,6)"/><rect x="518.75" y="82.54" width="2.55" height="2.62" fill="rgb(56,6,4)"/><rect x="521.2" y="82.54" width="2.55" height="2.62" fill="rgb(96,6,5)"/><rect x="523.65" y="82.54" width="2.55" height="2.62" fill="rgb(120,6,6)"/><rect x="526.1" y="82.54" width="2.55" height="2.62" fill="rgb(88,6,5)"/><rect x="528.55" y="82.54" width="2.55" height="2.62" fill="rgb(97,6,5)"/><rect x="506.5" y="85.06" width="2.55" height="2.62" fill="rgb(111,6,6)"/><rect x="508.95" y="85.06" width="2.55" height="2.62" fill="rgb(95,6,5)"/><rect x="511.4" y="85.06" width="2.55" height="2.62" fill="rgb(90,6,5)"/><rect x="513.85" y="85.06" width="2.55" height="2.62" fill="rgb(128,6,6)"/><rect x="516.3" y="85.06" width="2.55" height="2.62" fill="rgb(117,6,6)"/><rect x="518.75" y="85.06" width="2.55" height="2.62" fill="rgb(85,6,5)"/><rect x="521.2" y="85.06" width="2.55" height="2.62" fill="rgb(157,17,7)"/><rect x="523.65" y="85.06" width="2.55" height="2.62" fill="rgb(65,6,4)"/><rect x="526.1" y="85.06" width="2.55" height="2.62" fill="rgb(114,6,6)"/><rect x="528.55" y="85.06" width="2.55" height="2.62" fill="rgb(86,6,5)"/><rect x="506.5" y="87.58" width="2.55" height="2.62" fill="rgb(95,6,5)"/><rect x="508.95" y="87.58" width="2.55" height="2.62" fill="rgb(109,6,6)"/><rect x="511.4" y="87.58" width="2.55" height="2.62" fill="rgb(97,6,5)"/><rect x="513.85" y="87.58" width="2.55" height="2.62" fill="rgb(107,6,6)"/><rect x="516.3" y="87.58" width="2.55" height="2.62" fill="rgb(56,6,4)"/><rect x="518.75" y="87.58" width="2.55" height="2.62" fill="rgb(56,6,4)"/><rect x="521.2" y="87.58" width="2.55" height="2.62" fill="rgb(107,6,6)"/><rect x="523.65" y="87.58" width="2.55" height="2.62" fill="rgb(69,6,4)"/><rect x="526.1" y="87.58" width="2.55" height="2.62" fill="rgb(68,6,4)"/><rect x="528.55" y="87.58" width="2.55" height="2.62" fill="rgb(57,6,4)"/></g>
<g filter="url(#sb2)"><rect x="554.3" y="64.3" width="2.47" height="2.55" fill="rgb(122,6,6)"/><rect x="556.67" y="64.3" width="2.47" height="2.55" fill="rgb(110,6,6)"/><rect x="559.04" y="64.3" width="2.47" height="2.55" fill="rgb(127,6,6)"/><rect x="561.41" y="64.3" width="2.47" height="2.55" fill="rgb(70,6,4)"/><rect x="563.78" y="64.3" width="2.47" height="2.55" fill="rgb(92,6,5)"/><rect x="566.15" y="64.3" width="2.47" height="2.55" fill="rgb(65,6,4)"/><rect x="568.52" y="64.3" width="2.47" height="2.55" fill="rgb(110,6,6)"/><rect x="570.89" y="64.3" width="2.47" height="2.55" fill="rgb(130,7,6)"/><rect x="573.26" y="64.3" width="2.47" height="2.55" fill="rgb(71,6,4)"/><rect x="575.63" y="64.3" width="2.47" height="2.55" fill="rgb(129,7,6)"/><rect x="554.3" y="66.75" width="2.47" height="2.55" fill="rgb(116,6,6)"/><rect x="556.67" y="66.75" width="2.47" height="2.55" fill="rgb(88,6,5)"/><rect x="559.04" y="66.75" width="2.47" height="2.55" fill="rgb(50,6,4)"/><rect x="561.41" y="66.75" width="2.47" height="2.55" fill="rgb(125,6,6)"/><rect x="563.78" y="66.75" width="2.47" height="2.55" fill="rgb(90,6,5)"/><rect x="566.15" y="66.75" width="2.47" height="2.55" fill="rgb(78,6,4)"/><rect x="568.52" y="66.75" width="2.47" height="2.55" fill="rgb(102,6,5)"/><rect x="570.89" y="66.75" width="2.47" height="2.55" fill="rgb(102,6,5)"/><rect x="573.26" y="66.75" width="2.47" height="2.55" fill="rgb(128,6,6)"/><rect x="575.63" y="66.75" width="2.47" height="2.55" fill="rgb(68,6,4)"/><rect x="554.3" y="69.2" width="2.47" height="2.55" fill="rgb(119,6,6)"/><rect x="556.67" y="69.2" width="2.47" height="2.55" fill="rgb(127,6,6)"/><rect x="559.04" y="69.2" width="2.47" height="2.55" fill="rgb(127,6,6)"/><rect x="561.41" y="69.2" width="2.47" height="2.55" fill="rgb(88,6,5)"/><rect x="563.78" y="69.2" width="2.47" height="2.55" fill="rgb(74,6,4)"/><rect x="566.15" y="69.2" width="2.47" height="2.55" fill="rgb(116,6,6)"/><rect x="568.52" y="69.2" width="2.47" height="2.55" fill="rgb(95,6,5)"/><rect x="570.89" y="69.2" width="2.47" height="2.55" fill="rgb(95,6,5)"/><rect x="573.26" y="69.2" width="2.47" height="2.55" fill="rgb(126,6,6)"/><rect x="575.63" y="69.2" width="2.47" height="2.55" fill="rgb(86,6,5)"/><rect x="554.3" y="71.65" width="2.47" height="2.55" fill="rgb(50,6,4)"/><rect x="556.67" y="71.65" width="2.47" height="2.55" fill="rgb(83,6,5)"/><rect x="559.04" y="71.65" width="2.47" height="2.55" fill="rgb(50,6,4)"/><rect x="561.41" y="71.65" width="2.47" height="2.55" fill="rgb(111,6,6)"/><rect x="563.78" y="71.65" width="2.47" height="2.55" fill="rgb(100,6,5)"/><rect x="566.15" y="71.65" width="2.47" height="2.55" fill="rgb(77,6,4)"/><rect x="568.52" y="71.65" width="2.47" height="2.55" fill="rgb(92,6,5)"/><rect x="570.89" y="71.65" width="2.47" height="2.55" fill="rgb(112,6,6)"/><rect x="573.26" y="71.65" width="2.47" height="2.55" fill="rgb(94,6,5)"/><rect x="575.63" y="71.65" width="2.47" height="2.55" fill="rgb(124,6,6)"/><rect x="554.3" y="74.1" width="2.47" height="2.55" fill="rgb(91,6,5)"/><rect x="556.67" y="74.1" width="2.47" height="2.55" fill="rgb(117,6,6)"/><rect x="559.04" y="74.1" width="2.47" height="2.55" fill="rgb(127,6,6)"/><rect x="561.41" y="74.1" width="2.47" height="2.55" fill="rgb(130,7,6)"/><rect x="563.78" y="74.1" width="2.47" height="2.55" fill="rgb(76,6,4)"/><rect x="566.15" y="74.1" width="2.47" height="2.55" fill="rgb(113,6,6)"/><rect x="568.52" y="74.1" width="2.47" height="2.55" fill="rgb(50,6,4)"/><rect x="570.89" y="74.1" width="2.47" height="2.55" fill="rgb(66,6,4)"/><rect x="573.26" y="74.1" width="2.47" height="2.55" fill="rgb(50,6,4)"/><rect x="575.63" y="74.1" width="2.47" height="2.55" fill="rgb(117,6,6)"/><rect x="554.3" y="76.55" width="2.47" height="2.55" fill="rgb(63,6,4)"/><rect x="556.67" y="76.55" width="2.47" height="2.55" fill="rgb(92,6,5)"/><rect x="559.04" y="76.55" width="2.47" height="2.55" fill="rgb(87,6,5)"/><rect x="561.41" y="76.55" width="2.47" height="2.55" fill="rgb(91,6,5)"/><rect x="563.78" y="76.55" width="2.47" height="2.55" fill="rgb(78,6,5)"/><rect x="566.15" y="76.55" width="2.47" height="2.55" fill="rgb(98,6,5)"/><rect x="568.52" y="76.55" width="2.47" height="2.55" fill="rgb(135,9,7)"/><rect x="570.89" y="76.55" width="2.47" height="2.55" fill="rgb(93,6,5)"/><rect x="573.26" y="76.55" width="2.47" height="2.55" fill="rgb(105,6,5)"/><rect x="575.63" y="76.55" width="2.47" height="2.55" fill="rgb(116,6,6)"/><rect x="554.3" y="79" width="2.47" height="2.55" fill="rgb(87,6,5)"/><rect x="556.67" y="79" width="2.47" height="2.55" fill="rgb(62,6,4)"/><rect x="559.04" y="79" width="2.47" height="2.55" fill="rgb(79,6,5)"/><rect x="561.41" y="79" width="2.47" height="2.55" fill="rgb(118,6,6)"/><rect x="563.78" y="79" width="2.47" height="2.55" fill="rgb(53,6,4)"/><rect x="566.15" y="79" width="2.47" height="2.55" fill="rgb(78,6,4)"/><rect x="568.52" y="79" width="2.47" height="2.55" fill="rgb(116,6,6)"/><rect x="570.89" y="79" width="2.47" height="2.55" fill="rgb(111,6,6)"/><rect x="573.26" y="79" width="2.47" height="2.55" fill="rgb(92,6,5)"/><rect x="575.63" y="79" width="2.47" height="2.55" fill="rgb(111,6,6)"/><rect x="554.3" y="81.45" width="2.47" height="2.55" fill="rgb(96,6,5)"/><rect x="556.67" y="81.45" width="2.47" height="2.55" fill="rgb(64,6,4)"/><rect x="559.04" y="81.45" width="2.47" height="2.55" fill="rgb(55,6,4)"/><rect x="561.41" y="81.45" width="2.47" height="2.55" fill="rgb(77,6,4)"/><rect x="563.78" y="81.45" width="2.47" height="2.55" fill="rgb(114,6,6)"/><rect x="566.15" y="81.45" width="2.47" height="2.55" fill="rgb(79,6,5)"/><rect x="568.52" y="81.45" width="2.47" height="2.55" fill="rgb(71,6,4)"/><rect x="570.89" y="81.45" width="2.47" height="2.55" fill="rgb(74,6,4)"/><rect x="573.26" y="81.45" width="2.47" height="2.55" fill="rgb(56,6,4)"/><rect x="575.63" y="81.45" width="2.47" height="2.55" fill="rgb(89,6,5)"/><rect x="554.3" y="83.9" width="2.47" height="2.55" fill="rgb(64,6,4)"/><rect x="556.67" y="83.9" width="2.47" height="2.55" fill="rgb(101,6,5)"/><rect x="559.04" y="83.9" width="2.47" height="2.55" fill="rgb(50,6,4)"/><rect x="561.41" y="83.9" width="2.47" height="2.55" fill="rgb(100,6,5)"/><rect x="563.78" y="83.9" width="2.47" height="2.55" fill="rgb(77,6,4)"/><rect x="566.15" y="83.9" width="2.47" height="2.55" fill="rgb(50,6,4)"/><rect x="568.52" y="83.9" width="2.47" height="2.55" fill="rgb(109,6,6)"/><rect x="570.89" y="83.9" width="2.47" height="2.55" fill="rgb(85,6,5)"/><rect x="573.26" y="83.9" width="2.47" height="2.55" fill="rgb(50,6,4)"/><rect x="575.63" y="83.9" width="2.47" height="2.55" fill="rgb(71,6,4)"/><rect x="554.3" y="86.35" width="2.47" height="2.55" fill="rgb(99,6,5)"/><rect x="556.67" y="86.35" width="2.47" height="2.55" fill="rgb(81,6,5)"/><rect x="559.04" y="86.35" width="2.47" height="2.55" fill="rgb(111,6,6)"/><rect x="561.41" y="86.35" width="2.47" height="2.55" fill="rgb(110,6,6)"/><rect x="563.78" y="86.35" width="2.47" height="2.55" fill="rgb(108,6,6)"/><rect x="566.15" y="86.35" width="2.47" height="2.55" fill="rgb(100,6,5)"/><rect x="568.52" y="86.35" width="2.47" height="2.55" fill="rgb(124,6,6)"/><rect x="570.89" y="86.35" width="2.47" height="2.55" fill="rgb(108,6,6)"/><rect x="573.26" y="86.35" width="2.47" height="2.55" fill="rgb(103,6,5)"/><rect x="575.63" y="86.35" width="2.47" height="2.55" fill="rgb(50,6,4)"/></g>
<defs><linearGradient id="stripe" x1="0" y1="0" x2="0" y2="1"><stop offset="0" stop-color="#e89028"/><stop offset="0.08" stop-color="#fde060"/><stop offset="0.2" stop-color="#fff27a"/><stop offset="0.25" stop-color="#f2b038"/><stop offset="0.3" stop-color="#fff078"/><stop offset="0.46" stop-color="#fde468"/><stop offset="0.52" stop-color="#f0a838"/><stop offset="0.58" stop-color="#fff27c"/><stop offset="0.68" stop-color="#fde468"/><stop offset="0.73" stop-color="#eea434"/><stop offset="0.79" stop-color="#fff078"/><stop offset="0.92" stop-color="#fcdc5c"/><stop offset="1" stop-color="#e89028"/></linearGradient><linearGradient id="cbar" x1="0" y1="1" x2="0" y2="0"><stop offset="0" stop-color="#000"/><stop offset="0.3" stop-color="#5a0a00"/><stop offset="0.6" stop-color="#c84a00"/><stop offset="0.85" stop-color="#f8c040"/><stop offset="1" stop-color="#fff4a0"/></linearGradient><filter id="sb3" x="-20%" y="-20%" width="140%" height="140%"><feGaussianBlur stdDeviation="0.6"/></filter></defs>
<rect x="555.2" y="19.4" width="20.8" height="21" fill="url(#stripe)" filter="url(#sb3)"/>
<rect x="562.6" y="90.9" width="20.6" height="2.3" fill="#fff"/>
<rect x="590.3" y="34.4" width="6.1" height="44.6" fill="url(#cbar)"/>
<text transform="translate(605 18.7)" font-size="7.5" text-anchor="middle" fill="#222" font-weight="normal" stroke="#222" stroke-width="0.22">Intensity</text>
<text transform="translate(605 27.4)" font-size="7.5" text-anchor="middle" fill="#222" font-weight="normal" stroke="#222" stroke-width="0.22">(arb. units)</text>
<text transform="translate(599.3 37.8)" font-size="8" text-anchor="start" fill="#222" font-weight="normal" stroke="#222" stroke-width="0.22">262.5</text>
<text transform="translate(599.5 81.8)" font-size="8" text-anchor="start" fill="#222" font-weight="normal" stroke="#222" stroke-width="0.22">0</text>
<line x1="596.4" y1="35.2" x2="597.8" y2="35.2" stroke="#777" stroke-width="0.6"/>
<line x1="596.4" y1="78.6" x2="597.8" y2="78.6" stroke="#777" stroke-width="0.6"/>
<rect x="27.6" y="193.4" width="179.7" height="144.7" fill="none" stroke="#666" stroke-width="1"/>
<line x1="27.6" y1="338.1" x2="27.6" y2="340.6" stroke="#666" stroke-width="1"/>
<text transform="translate(27.6 350.6)" font-size="9" text-anchor="middle" fill="#222" font-weight="normal" stroke="#222" stroke-width="0.22">1.45</text>
<line x1="59.6" y1="338.1" x2="59.6" y2="340.6" stroke="#666" stroke-width="1"/>
<text transform="translate(59.6 350.6)" font-size="9" text-anchor="middle" fill="#222" font-weight="normal" stroke="#222" stroke-width="0.22">1.50</text>
<line x1="91.6" y1="338.1" x2="91.6" y2="340.6" stroke="#666" stroke-width="1"/>
<text transform="translate(91.6 350.6)" font-size="9" text-anchor="middle" fill="#222" font-weight="normal" stroke="#222" stroke-width="0.22">1.55</text>
<line x1="123.6" y1="338.1" x2="123.6" y2="340.6" stroke="#666" stroke-width="1"/>
<text transform="translate(123.6 350.6)" font-size="9" text-anchor="middle" fill="#222" font-weight="normal" stroke="#222" stroke-width="0.22">1.60</text>
<line x1="155.6" y1="338.1" x2="155.6" y2="340.6" stroke="#666" stroke-width="1"/>
<text transform="translate(155.6 350.6)" font-size="9" text-anchor="middle" fill="#222" font-weight="normal" stroke="#222" stroke-width="0.22">1.65</text>
<line x1="187.6" y1="338.1" x2="187.6" y2="340.6" stroke="#666" stroke-width="1"/>
<text transform="translate(187.6 350.6)" font-size="9" text-anchor="middle" fill="#222" font-weight="normal" stroke="#222" stroke-width="0.22">1.70</text>
<line x1="43.6" y1="338.1" x2="43.6" y2="339.6" stroke="#666" stroke-width="1"/>
<line x1="75.6" y1="338.1" x2="75.6" y2="339.6" stroke="#666" stroke-width="1"/>
<line x1="107.6" y1="338.1" x2="107.6" y2="339.6" stroke="#666" stroke-width="1"/>
<line x1="139.6" y1="338.1" x2="139.6" y2="339.6" stroke="#666" stroke-width="1"/>
<line x1="171.6" y1="338.1" x2="171.6" y2="339.6" stroke="#666" stroke-width="1"/>
<line x1="203.6" y1="338.1" x2="203.6" y2="339.6" stroke="#666" stroke-width="1"/>
<line x1="25.1" y1="337.7" x2="27.6" y2="337.7" stroke="#666" stroke-width="1"/>
<text transform="translate(24.2 340.9)" font-size="9.3" text-anchor="end" fill="#222" font-weight="normal" stroke="#222" stroke-width="0.22">0</text>
<line x1="25.1" y1="310.52" x2="27.6" y2="310.52" stroke="#666" stroke-width="1"/>
<text transform="translate(24.2 313.72)" font-size="9.3" text-anchor="end" fill="#222" font-weight="normal" stroke="#222" stroke-width="0.22">1</text>
<line x1="25.1" y1="283.34" x2="27.6" y2="283.34" stroke="#666" stroke-width="1"/>
<text transform="translate(24.2 286.54)" font-size="9.3" text-anchor="end" fill="#222" font-weight="normal" stroke="#222" stroke-width="0.22">2</text>
<line x1="25.1" y1="256.16" x2="27.6" y2="256.16" stroke="#666" stroke-width="1"/>
<text transform="translate(24.2 259.36)" font-size="9.3" text-anchor="end" fill="#222" font-weight="normal" stroke="#222" stroke-width="0.22">3</text>
<line x1="25.1" y1="228.98" x2="27.6" y2="228.98" stroke="#666" stroke-width="1"/>
<text transform="translate(24.2 232.18)" font-size="9.3" text-anchor="end" fill="#222" font-weight="normal" stroke="#222" stroke-width="0.22">4</text>
<line x1="25.1" y1="201.8" x2="27.6" y2="201.8" stroke="#666" stroke-width="1"/>
<text transform="translate(24.2 205)" font-size="9.3" text-anchor="end" fill="#222" font-weight="normal" stroke="#222" stroke-width="0.22">5</text>
<line x1="26.1" y1="324.11" x2="27.6" y2="324.11" stroke="#666" stroke-width="1"/>
<line x1="26.1" y1="296.93" x2="27.6" y2="296.93" stroke="#666" stroke-width="1"/>
<line x1="26.1" y1="269.75" x2="27.6" y2="269.75" stroke="#666" stroke-width="1"/>
<line x1="26.1" y1="242.57" x2="27.6" y2="242.57" stroke="#666" stroke-width="1"/>
<line x1="26.1" y1="215.39" x2="27.6" y2="215.39" stroke="#666" stroke-width="1"/>
<text transform="translate(117 365.6)" font-size="9.4" text-anchor="middle" fill="#222" font-weight="normal" stroke="#222" stroke-width="0.22">Energy (eV)</text>
<text transform="translate(10.6 254) rotate(-90)" font-size="9" text-anchor="middle" fill="#222" font-weight="normal" stroke="#222" stroke-width="0.22">Intensity (arb. units)</text>
<clipPath id="cpe"><rect x="27.6" y="193.4" width="179.70000000000002" height="144.70000000000002"/></clipPath>
<g clip-path="url(#cpe)">
<path d="M27.8,209.19 L28.02,209.19 L28.24,209.18 L28.46,209.17 L28.68,209.17 L28.9,209.16 L29.12,209.15 L29.34,209.15 L29.56,209.14 L29.78,209.13 L30,209.13 L30.22,209.12 L30.44,209.11 L30.66,209.11 L30.88,209.1 L31.1,209.09 L31.32,209.09 L31.54,209.08 L31.76,209.07 L31.98,209.06 L32.2,209.06 L32.42,209.05 L32.64,209.04 L32.86,209.04 L33.08,209.03 L33.3,209.02 L33.52,209.02 L33.74,209.01 L33.96,209 L34.18,209 L34.4,208.99 L34.62,208.98 L34.84,208.98 L35.06,208.97 L35.28,208.96 L35.5,208.96 L35.72,208.95 L35.94,208.94 L36.16,208.94 L36.38,208.93 L36.6,208.92 L36.82,208.92 L37.04,208.91 L37.26,208.9 L37.48,208.9 L37.7,208.89 L37.92,208.88 L38.14,208.87 L38.36,208.87 L38.58,208.86 L38.8,208.85 L39.02,208.85 L39.24,208.84 L39.46,208.83 L39.68,208.83 L39.9,208.82 L40.12,208.81 L40.34,208.81 L40.56,208.8 L40.78,208.79 L41,208.79 L41.22,208.78 L41.44,208.77 L41.66,208.77 L41.88,208.76 L42.1,208.75 L42.32,208.75 L42.54,208.74 L42.76,208.73 L42.98,208.73 L43.2,208.72 L43.42,208.71 L43.64,208.7 L43.86,208.7 L44.08,208.69 L44.3,208.68 L44.52,208.68 L44.74,208.67 L44.96,208.66 L45.18,208.66 L45.4,208.65 L45.62,208.64 L45.84,208.64 L46.06,208.63 L46.28,208.62 L46.5,208.62 L46.72,208.61 L46.94,208.6 L47.16,208.6 L47.38,208.59 L47.6,208.58 L47.82,208.58 L48.04,208.57 L48.26,208.56 L48.48,208.56 L48.7,208.55 L48.92,208.54 L49.14,208.54 L49.36,208.53 L49.58,208.52 L49.8,208.51 L50.02,208.51 L50.24,208.5 L50.46,208.49 L50.68,208.49 L50.9,208.48 L51.12,208.47 L51.34,208.47 L51.56,208.46 L51.78,208.45 L52,208.45 L52.22,208.44 L52.44,208.43 L52.66,208.43 L52.88,208.42 L53.1,208.41 L53.32,208.41 L53.54,208.4 L53.76,208.39 L53.98,208.39 L54.2,208.38 L54.42,208.37 L54.64,208.37 L54.86,208.36 L55.08,208.35 L55.3,208.35 L55.52,208.34 L55.74,208.33 L55.96,208.32 L56.18,208.32 L56.4,208.31 L56.62,208.3 L56.84,208.3 L57.06,208.29 L57.28,208.28 L57.5,208.28 L57.72,208.27 L57.94,208.26 L58.16,208.26 L58.38,208.25 L58.6,208.24 L58.82,208.24 L59.04,208.23 L59.26,208.22 L59.48,208.22 L59.7,208.21 L59.92,208.2 L60.14,208.2 L60.36,208.19 L60.58,208.18 L60.8,208.17 L61.02,208.16 L61.24,208.16 L61.46,208.15 L61.68,208.14 L61.9,208.13 L62.12,208.13 L62.34,208.12 L62.56,208.11 L62.78,208.1 L63,208.09 L63.22,208.09 L63.44,208.08 L63.66,208.07 L63.88,208.06 L64.1,208.06 L64.32,208.05 L64.54,208.04 L64.76,208.03 L64.98,208.03 L65.2,208.02 L65.42,208.01 L65.64,208 L65.86,207.99 L66.08,207.99 L66.3,207.98 L66.52,207.97 L66.74,207.96 L66.96,207.96 L67.18,207.95 L67.4,207.94 L67.62,207.93 L67.84,207.93 L68.06,207.92 L68.28,207.91 L68.5,207.9 L68.72,207.89 L68.94,207.89 L69.16,207.88 L69.38,207.87 L69.6,207.86 L69.82,207.86 L70.04,207.85 L70.26,207.84 L70.48,207.83 L70.7,207.83 L70.92,207.82 L71.14,207.81 L71.36,207.8 L71.58,207.79 L71.8,207.79 L72.02,207.78 L72.24,207.77 L72.46,207.76 L72.68,207.76 L72.9,207.75 L73.12,207.74 L73.34,207.73 L73.56,207.73 L73.78,207.72 L74,207.71 L74.22,207.7 L74.44,207.69 L74.66,207.69 L74.88,207.68 L75.1,207.67 L75.32,207.66 L75.54,207.66 L75.76,207.65 L75.98,207.64 L76.2,207.63 L76.42,207.63 L76.64,207.62 L76.86,207.61 L77.08,207.6 L77.3,207.59 L77.52,207.59 L77.74,207.58 L77.96,207.57 L78.18,207.56 L78.4,207.56 L78.62,207.55 L78.84,207.54 L79.06,207.53 L79.28,207.53 L79.5,207.52 L79.72,207.51 L79.94,207.5 L80.16,207.49 L80.38,207.49 L80.6,207.48 L80.82,207.47 L81.04,207.46 L81.26,207.46 L81.48,207.45 L81.7,207.44 L81.92,207.43 L82.14,207.43 L82.36,207.42 L82.58,207.41 L82.8,207.4 L83.02,207.39 L83.24,207.39 L83.46,207.38 L83.68,207.37 L83.9,207.36 L84.12,207.36 L84.34,207.35 L84.56,207.34 L84.78,207.33 L85,207.33 L85.22,207.32 L85.44,207.31 L85.66,207.3 L85.88,207.29 L86.1,207.29 L86.32,207.28 L86.54,207.27 L86.76,207.26 L86.98,207.26 L87.2,207.25 L87.42,207.24 L87.64,207.23 L87.86,207.22 L88.08,207.22 L88.3,207.21 L88.52,207.2 L88.74,207.19 L88.96,207.19 L89.18,207.18 L89.4,207.17 L89.62,207.16 L89.84,207.16 L90.06,207.15 L90.28,207.14 L90.5,207.13 L90.72,207.12 L90.94,207.12 L91.16,207.11 L91.38,207.1 L91.6,207.09 L91.82,207.09 L92.04,207.08 L92.26,207.07 L92.48,207.06 L92.7,207.06 L92.92,207.05 L93.14,207.04 L93.36,207.03 L93.58,207.02 L93.8,207.02 L94.02,207.01 L94.24,207 L94.46,206.99 L94.68,206.99 L94.9,206.98 L95.12,206.97 L95.34,206.96 L95.56,206.96 L95.78,206.95 L96,206.94 L96.22,206.93 L96.44,206.92 L96.66,206.92 L96.88,206.91 L97.1,206.9 L97.32,206.89 L97.54,206.89 L97.76,206.88 L97.98,206.87 L98.2,206.86 L98.42,206.86 L98.64,206.85 L98.86,206.84 L99.08,206.83 L99.3,206.82 L99.52,206.82 L99.74,206.81 L99.96,206.8 L100.18,206.8 L100.4,206.79 L100.62,206.79 L100.84,206.78 L101.06,206.77 L101.28,206.77 L101.5,206.76 L101.72,206.76 L101.94,206.75 L102.16,206.75 L102.38,206.74 L102.6,206.74 L102.82,206.73 L103.04,206.73 L103.26,206.72 L103.48,206.72 L103.7,206.71 L103.92,206.71 L104.14,206.7 L104.36,206.7 L104.58,206.69 L104.8,206.68 L105.02,206.68 L105.24,206.67 L105.46,206.67 L105.68,206.66 L105.9,206.66 L106.12,206.65 L106.34,206.65 L106.56,206.64 L106.78,206.64 L107,206.63 L107.22,206.63 L107.44,206.62 L107.66,206.62 L107.88,206.61 L108.1,206.61 L108.32,206.6 L108.54,206.6 L108.76,206.59 L108.98,206.58 L109.2,206.58 L109.42,206.57 L109.64,206.57 L109.86,206.56 L110.08,206.56 L110.3,206.55 L110.52,206.55 L110.74,206.54 L110.96,206.54 L111.18,206.53 L111.4,206.53 L111.62,206.52 L111.84,206.52 L112.06,206.51 L112.28,206.51 L112.5,206.5 L112.72,206.49 L112.94,206.49 L113.16,206.48 L113.38,206.48 L113.6,206.47 L113.82,206.47 L114.04,206.46 L114.26,206.46 L114.48,206.45 L114.7,206.45 L114.92,206.44 L115.14,206.44 L115.36,206.43 L115.58,206.43 L115.8,206.42 L116.02,206.42 L116.24,206.41 L116.46,206.4 L116.68,206.4 L116.9,206.39 L117.12,206.39 L117.34,206.38 L117.56,206.38 L117.78,206.37 L118,206.37 L118.22,206.36 L118.44,206.36 L118.66,206.35 L118.88,206.35 L119.1,206.34 L119.32,206.34 L119.54,206.33 L119.76,206.33 L119.98,206.32 L120.2,206.32 L120.42,206.31 L120.64,206.3 L120.86,206.3 L121.08,206.29 L121.3,206.29 L121.52,206.28 L121.74,206.28 L121.96,206.27 L122.18,206.27 L122.4,206.26 L122.62,206.26 L122.84,206.25 L123.06,206.25 L123.28,206.24 L123.5,206.24 L123.72,206.23 L123.94,206.23 L124.16,206.22 L124.38,206.21 L124.6,206.21 L124.82,206.2 L125.04,206.2 L125.26,206.19 L125.48,206.19 L125.7,206.18 L125.92,206.18 L126.14,206.17 L126.36,206.17 L126.58,206.16 L126.8,206.16 L127.02,206.15 L127.24,206.15 L127.46,206.14 L127.68,206.14 L127.9,206.13 L128.12,206.13 L128.34,206.12 L128.56,206.11 L128.78,206.11 L129,206.1 L129.22,206.1 L129.44,206.09 L129.66,206.09 L129.88,206.08 L130.1,206.08 L130.32,206.07 L130.54,206.07 L130.76,206.06 L130.98,206.06 L131.2,206.05 L131.42,206.05 L131.64,206.04 L131.86,206.04 L132.08,206.03 L132.3,206.02 L132.52,206.02 L132.74,206.01 L132.96,206.01 L133.18,206 L133.4,206 L133.62,205.99 L133.84,205.99 L134.06,205.98 L134.28,205.98 L134.5,205.97 L134.72,205.97 L134.94,205.96 L135.16,205.96 L135.38,205.95 L135.6,205.95 L135.82,205.94 L136.04,205.94 L136.26,205.93 L136.48,205.92 L136.7,205.92 L136.92,205.91 L137.14,205.91 L137.36,205.9 L137.58,205.9 L137.8,205.89 L138.02,205.89 L138.24,205.88 L138.46,205.88 L138.68,205.87 L138.9,205.87 L139.12,205.86 L139.34,205.86 L139.56,205.85 L139.78,205.85 L140,205.84 L140.22,205.83 L140.44,205.83 L140.66,205.82 L140.88,205.82 L141.1,205.81 L141.32,205.81 L141.54,205.8 L141.76,205.8 L141.98,205.79 L142.2,205.79 L142.42,205.78 L142.64,205.78 L142.86,205.77 L143.08,205.77 L143.3,205.76 L143.52,205.76 L143.74,205.75 L143.96,205.74 L144.18,205.74 L144.4,205.73 L144.62,205.73 L144.84,205.72 L145.06,205.72 L145.28,205.71 L145.5,205.71 L145.72,205.7 L145.94,205.7 L146.16,205.69 L146.38,205.69 L146.6,205.68 L146.82,205.68 L147.04,205.67 L147.26,205.67 L147.48,205.66 L147.7,205.66 L147.92,205.65 L148.14,205.64 L148.36,205.64 L148.58,205.63 L148.8,205.63 L149.02,205.62 L149.24,205.62 L149.46,205.61 L149.68,205.61 L149.9,205.6 L150.12,205.61 L150.34,205.62 L150.56,205.64 L150.78,205.65 L151,205.67 L151.22,205.68 L151.44,205.7 L151.66,205.71 L151.88,205.73 L152.1,205.74 L152.32,205.75 L152.54,205.77 L152.76,205.78 L152.98,205.8 L153.2,206.1 L153.42,206.42 L153.64,206.75 L153.86,207.07 L154.08,207.4 L154.3,207.72 L154.52,208.05 L154.74,208.38 L154.96,208.7 L155.18,209.03 L155.4,209.35 L155.62,209.5 L155.84,209.51 L156.06,209.52 L156.28,209.53 L156.5,209.54 L156.72,209.54 L156.94,209.55 L157.16,209.56 L157.38,209.57 L157.6,209.58 L157.82,209.58 L158.04,209.59 L158.26,209.6 L158.48,209.61 L158.7,209.62 L158.92,209.62 L159.14,209.63 L159.36,209.64 L159.58,209.65 L159.8,209.66 L160.02,209.66 L160.24,209.67 L160.46,209.68 L160.68,209.69 L160.9,209.7 L161.12,209.7 L161.34,209.71 L161.56,209.72 L161.78,209.73 L162,209.74 L162.22,209.74 L162.44,209.75 L162.66,209.76 L162.88,209.77 L163.1,209.78 L163.32,209.78 L163.54,209.79 L163.76,209.8 L163.98,209.81 L164.2,209.82 L164.42,209.82 L164.64,209.83 L164.86,209.84 L165.08,209.85 L165.3,209.86 L165.52,209.86 L165.74,209.87 L165.96,209.88 L166.18,209.89 L166.4,209.9 L166.62,209.9 L166.84,209.91 L167.06,209.92 L167.28,209.93 L167.5,209.94 L167.72,209.94 L167.94,209.95 L168.16,209.96 L168.38,209.97 L168.6,209.98 L168.82,209.98 L169.04,209.99 L169.26,210 L169.48,210.01 L169.7,210.02 L169.92,210.02 L170.14,210.03 L170.36,210.04 L170.58,210.05 L170.8,210.06 L171.02,210.06 L171.24,210.07 L171.46,210.08 L171.68,210.09 L171.9,210.1 L172.12,210.1 L172.34,210.11 L172.56,210.12 L172.78,210.13 L173,210.14 L173.22,210.14 L173.44,210.15 L173.66,210.16 L173.88,210.17 L174.1,210.18 L174.32,210.18 L174.54,210.19 L174.76,210.2 L174.98,210.21 L175.2,210.22 L175.42,210.22 L175.64,210.23 L175.86,210.24 L176.08,210.25 L176.3,210.26 L176.52,210.26 L176.74,210.27 L176.96,210.28 L177.18,210.29 L177.4,210.3 L177.62,210.3 L177.84,210.31 L178.06,210.32 L178.28,210.33 L178.5,210.34 L178.72,210.34 L178.94,210.35 L179.16,210.36 L179.38,210.37 L179.6,210.38 L179.82,210.38 L180.04,210.39 L180.26,210.4 L180.48,210.41 L180.7,210.42 L180.92,210.42 L181.14,210.43 L181.36,210.44 L181.58,210.45 L181.8,210.46 L182.02,210.46 L182.24,210.47 L182.46,210.48 L182.68,210.49 L182.9,210.5 L183.12,210.5 L183.34,210.51 L183.56,210.51 L183.78,210.52 L184,210.52 L184.22,210.53 L184.44,210.53 L184.66,210.53 L184.88,210.54 L185.1,210.54 L185.32,210.55 L185.54,210.55 L185.76,210.56 L185.98,210.56 L186.2,210.57 L186.42,210.57 L186.64,210.57 L186.86,210.58 L187.08,210.58 L187.3,210.59 L187.52,210.59 L187.74,210.6 L187.96,210.6 L188.18,210.61 L188.4,210.61 L188.62,210.62 L188.84,210.62 L189.06,210.62 L189.28,210.63 L189.5,210.63 L189.72,210.64 L189.94,210.64 L190.16,210.65 L190.38,210.65 L190.6,210.66 L190.82,210.66 L191.04,210.67 L191.26,210.67 L191.48,210.67 L191.7,210.68 L191.92,210.68 L192.14,210.69 L192.36,210.69 L192.58,210.7 L192.8,210.7 L193.02,210.71 L193.24,210.71 L193.46,210.72 L193.68,210.72 L193.9,210.72 L194.12,210.73 L194.34,210.73 L194.56,210.74 L194.78,210.74 L195,210.75 L195.22,210.75 L195.44,210.76 L195.66,210.76 L195.88,210.77 L196.1,210.77 L196.32,210.77 L196.54,210.78 L196.76,210.78 L196.98,210.79 L197.2,210.79 L197.42,210.8 L197.64,210.8 L197.86,210.81 L198.08,210.81 L198.3,210.81 L198.52,210.82 L198.74,210.82 L198.96,210.83 L199.18,210.83 L199.4,210.84 L199.62,210.84 L199.84,210.85 L200.06,210.85 L200.28,210.86 L200.5,210.86 L200.72,210.86 L200.94,210.87 L201.16,210.87 L201.38,210.88 L201.6,210.88 L201.82,210.89 L202.04,210.89 L202.26,210.9 L202.48,210.9 L202.7,210.91 L202.92,210.91 L203.14,210.91 L203.36,210.92 L203.58,210.92 L203.8,210.93 L204.02,210.93 L204.24,210.94 L204.46,210.94 L204.68,210.95 L204.9,210.95 L205.12,210.96 L205.34,210.96 L205.56,210.96 L205.78,210.97 L206,210.97 L206.22,210.98 L206.44,210.98 L206.66,210.99 L206.88,210.99 L207.1,211" fill="none" stroke="#a4a4a4" stroke-width="2.8" stroke-linejoin="round" stroke-linecap="round"/>
<path d="M27.8,209.58 L28.02,210.67 L28.24,210.58 L28.46,207.9 L28.68,209.25 L28.9,208.57 L29.12,209.55 L29.34,209.01 L29.56,206.3 L29.78,210.4 L30,209.19 L30.22,206.55 L30.44,210.41 L30.66,209.13 L30.88,209.68 L31.1,209.18 L31.32,209.39 L31.54,208.5 L31.76,206.89 L31.98,208.18 L32.2,209.15 L32.42,208.91 L32.64,209.73 L32.86,208.78 L33.08,205.93 L33.3,209.82 L33.52,207.67 L33.74,206.86 L33.96,208.2 L34.18,206.91 L34.4,209.4 L34.62,207.91 L34.84,211.83 L35.06,208.96 L35.28,208.5 L35.5,208.28 L35.72,206.16 L35.94,207.74 L36.16,207.79 L36.38,208.3 L36.6,205.8 L36.82,208.86 L37.04,210.59 L37.26,208.39 L37.48,208.92 L37.7,209.52 L37.92,207.84 L38.14,208.26 L38.36,210.08 L38.58,209.1 L38.8,207.32 L39.02,206.71 L39.24,212.21 L39.46,209.85 L39.68,207.16 L39.9,209.34 L40.12,209.8 L40.34,208.79 L40.56,205.94 L40.78,210.74 L41,209.2 L41.22,208.29 L41.44,209.59 L41.66,208.44 L41.88,208.25 L42.1,209.8 L42.32,205.94 L42.54,209.87 L42.76,209.07 L42.98,209.56 L43.2,209.8 L43.42,210.71 L43.64,210.61 L43.86,209.9 L44.08,208.24 L44.3,209.69 L44.52,208.18 L44.74,207.59 L44.96,209.49 L45.18,209.34 L45.4,210.35 L45.62,205.8 L45.84,209.33 L46.06,209.45 L46.28,208.86 L46.5,210.88 L46.72,207.99 L46.94,209.74 L47.16,208.79 L47.38,209.08 L47.6,207.52 L47.82,208.34 L48.04,209.28 L48.26,208.59 L48.48,209.03 L48.7,207.68 L48.92,210.85 L49.14,207.81 L49.36,208.68 L49.58,209.35 L49.8,208.3 L50.02,209.58 L50.24,208.89 L50.46,210.9 L50.68,209.34 L50.9,209.1 L51.12,207.54 L51.34,209.29 L51.56,210.06 L51.78,209.28 L52,207.44 L52.22,207.88 L52.44,208.26 L52.66,208.61 L52.88,206.82 L53.1,211.16 L53.32,208.52 L53.54,208.68 L53.76,207.8 L53.98,208.23 L54.2,210.79 L54.42,207.04 L54.64,207.61 L54.86,206.88 L55.08,207.47 L55.3,210.22 L55.52,207.44 L55.74,207.75 L55.96,206.03 L56.18,207.92 L56.4,208.61 L56.62,207.54 L56.84,207.55 L57.06,209.08 L57.28,208.78 L57.5,208.03 L57.72,207.17 L57.94,206.16 L58.16,210.23 L58.38,205.93 L58.6,208.82 L58.82,207.82 L59.04,207.28 L59.26,209.62 L59.48,207.75 L59.7,210.59 L59.92,207.69 L60.14,209.63 L60.36,210.51 L60.58,207.38 L60.8,211.21 L61.02,209.43 L61.24,205.3 L61.46,209.95 L61.68,210.62 L61.9,207.79 L62.12,207.86 L62.34,208.54 L62.56,205.5 L62.78,208.17 L63,209.24 L63.22,207.34 L63.44,209.5 L63.66,210.83 L63.88,205.24 L64.1,205.34 L64.32,206.78 L64.54,208.6 L64.76,208.3 L64.98,206.55 L65.2,206.13 L65.42,206.5 L65.64,209.6 L65.86,206.16 L66.08,206.8 L66.3,209.03 L66.52,207.67 L66.74,206.92 L66.96,210.24 L67.18,208.87 L67.4,207.51 L67.62,207.77 L67.84,209.3 L68.06,207.39 L68.28,208 L68.5,208.63 L68.72,208.61 L68.94,204.84 L69.16,206.7 L69.38,207.12 L69.6,207.97 L69.82,209.04 L70.04,209.57 L70.26,207.32 L70.48,206.3 L70.7,207.9 L70.92,206.82 L71.14,209.83 L71.36,207.96 L71.58,207.47 L71.8,208.64 L72.02,206.51 L72.24,207.05 L72.46,207.43 L72.68,208.63 L72.9,209.5 L73.12,208.81 L73.34,208.77 L73.56,207.5 L73.78,208.29 L74,207.49 L74.22,209.28 L74.44,206.9 L74.66,207.55 L74.88,207.89 L75.1,208.57 L75.32,206.66 L75.54,207.46 L75.76,206.86 L75.98,206.33 L76.2,209.55 L76.42,208.64 L76.64,205.88 L76.86,206.33 L77.08,208.13 L77.3,206.51 L77.52,205.92 L77.74,208.98 L77.96,206.79 L78.18,207.01 L78.4,208.32 L78.62,206.77 L78.84,207.85 L79.06,208.1 L79.28,208.83 L79.5,206.79 L79.72,209.09 L79.94,208.14 L80.16,210.16 L80.38,208.29 L80.6,207.43 L80.82,207.45 L81.04,206.58 L81.26,207.9 L81.48,207.7 L81.7,208.92 L81.92,207.9 L82.14,206.76 L82.36,209.25 L82.58,207.34 L82.8,208.14 L83.02,209.51 L83.24,209.09 L83.46,206.36 L83.68,207.12 L83.9,208.96 L84.12,208.4 L84.34,207.7 L84.56,208.07 L84.78,204.08 L85,206.58 L85.22,205.2 L85.44,206.38 L85.66,206.84 L85.88,208.06 L86.1,209.03 L86.32,208.57 L86.54,207.95 L86.76,207.18 L86.98,209.35 L87.2,207.99 L87.42,205.24 L87.64,207.31 L87.86,207.85 L88.08,205.74 L88.3,207.12 L88.52,208.72 L88.74,206.39 L88.96,206.69 L89.18,206.77 L89.4,205.62 L89.62,206.31 L89.84,205.61 L90.06,206.51 L90.28,205.82 L90.5,208.17 L90.72,206.85 L90.94,208.22 L91.16,205.52 L91.38,207.11 L91.6,207.75 L91.82,207.69 L92.04,205.73 L92.26,206.24 L92.48,206.46 L92.7,205.92 L92.92,206 L93.14,207.46 L93.36,205.43 L93.58,204.7 L93.8,206.39 L94.02,207.29 L94.24,203.83 L94.46,208.61 L94.68,207.06 L94.9,207.81 L95.12,205.98 L95.34,206.94 L95.56,209.16 L95.78,208.92 L96,207.06 L96.22,205.79 L96.44,206.08 L96.66,208.16 L96.88,205.75 L97.1,205.69 L97.32,206.89 L97.54,208.32 L97.76,205.68 L97.98,207.44 L98.2,207.34 L98.42,206.93 L98.64,206.51 L98.86,207.9 L99.08,207.38 L99.3,204.62 L99.52,208.57 L99.74,207.05 L99.96,206.92 L100.18,206.15 L100.4,206.36 L100.62,203.52 L100.84,206.52 L101.06,207.51 L101.28,207.43 L101.5,205.65 L101.72,203.41 L101.94,205.06 L102.16,206.21 L102.38,208.41 L102.6,204.69 L102.82,206.88 L103.04,207.62 L103.26,207.62 L103.48,206.6 L103.7,202.96 L103.92,207.29 L104.14,206.57 L104.36,207.04 L104.58,205.04 L104.8,205.59 L105.02,208.15 L105.24,206.11 L105.46,206.39 L105.68,205.68 L105.9,208.46 L106.12,204.72 L106.34,206.2 L106.56,207.45 L106.78,206.81 L107,207.95 L107.22,207.18 L107.44,208.29 L107.66,205.91 L107.88,205.96 L108.1,206.54 L108.32,203.92 L108.54,208.21 L108.76,205.24 L108.98,208.03 L109.2,208.52 L109.42,208.01 L109.64,206.97 L109.86,205.91 L110.08,203.99 L110.3,207.58 L110.52,206.56 L110.74,209.15 L110.96,206.51 L111.18,207.72 L111.4,206.32 L111.62,207.32 L111.84,206.15 L112.06,206.26 L112.28,203.93 L112.5,205.46 L112.72,206.23 L112.94,208.11 L113.16,206.73 L113.38,204.68 L113.6,208.34 L113.82,206.7 L114.04,207.68 L114.26,204.93 L114.48,201.65 L114.7,204.81 L114.92,204.39 L115.14,206.14 L115.36,203.86 L115.58,204.81 L115.8,204.21 L116.02,206.21 L116.24,204.88 L116.46,208.07 L116.68,207.45 L116.9,207.6 L117.12,206.14 L117.34,206.53 L117.56,207.08 L117.78,204.55 L118,207.1 L118.22,205.23 L118.44,206.98 L118.66,208.38 L118.88,207.68 L119.1,204.44 L119.32,207.67 L119.54,205.72 L119.76,205.53 L119.98,205.68 L120.2,204.38 L120.42,206.29 L120.64,205.16 L120.86,207.76 L121.08,206.9 L121.3,203.18 L121.52,205.34 L121.74,205.21 L121.96,205.56 L122.18,205.54 L122.4,206.65 L122.62,206.1 L122.84,204.79 L123.06,206.75 L123.28,207.4 L123.5,206.31 L123.72,207.93 L123.94,206.9 L124.16,205.44 L124.38,205.46 L124.6,205.85 L124.82,206.51 L125.04,206.05 L125.26,207.15 L125.48,207.43 L125.7,204.69 L125.92,204.66 L126.14,206.2 L126.36,207 L126.58,207.56 L126.8,207.11 L127.02,206.94 L127.24,204.8 L127.46,206.49 L127.68,205.19 L127.9,206.62 L128.12,207.24 L128.34,205.09 L128.56,205.58 L128.78,209.1 L129,204.93 L129.22,205.33 L129.44,204.62 L129.66,204.24 L129.88,207.51 L130.1,205.38 L130.32,205.49 L130.54,205.24 L130.76,202.56 L130.98,207.22 L131.2,205.54 L131.42,206.25 L131.64,208.15 L131.86,206.14 L132.08,206.43 L132.3,206.39 L132.52,207.73 L132.74,204.21 L132.96,205.22 L133.18,203.15 L133.4,206.08 L133.62,206.9 L133.84,205.48 L134.06,208.65 L134.28,207.32 L134.5,208.61 L134.72,206.22 L134.94,208.29 L135.16,205.14 L135.38,206.29 L135.6,205.87 L135.82,205.1 L136.04,207.8 L136.26,207.39 L136.48,204.85 L136.7,206.79 L136.92,206.11 L137.14,206.19 L137.36,206.68 L137.58,205.14 L137.8,206.02 L138.02,206.22 L138.24,205.14 L138.46,205.37 L138.68,207.23 L138.9,206.13 L139.12,209.11 L139.34,208.73 L139.56,204.93 L139.78,206.3 L140,203.24 L140.22,204.99 L140.44,204.61 L140.66,204.69 L140.88,202.8 L141.1,205.89 L141.32,205.7 L141.54,204.5 L141.76,205.6 L141.98,207.12 L142.2,208.23 L142.42,204.58 L142.64,208.57 L142.86,204.3 L143.08,205.44 L143.3,205.89 L143.52,208.26 L143.74,206.86 L143.96,206.74 L144.18,207.99 L144.4,206.21 L144.62,205.25 L144.84,207.64 L145.06,205.33 L145.28,203.94 L145.5,203.4 L145.72,205.97 L145.94,208.27 L146.16,206.78 L146.38,205.83 L146.6,207.39 L146.82,203.91 L147.04,206.52 L147.26,205.29 L147.48,207.82 L147.7,204.91 L147.92,207.04 L148.14,206.21 L148.36,205.94 L148.58,206.83 L148.8,205.72 L149.02,207.67 L149.24,205.33 L149.46,202.56 L149.68,207.2 L149.9,207.01 L150.12,205.96 L150.34,207.23 L150.56,206.47 L150.78,204.64 L151,203.18 L151.22,204.61 L151.44,205.68 L151.66,206.79 L151.88,204.25 L152.1,204.91 L152.32,208.04 L152.54,205.07 L152.76,204.95 L152.98,204.58 L153.2,208.2 L153.42,207.49 L153.64,208.14 L153.86,209.69 L154.08,209.29 L154.3,210.15 L154.52,209.11 L154.74,209.95 L154.96,209.82 L155.18,210.16 L155.4,207.99 L155.62,209.37 L155.84,209.16 L156.06,208.78 L156.28,209.59 L156.5,212.05 L156.72,210.95 L156.94,209.86 L157.16,210.18 L157.38,211.54 L157.6,208.05 L157.82,210.08 L158.04,211.68 L158.26,211.81 L158.48,210.62 L158.7,210.22 L158.92,207.23 L159.14,208.78 L159.36,209.77 L159.58,210.44 L159.8,210.6 L160.02,207.14 L160.24,209.44 L160.46,210.48 L160.68,209.1 L160.9,209.83 L161.12,210.83 L161.34,210.58 L161.56,210.36 L161.78,211 L162,211.43 L162.22,209.55 L162.44,208.56 L162.66,208.98 L162.88,209.11 L163.1,209.51 L163.32,207.49 L163.54,208.45 L163.76,209.17 L163.98,211.32 L164.2,210.27 L164.42,209.45 L164.64,210.9 L164.86,210.11 L165.08,210.3 L165.3,211.47 L165.52,210.53 L165.74,210.24 L165.96,210.84 L166.18,209 L166.4,209.62 L166.62,206.74 L166.84,208.93 L167.06,211.51 L167.28,209.06 L167.5,209.53 L167.72,208.97 L167.94,208.17 L168.16,210.19 L168.38,209.63 L168.6,211.26 L168.82,208.88 L169.04,210.27 L169.26,209.85 L169.48,209.47 L169.7,211.49 L169.92,208.97 L170.14,208.95 L170.36,213.25 L170.58,209.98 L170.8,209.88 L171.02,210.78 L171.24,208.89 L171.46,210.7 L171.68,208.8 L171.9,209.81 L172.12,209.76 L172.34,212.3 L172.56,211.35 L172.78,212.89 L173,212.62 L173.22,209.49 L173.44,211.01 L173.66,209.68 L173.88,209.33 L174.1,211.61 L174.32,211.83 L174.54,210.04 L174.76,210.23 L174.98,210.14 L175.2,210.22 L175.42,210.38 L175.64,208.77 L175.86,211.06 L176.08,209.52 L176.3,208.99 L176.52,210.48 L176.74,211.07 L176.96,211.77 L177.18,211.03 L177.4,210.82 L177.62,209.6 L177.84,211.11 L178.06,210.95 L178.28,211.03 L178.5,209.57 L178.72,212.63 L178.94,211.3 L179.16,211.13 L179.38,210.34 L179.6,209.85 L179.82,211.47 L180.04,208.59 L180.26,209.77 L180.48,210.02 L180.7,211.14 L180.92,209.93 L181.14,212.09 L181.36,207.85 L181.58,212.08 L181.8,210.36 L182.02,211.13 L182.24,209.3 L182.46,211.45 L182.68,209.84 L182.9,210.7 L183.12,208.46 L183.34,211.09 L183.56,210.55 L183.78,208.01 L184,210.45 L184.22,210.29 L184.44,211.88 L184.66,210 L184.88,211.13 L185.1,212.45 L185.32,209.45 L185.54,212.86 L185.76,210.64 L185.98,210.06 L186.2,208.7 L186.42,208.28 L186.64,211.88 L186.86,209.98 L187.08,209.69 L187.3,211.83 L187.52,211.33 L187.74,210.65 L187.96,208.62 L188.18,208.05 L188.4,211.94 L188.62,210.8 L188.84,210.68 L189.06,213.63 L189.28,210.61 L189.5,211.63 L189.72,213.95 L189.94,211.9 L190.16,210.3 L190.38,209.84 L190.6,212.45 L190.82,209.14 L191.04,211.65 L191.26,212.38 L191.48,209.81 L191.7,210.74 L191.92,209.6 L192.14,211.38 L192.36,210.07 L192.58,209.07 L192.8,210.73 L193.02,210.7 L193.24,209.86 L193.46,210.43 L193.68,209.2 L193.9,209.72 L194.12,211.69 L194.34,208.4 L194.56,211.04 L194.78,210.55 L195,209.69 L195.22,212.3 L195.44,211.37 L195.66,209.65 L195.88,210.61 L196.1,211.46 L196.32,208.2 L196.54,210.64 L196.76,210.24 L196.98,211.32 L197.2,213.78 L197.42,210.35 L197.64,210.85 L197.86,209.75 L198.08,211.58 L198.3,212.04 L198.52,207.9 L198.74,212.85 L198.96,212.79 L199.18,207 L199.4,208.38 L199.62,210.95 L199.84,210.48 L200.06,211.96 L200.28,210.11 L200.5,212.23 L200.72,208.83 L200.94,211.32 L201.16,210.46 L201.38,210.67 L201.6,209.15 L201.82,210.99 L202.04,213.27 L202.26,210.52 L202.48,210.96 L202.7,211.38 L202.92,209.95 L203.14,211.64 L203.36,212.15 L203.58,211.25 L203.8,209.3 L204.02,213.87 L204.24,212.03 L204.46,211.94 L204.68,211.58 L204.9,210.91 L205.12,209.33 L205.34,211.32 L205.56,211.47 L205.78,212.43 L206,213.1 L206.22,209.88 L206.44,212.9 L206.66,210.96 L206.88,211.67 L207.1,209.56" fill="none" stroke="#7c7c7c" stroke-width="0.55" stroke-linejoin="round" stroke-linecap="round"/>
<path d="M27.9,232.81 L28.2,233.26 L28.5,232.82 L28.8,232.18 L29.1,232.68 L29.4,232.02 L29.7,233.68 L30,231.83 L30.3,232.82 L30.6,233.25 L30.9,232.59 L31.2,232.87 L31.5,233.58 L31.8,232.41 L32.1,233.42 L32.4,232.78 L32.7,232.64 L33,233.71 L33.3,232.96 L33.6,232.57 L33.9,232 L34.2,231.98 L34.5,231.6 L34.8,232.49 L35.1,231.66 L35.4,231.29 L35.7,231.58 L36,232.25 L36.3,231.71 L36.6,232.07 L36.9,231.78 L37.2,231.54 L37.5,233.91 L37.8,232.7 L38.1,233.72 L38.4,233.13 L38.7,233 L39,232.32 L39.3,232.86 L39.6,232.96 L39.9,232.39 L40.2,233.1 L40.5,233.22 L40.8,232.66 L41.1,232.34 L41.4,231.19 L41.7,233.28 L42,232.11 L42.3,231 L42.6,230.89 L42.9,231.01 L43.2,230.72 L43.5,231.09 L43.8,230.44 L44.1,230.7 L44.4,230.13 L44.7,229.91 L45,229.12 L45.3,229.52 L45.6,229.32 L45.9,228.62 L46.2,228.12 L46.5,228.96 L46.8,228.03 L47.1,228.58 L47.4,229.31 L47.7,229.79 L48,229.1 L48.3,229.49 L48.6,230.06 L48.9,228.97 L49.2,229.38 L49.5,229.82 L49.8,230.42 L50.1,229.22 L50.4,229.26 L50.7,230.42 L51,230.59 L51.3,229.72 L51.6,230.1 L51.9,230.57 L52.2,229.92 L52.5,228.99 L52.8,229.99 L53.1,230.34 L53.4,229.24 L53.7,230.59 L54,229.84 L54.3,229.17 L54.6,230.24 L54.9,229.39 L55.2,230.83 L55.5,230.3 L55.8,230.81 L56.1,228.89 L56.4,229.62 L56.7,230.14 L57,229.92 L57.3,229.57 L57.6,229.39 L57.9,229.47 L58.2,229.56 L58.5,229.82 L58.8,227.84 L59.1,228.03 L59.4,228.1 L59.7,228.42 L60,228.5 L60.3,228.17 L60.6,228.33 L60.9,228.66 L61.2,228.74 L61.5,227.55 L61.8,227.62 L62.1,227.38 L62.4,227.81 L62.7,225.42 L63,225.11 L63.3,224.15 L63.6,223.67 L63.9,224.39 L64.2,223.88 L64.5,223.66 L64.8,223.97 L65.1,224.14 L65.4,223.83 L65.7,224 L66,225.08 L66.3,224.32 L66.6,225.18 L66.9,224.69 L67.2,224.35 L67.5,224.12 L67.8,223.68 L68.1,224.66 L68.4,224.38 L68.7,223.58 L69,223.01 L69.3,223.1 L69.6,223.31 L69.9,223.78 L70.2,222.75 L70.5,222.18 L70.8,223.1 L71.1,222.75 L71.4,222.45 L71.7,221.86 L72,223.02 L72.3,223.43 L72.6,222.17 L72.9,221.9 L73.2,222.32 L73.5,222.38 L73.8,222.73 L74.1,222.46 L74.4,221.53 L74.7,222.54 L75,222.58 L75.3,222.2 L75.6,222.65 L75.9,221.82 L76.2,222.34 L76.5,221.83 L76.8,222.53 L77.1,222.97 L77.4,221.68 L77.7,222.8 L78,223.25 L78.3,223.04 L78.6,223.7 L78.9,222.76 L79.2,223.76 L79.5,222.61 L79.8,221.87 L80.1,222.36 L80.4,222.02 L80.7,222.92 L81,223.08 L81.3,223.06 L81.6,222.51 L81.9,221.94 L82.2,221.59 L82.5,221.15 L82.8,221.89 L83.1,220.72 L83.4,221.02 L83.7,221.09 L84,221.05 L84.3,220.01 L84.6,220 L84.9,219.96 L85.2,220.9 L85.5,219.78 L85.8,219.76 L86.1,220.38 L86.4,220.29 L86.7,220.55 L87,219.43 L87.3,219.8 L87.6,218.34 L87.9,219.48 L88.2,219.5 L88.5,219.43 L88.8,218.54 L89.1,219.31 L89.4,219.18 L89.7,218.11 L90,218.08 L90.3,217.93 L90.6,217.98 L90.9,218.18 L91.2,217.64 L91.5,217.77 L91.8,218.58 L92.1,218.77 L92.4,219.86 L92.7,219.58 L93,219.45 L93.3,219.19 L93.6,219.99 L93.9,219.63 L94.2,219.23 L94.5,221.05 L94.8,219.05 L95.1,220.81 L95.4,221.49 L95.7,219.99 L96,219.66 L96.3,220.04 L96.6,219.07 L96.9,219.46 L97.2,219.58 L97.5,218.4 L97.8,219.67 L98.1,218.82 L98.4,218.84 L98.7,219.29 L99,217.84 L99.3,217.84 L99.6,218.53 L99.9,218.47 L100.2,218.06 L100.5,218.04 L100.8,217.91 L101.1,217.51 L101.4,217.31 L101.7,217.56 L102,217.93 L102.3,217.96 L102.6,216.92 L102.9,218.18 L103.2,218.21 L103.5,216.86 L103.8,216.11 L104.1,216.24 L104.4,216.6 L104.7,216.06 L105,216.99 L105.3,215.8 L105.6,216.29 L105.9,215.94 L106.2,216.71 L106.5,215.64 L106.8,215.54 L107.1,214.77 L107.4,215.03 L107.7,214.5 L108,216.84 L108.3,215.3 L108.6,215.24 L108.9,215.42 L109.2,215.64 L109.5,215.73 L109.8,214.53 L110.1,216.01 L110.4,215.3 L110.7,215.17 L111,216.15 L111.3,215.39 L111.6,214.86 L111.9,214.82 L112.2,215.66 L112.5,215.32 L112.8,215.42 L113.1,214.79 L113.4,215.65 L113.7,215.36 L114,215.44 L114.3,216.65 L114.6,216.32 L114.9,216.23 L115.2,217.1 L115.5,217.78 L115.8,216.29 L116.1,217.76 L116.4,217.63 L116.7,217.66 L117,218.6 L117.3,218.48 L117.6,217.98 L117.9,218.98 L118.2,218.33 L118.5,218.48 L118.8,217.84 L119.1,218.53 L119.4,218.82 L119.7,218.38 L120,218.63 L120.3,219.37 L120.6,218.78 L120.9,218.66 L121.2,219.96 L121.5,218.84 L121.8,218.1 L122.1,218.79 L122.4,219.46 L122.7,219.13 L123,219.31 L123.3,219.76 L123.6,220.01 L123.9,220.06 L124.2,220.26 L124.5,220.9 L124.8,222.1 L125.1,221.13 L125.4,220.98 L125.7,220.4 L126,220.91 L126.3,220.46 L126.6,221.14 L126.9,220.78 L127.2,222.08 L127.5,222.81 L127.8,222.45 L128.1,223.53 L128.4,221.8 L128.7,222.98 L129,222.62 L129.3,222.89 L129.6,222.38 L129.9,223.14 L130.2,223.41 L130.5,223.44 L130.8,224.73 L131.1,224.9 L131.4,225.46 L131.7,224.89 L132,225.09 L132.3,225.08 L132.6,226.34 L132.9,226.65 L133.2,226.37 L133.5,226.21 L133.8,226.79 L134.1,227.13 L134.4,227.28 L134.7,227.03 L135,227.9 L135.3,228.18 L135.6,227.27 L135.9,228.1 L136.2,228.23 L136.5,227.82 L136.8,228.53 L137.1,229.35 L137.4,230.25 L137.7,229.71 L138,230.25 L138.3,230.66 L138.6,230.81 L138.9,230.52 L139.2,231.86 L139.5,231.51 L139.8,232.03 L140.1,232.31 L140.4,231.91 L140.7,231.8 L141,232.13 L141.3,232.45 L141.6,232.58 L141.9,233.2 L142.2,233.05 L142.5,234.01 L142.8,234.42 L143.1,235.31 L143.4,235.83 L143.7,236.77 L144,236.56 L144.3,236.32 L144.6,235.95 L144.9,235.94 L145.2,236.06 L145.5,235.75 L145.8,235.91 L146.1,235.52 L146.4,236.22 L146.7,235.67 L147,235.99 L147.3,236.05 L147.6,237.7 L147.9,236.57 L148.2,237.11 L148.5,236.12 L148.8,237.18 L149.1,236.9 L149.4,237.65 L149.7,237.12 L150,236.87 L150.3,237.98 L150.6,237.81 L150.9,237.38 L151.2,238.27 L151.5,238.14 L151.8,239.24 L152.1,239.14 L152.4,239.39 L152.7,238.9 L153,239.86 L153.3,239.22 L153.6,239.59 L153.9,239.49 L154.2,239.58 L154.5,239.34 L154.8,239.6 L155.1,239.66 L155.4,239.55 L155.7,239.71 L156,239.68 L156.3,239.73 L156.6,239.77 L156.9,239.85 L157.2,239.84 L157.5,239.88 L157.8,239.93 L158.1,239.96 L158.4,240.02 L158.7,240.02 L159,240.05 L159.3,240.09 L159.6,240.12 L159.9,240.2 L160.2,240.2 L160.5,240.18 L160.8,240.18 L161.1,240.13 L161.4,240.21 L161.7,240.2 L162,240.14 L162.3,240.18 L162.6,240.19 L162.9,240.24 L163.2,240.21 L163.5,240.24 L163.8,240.26 L164.1,240.25 L164.4,240.22 L164.7,240.22 L165,240.25 L165.3,240.28 L165.6,240.28 L165.9,240.23 L166.2,240.28 L166.5,240.24 L166.8,240.25 L167.1,240.29 L167.4,240.26 L167.7,240.24 L168,240.23 L168.3,240.25 L168.6,240.26 L168.9,240.25 L169.2,240.23 L169.5,240.27 L169.8,240.28 L170.1,240.24 L170.4,240.28 L170.7,240.25 L171,240.26 L171.3,240.29 L171.6,240.22 L171.9,240.24 L172.2,240.28 L172.5,240.27 L172.8,240.22 L173.1,240.21 L173.4,240.27 L173.7,240.24 L174,240.25 L174.3,240.21 L174.6,240.25 L174.9,240.21 L175.2,240.25 L175.5,240.31 L175.8,240.3 L176.1,240.32 L176.4,240.29 L176.7,240.31 L177,240.31 L177.3,240.38 L177.6,240.32 L177.9,240.31 L178.2,240.33 L178.5,240.37 L178.8,240.33 L179.1,240.35 L179.4,240.31 L179.7,240.34 L180,240.32 L180.3,240.33 L180.6,240.35 L180.9,240.37 L181.2,240.4 L181.5,240.37 L181.8,240.32 L182.1,240.31 L182.4,240.3 L182.7,240.33 L183,240.3 L183.3,240.32 L183.6,240.3 L183.9,240.37 L184.2,240.33 L184.5,240.37 L184.8,240.35 L185.1,240.42 L185.4,240.34 L185.7,240.39 L186,240.41 L186.3,240.38 L186.6,240.4 L186.9,240.38 L187.2,240.41 L187.5,240.39 L187.8,240.44 L188.1,240.36 L188.4,240.42 L188.7,240.39 L189,240.4 L189.3,240.43 L189.6,240.4 L189.9,240.39 L190.2,240.42 L190.5,240.38 L190.8,240.4 L191.1,240.43 L191.4,240.38 L191.7,240.43 L192,240.38 L192.3,240.41 L192.6,240.41 L192.9,240.38 L193.2,240.44 L193.5,240.38 L193.8,240.46 L194.1,240.46 L194.4,240.41 L194.7,240.43 L195,240.43 L195.3,240.4 L195.6,240.42 L195.9,240.44 L196.2,240.45 L196.5,240.48 L196.8,240.44 L197.1,240.43 L197.4,240.46 L197.7,240.46 L198,240.43 L198.3,240.43 L198.6,240.41 L198.9,240.42 L199.2,240.38 L199.5,240.4 L199.8,240.47 L200.1,240.45 L200.4,240.44 L200.7,240.49 L201,240.53 L201.3,240.5 L201.6,240.49 L201.9,240.47 L202.2,240.51 L202.5,240.5 L202.8,240.46 L203.1,240.44 L203.4,240.46 L203.7,240.47 L204,240.45 L204.3,240.45 L204.6,240.45 L204.9,240.43 L205.2,240.47 L205.5,240.49 L205.8,240.45 L206.1,240.47 L206.4,240.52 L206.7,240.48 L207,240.51" fill="none" stroke="#7a7a7a" stroke-width="1.2" stroke-linejoin="round" stroke-linecap="round"/>
<path d="M27.9,267.96 L28.2,268.19 L28.5,268.77 L28.8,267.97 L29.1,267.81 L29.4,268.03 L29.7,268.08 L30,267.88 L30.3,267.93 L30.6,268.31 L30.9,267.77 L31.2,268.48 L31.5,268.06 L31.8,268.63 L32.1,268.82 L32.4,268.53 L32.7,268.38 L33,268.15 L33.3,268 L33.6,268.53 L33.9,267.67 L34.2,268.03 L34.5,267.75 L34.8,268.02 L35.1,267.43 L35.4,267.87 L35.7,267.34 L36,267.94 L36.3,267.16 L36.6,267.1 L36.9,266.85 L37.2,267.39 L37.5,266.73 L37.8,266.94 L38.1,266.3 L38.4,265.83 L38.7,266.56 L39,266.51 L39.3,266.14 L39.6,266.72 L39.9,266.09 L40.2,267.12 L40.5,267 L40.8,267.31 L41.1,267.21 L41.4,267.31 L41.7,267.11 L42,266.91 L42.3,266.9 L42.6,266.9 L42.9,267.06 L43.2,266.87 L43.5,266.65 L43.8,266.79 L44.1,266.68 L44.4,267.18 L44.7,266.01 L45,266.15 L45.3,265.47 L45.6,265.74 L45.9,265.25 L46.2,265.37 L46.5,265.2 L46.8,265.71 L47.1,265.95 L47.4,265.94 L47.7,266.16 L48,266.13 L48.3,265.16 L48.6,265.74 L48.9,266.09 L49.2,265.8 L49.5,265.42 L49.8,265.23 L50.1,265.63 L50.4,266.41 L50.7,265.78 L51,266.58 L51.3,266.21 L51.6,266.94 L51.9,267.12 L52.2,266.97 L52.5,267.26 L52.8,267.42 L53.1,267.82 L53.4,267.11 L53.7,267.4 L54,267.04 L54.3,267.58 L54.6,266.56 L54.9,266.95 L55.2,266.84 L55.5,267.19 L55.8,267.08 L56.1,266.36 L56.4,267.44 L56.7,266.92 L57,267.3 L57.3,266.5 L57.6,267.66 L57.9,267.17 L58.2,267.06 L58.5,266.77 L58.8,267.15 L59.1,265.88 L59.4,266.7 L59.7,266.56 L60,266.93 L60.3,267.58 L60.6,267 L60.9,267.35 L61.2,267.09 L61.5,267.67 L61.8,267.3 L62.1,267.51 L62.4,267.58 L62.7,266.32 L63,266.53 L63.3,267.13 L63.6,267.66 L63.9,267.68 L64.2,268.36 L64.5,268.32 L64.8,268 L65.1,268.41 L65.4,268.04 L65.7,267.81 L66,267.93 L66.3,267.7 L66.6,267.84 L66.9,267.08 L67.2,267.01 L67.5,267.73 L67.8,267.48 L68.1,267.52 L68.4,267.48 L68.7,267.06 L69,267.15 L69.3,267.6 L69.6,267.48 L69.9,267.24 L70.2,267.35 L70.5,267.32 L70.8,266.63 L71.1,266.77 L71.4,266.89 L71.7,266.66 L72,266.79 L72.3,266.67 L72.6,267.48 L72.9,267.39 L73.2,267.37 L73.5,267.16 L73.8,267.65 L74.1,266.78 L74.4,267.36 L74.7,267.34 L75,266.79 L75.3,266.32 L75.6,266.14 L75.9,266.57 L76.2,266.18 L76.5,266.38 L76.8,265.89 L77.1,265.69 L77.4,266.83 L77.7,265.63 L78,266.05 L78.3,266.07 L78.6,265.67 L78.9,265.73 L79.2,265.79 L79.5,266.29 L79.8,265.88 L80.1,266.21 L80.4,266.71 L80.7,266.01 L81,265.97 L81.3,266.31 L81.6,266.07 L81.9,266.24 L82.2,266.02 L82.5,265.62 L82.8,265.75 L83.1,265.44 L83.4,266.29 L83.7,265.94 L84,265.64 L84.3,266.55 L84.6,265.93 L84.9,266.21 L85.2,265.73 L85.5,265.66 L85.8,266.5 L86.1,265.87 L86.4,265.66 L86.7,265.7 L87,266.15 L87.3,265.72 L87.6,265.51 L87.9,264.91 L88.2,265.31 L88.5,265.48 L88.8,265.15 L89.1,265.03 L89.4,265.81 L89.7,265.34 L90,264.99 L90.3,265.29 L90.6,264.81 L90.9,265.24 L91.2,265.45 L91.5,264.81 L91.8,265.12 L92.1,264.42 L92.4,263.97 L92.7,264.12 L93,264.04 L93.3,264.3 L93.6,264.08 L93.9,263.88 L94.2,263.96 L94.5,264.04 L94.8,264.15 L95.1,263.67 L95.4,263.83 L95.7,264.11 L96,264 L96.3,264.74 L96.6,264.48 L96.9,264.13 L97.2,264.13 L97.5,264.6 L97.8,264.02 L98.1,263.82 L98.4,264.3 L98.7,264.45 L99,263.66 L99.3,264.24 L99.6,264.73 L99.9,264.9 L100.2,264.61 L100.5,264.54 L100.8,264 L101.1,264.53 L101.4,264.04 L101.7,263.9 L102,263.98 L102.3,263.31 L102.6,263.17 L102.9,263.62 L103.2,263 L103.5,261.99 L103.8,261.93 L104.1,261.49 L104.4,261.69 L104.7,261.18 L105,261.54 L105.3,261.83 L105.6,262.33 L105.9,262.65 L106.2,263.09 L106.5,263.33 L106.8,263.26 L107.1,263.81 L107.4,263.48 L107.7,263.13 L108,262.9 L108.3,263.33 L108.6,263.68 L108.9,263.57 L109.2,263.26 L109.5,263.61 L109.8,263.51 L110.1,263.77 L110.4,264.14 L110.7,263.96 L111,263.87 L111.3,263.66 L111.6,263.59 L111.9,263.63 L112.2,262.89 L112.5,263.21 L112.8,262.65 L113.1,263.47 L113.4,262.78 L113.7,263.32 L114,262.56 L114.3,263.52 L114.6,263.27 L114.9,263.16 L115.2,263.06 L115.5,263.13 L115.8,263.18 L116.1,263.61 L116.4,263.56 L116.7,263.68 L117,263.22 L117.3,263.17 L117.6,262.58 L117.9,262.25 L118.2,262.61 L118.5,262.13 L118.8,262.17 L119.1,261.94 L119.4,261.83 L119.7,261.94 L120,261.47 L120.3,262.13 L120.6,262.45 L120.9,262.47 L121.2,262.63 L121.5,261.92 L121.8,262.72 L122.1,262.61 L122.4,262.45 L122.7,261.88 L123,261.71 L123.3,262.26 L123.6,262.12 L123.9,262.14 L124.2,262.17 L124.5,261.47 L124.8,261.89 L125.1,261.4 L125.4,261.36 L125.7,260.86 L126,259.3 L126.3,256.39 L126.6,257.82 L126.9,260.01 L127.2,261.28 L127.5,262.22 L127.8,261.79 L128.1,261.23 L128.4,261.49 L128.7,261.36 L129,261.1 L129.3,260.51 L129.6,259.81 L129.9,260.26 L130.2,259.27 L130.5,258.7 L130.8,259.67 L131.1,259.21 L131.4,258.27 L131.7,258.3 L132,258.21 L132.3,258.31 L132.6,258.73 L132.9,258.01 L133.2,256.1 L133.5,252.61 L133.8,253.55 L134.1,256.86 L134.4,258.9 L134.7,259.29 L135,258.94 L135.3,258.55 L135.6,258.78 L135.9,259.03 L136.2,258.97 L136.5,258.82 L136.8,258.47 L137.1,258.59 L137.4,255.98 L137.7,254.17 L138,255.33 L138.3,257.49 L138.6,259.43 L138.9,259.06 L139.2,259.07 L139.5,258.82 L139.8,258.54 L140.1,258.89 L140.4,258.59 L140.7,258.77 L141,258.79 L141.3,259.5 L141.6,258.95 L141.9,260.03 L142.2,260.25 L142.5,259.72 L142.8,259.96 L143.1,260.18 L143.4,259.41 L143.7,259.97 L144,258.78 L144.3,259.07 L144.6,258.62 L144.9,258.08 L145.2,257.95 L145.5,258.09 L145.8,258 L146.1,258.14 L146.4,258.24 L146.7,258.63 L147,258.45 L147.3,258.17 L147.6,257.73 L147.9,257.58 L148.2,257.95 L148.5,257.35 L148.8,256.92 L149.1,256.15 L149.4,255.39 L149.7,254.92 L150,254.04 L150.3,252.54 L150.6,253.2 L150.9,253.16 L151.2,253.67 L151.5,253.3 L151.8,253.32 L152.1,253.15 L152.4,252.61 L152.7,250.71 L153,250.43 L153.3,249.09 L153.6,249.19 L153.9,248.55 L154.2,249.61 L154.5,251.1 L154.8,252.47 L155.1,252.41 L155.4,252.71 L155.7,252.37 L156,252.14 L156.3,250.87 L156.6,249.53 L156.9,249.58 L157.2,250.32 L157.5,250.43 L157.8,250.31 L158.1,249.73 L158.4,249.48 L158.7,248.82 L159,248.32 L159.3,247.74 L159.6,248.28 L159.9,249.06 L160.2,251.36 L160.5,252.38 L160.8,252.31 L161.1,253.04 L161.4,253.14 L161.7,253.16 L162,253.64 L162.3,253.54 L162.6,253.93 L162.9,253.36 L163.2,252.64 L163.5,253.17 L163.8,252.21 L164.1,252.42 L164.4,251.62 L164.7,252.38 L165,251.88 L165.3,251.5 L165.6,249.13 L165.9,244.98 L166.2,242.47 L166.5,244.81 L166.8,247.86 L167.1,250.55 L167.4,251.99 L167.7,251.57 L168,252.05 L168.3,252.96 L168.6,252.44 L168.9,251.91 L169.2,254.01 L169.5,254.83 L169.8,255.78 L170.1,255.74 L170.4,255.74 L170.7,255.69 L171,255.49 L171.3,256.09 L171.6,256.13 L171.9,256.71 L172.2,256.44 L172.5,256.4 L172.8,256.19 L173.1,255.45 L173.4,255.81 L173.7,254.65 L174,251.09 L174.3,249.94 L174.6,253.17 L174.9,255.67 L175.2,256.97 L175.5,256.46 L175.8,256.58 L176.1,257.36 L176.4,257.33 L176.7,257.24 L177,257.86 L177.3,257.02 L177.6,257.83 L177.9,257.83 L178.2,258.34 L178.5,258.61 L178.8,258.76 L179.1,258.91 L179.4,258.42 L179.7,258.36 L180,258.74 L180.3,258.43 L180.6,258.35 L180.9,258.23 L181.2,258.59 L181.5,258.31 L181.8,259.66 L182.1,260.57 L182.4,260.58 L182.7,260.8 L183,261.96 L183.3,261.82 L183.6,263.03 L183.9,263.36 L184.2,264.23 L184.5,264.36 L184.8,264.69 L185.1,265.09 L185.4,264.87 L185.7,265.52 L186,265.15 L186.3,265.36 L186.6,266.01 L186.9,265.64 L187.2,265.97 L187.5,266.03 L187.8,266.2 L188.1,267.02 L188.4,266.82 L188.7,266.37 L189,266.43 L189.3,266.46 L189.6,266.63 L189.9,266.49 L190.2,266.45 L190.5,266.05 L190.8,267.1 L191.1,266.47 L191.4,266.79 L191.7,266.83 L192,267.52 L192.3,267.51 L192.6,267.97 L192.9,268.08 L193.2,268.29 L193.5,268.61 L193.8,268.73 L194.1,268.7 L194.4,268.49 L194.7,268.28 L195,267.16 L195.3,267.57 L195.6,267.47 L195.9,267.53 L196.2,267.07 L196.5,266.95 L196.8,267.03 L197.1,267.41 L197.4,267.36 L197.7,267.89 L198,268.26 L198.3,267.69 L198.6,267.84 L198.9,267.97 L199.2,267.97 L199.5,268.79 L199.8,268.33 L200.1,269.08 L200.4,268.9 L200.7,268.75 L201,269.14 L201.3,269.14 L201.6,268.8 L201.9,268.89 L202.2,269.27 L202.5,269.03 L202.8,268.25 L203.1,269.39 L203.4,269.44 L203.7,269.52 L204,270.39 L204.3,269.07 L204.6,269.75 L204.9,269.97 L205.2,269.17 L205.5,269.97 L205.8,269.65 L206.1,269.38 L206.4,270.16 L206.7,269.83 L207,269.22" fill="none" stroke="#33b466" stroke-width="1.0" stroke-linejoin="round" stroke-linecap="round"/>
<path d="M27.9,289.83 L28.2,290.2 L28.5,290 L28.8,290.65 L29.1,290.4 L29.4,291.13 L29.7,291.98 L30,291.21 L30.3,291.32 L30.6,291.34 L30.9,291.44 L31.2,290.72 L31.5,290.65 L31.8,290.58 L32.1,290.34 L32.4,289.92 L32.7,290.55 L33,290.51 L33.3,290.77 L33.6,290.48 L33.9,290.21 L34.2,290.28 L34.5,290.53 L34.8,290.32 L35.1,290.69 L35.4,291.09 L35.7,290.96 L36,290.92 L36.3,290.85 L36.6,291.54 L36.9,291.22 L37.2,291.48 L37.5,292.35 L37.8,291.21 L38.1,291.76 L38.4,291.57 L38.7,290.96 L39,290.91 L39.3,290.42 L39.6,290.07 L39.9,290.39 L40.2,289.76 L40.5,289.22 L40.8,290.32 L41.1,290.08 L41.4,289.79 L41.7,289.94 L42,290.26 L42.3,289.99 L42.6,290.21 L42.9,290.56 L43.2,290.28 L43.5,290.46 L43.8,290.43 L44.1,290.36 L44.4,290.01 L44.7,290.55 L45,289.91 L45.3,290.09 L45.6,289.54 L45.9,289.97 L46.2,290.11 L46.5,289.79 L46.8,289.86 L47.1,290.6 L47.4,290.34 L47.7,289.79 L48,290.24 L48.3,289.96 L48.6,290.22 L48.9,289.81 L49.2,290.12 L49.5,290.1 L49.8,289.8 L50.1,289.54 L50.4,290.12 L50.7,289.39 L51,289.85 L51.3,289.56 L51.6,289.66 L51.9,290.24 L52.2,289.88 L52.5,290.44 L52.8,290.84 L53.1,290.23 L53.4,290.45 L53.7,290.58 L54,290.62 L54.3,290.76 L54.6,290.56 L54.9,290.16 L55.2,289.46 L55.5,290.13 L55.8,290.13 L56.1,290.11 L56.4,290.38 L56.7,290.09 L57,290.78 L57.3,290.58 L57.6,290.12 L57.9,290.4 L58.2,290.48 L58.5,290.11 L58.8,289.87 L59.1,290.04 L59.4,289.62 L59.7,289.41 L60,289.43 L60.3,289.35 L60.6,289.32 L60.9,289.51 L61.2,290.03 L61.5,290.2 L61.8,290.15 L62.1,289.78 L62.4,290.13 L62.7,290.19 L63,290.05 L63.3,289.25 L63.6,289.65 L63.9,289.57 L64.2,289.56 L64.5,289.89 L64.8,288.52 L65.1,289.27 L65.4,289.22 L65.7,289.96 L66,289.4 L66.3,289.71 L66.6,289.19 L66.9,289.23 L67.2,289.07 L67.5,289.52 L67.8,289.15 L68.1,289.47 L68.4,289.81 L68.7,289.58 L69,289.24 L69.3,289.22 L69.6,289.38 L69.9,290.05 L70.2,289.23 L70.5,289.46 L70.8,289.58 L71.1,289.08 L71.4,289.32 L71.7,289.03 L72,289.44 L72.3,289.5 L72.6,288.93 L72.9,289.27 L73.2,288.92 L73.5,289.05 L73.8,288.93 L74.1,288.34 L74.4,287.82 L74.7,287.61 L75,288.06 L75.3,287.8 L75.6,287.59 L75.9,287.28 L76.2,287.05 L76.5,287.34 L76.8,287.41 L77.1,287.88 L77.4,287.63 L77.7,287.52 L78,288.27 L78.3,287.12 L78.6,287.79 L78.9,288.4 L79.2,288.19 L79.5,288.27 L79.8,288.57 L80.1,289.04 L80.4,288.52 L80.7,289.2 L81,288.4 L81.3,288.35 L81.6,288.37 L81.9,288.64 L82.2,288.4 L82.5,289.06 L82.8,289.36 L83.1,289.15 L83.4,289.01 L83.7,289.26 L84,289.4 L84.3,288.93 L84.6,289.14 L84.9,289.58 L85.2,288.7 L85.5,288.38 L85.8,288.08 L86.1,288.59 L86.4,287.97 L86.7,288.04 L87,288.59 L87.3,287.86 L87.6,288.12 L87.9,288.08 L88.2,287.74 L88.5,287.6 L88.8,288.48 L89.1,288.27 L89.4,287.86 L89.7,288.62 L90,287.8 L90.3,287.93 L90.6,287.72 L90.9,288.19 L91.2,288.35 L91.5,288.13 L91.8,288.13 L92.1,287.83 L92.4,287.63 L92.7,287.53 L93,287.84 L93.3,287.34 L93.6,287.24 L93.9,287.54 L94.2,287.38 L94.5,287.2 L94.8,287.31 L95.1,286.91 L95.4,286.94 L95.7,287.52 L96,286.21 L96.3,281.77 L96.6,278.79 L96.9,281.55 L97.2,285.73 L97.5,286.87 L97.8,286.47 L98.1,286.37 L98.4,286.72 L98.7,286.36 L99,286.59 L99.3,287.28 L99.6,286.88 L99.9,286.82 L100.2,287.26 L100.5,287.26 L100.8,287.19 L101.1,287.04 L101.4,287.76 L101.7,287.57 L102,287.36 L102.3,287.07 L102.6,287.37 L102.9,287.04 L103.2,286.88 L103.5,287.18 L103.8,286.81 L104.1,287.14 L104.4,287.22 L104.7,286.78 L105,286.87 L105.3,286.85 L105.6,286.75 L105.9,286.92 L106.2,286.53 L106.5,286.38 L106.8,286.07 L107.1,286.31 L107.4,286.23 L107.7,286.14 L108,285.63 L108.3,285.4 L108.6,284.91 L108.9,285.24 L109.2,285.23 L109.5,284.95 L109.8,284.63 L110.1,284.9 L110.4,284.2 L110.7,283.78 L111,283.92 L111.3,284.19 L111.6,284.13 L111.9,284.89 L112.2,284.23 L112.5,284.44 L112.8,283.99 L113.1,283.79 L113.4,284.23 L113.7,284.08 L114,283.16 L114.3,283.69 L114.6,283.61 L114.9,283.83 L115.2,283.32 L115.5,283.14 L115.8,283.27 L116.1,283.61 L116.4,283.19 L116.7,283.81 L117,283.79 L117.3,283.74 L117.6,283.63 L117.9,283.99 L118.2,284.36 L118.5,284.23 L118.8,284.35 L119.1,283.4 L119.4,283.91 L119.7,283.44 L120,283.74 L120.3,283.39 L120.6,283.85 L120.9,283.11 L121.2,283.41 L121.5,282.57 L121.8,284.06 L122.1,283.16 L122.4,283.21 L122.7,283.57 L123,283.81 L123.3,283.14 L123.6,284.06 L123.9,283.76 L124.2,284.7 L124.5,284.63 L124.8,284.99 L125.1,285.02 L125.4,284.81 L125.7,284.69 L126,284.94 L126.3,284.83 L126.6,284.86 L126.9,284.61 L127.2,284.39 L127.5,284.48 L127.8,284.37 L128.1,284.41 L128.4,284.63 L128.7,284.67 L129,284.5 L129.3,284.29 L129.6,284.53 L129.9,283.96 L130.2,284.49 L130.5,284.33 L130.8,283.76 L131.1,283.68 L131.4,283.87 L131.7,283.63 L132,283.13 L132.3,283.2 L132.6,282.27 L132.9,283.26 L133.2,283.18 L133.5,281.46 L133.8,280.18 L134.1,281.73 L134.4,282.99 L134.7,282.69 L135,283.1 L135.3,282.79 L135.6,282.52 L135.9,282.36 L136.2,281.25 L136.5,279.25 L136.8,278.9 L137.1,280.06 L137.4,280.4 L137.7,280.37 L138,281.01 L138.3,280.72 L138.6,279.88 L138.9,280.14 L139.2,279.3 L139.5,279.94 L139.8,280.05 L140.1,279.79 L140.4,279.78 L140.7,278.38 L141,273.03 L141.3,265.94 L141.6,267.41 L141.9,275.88 L142.2,279.17 L142.5,280.68 L142.8,279.94 L143.1,279.88 L143.4,280.01 L143.7,279.86 L144,280.16 L144.3,280.59 L144.6,280.1 L144.9,280.98 L145.2,280.2 L145.5,280.18 L145.8,279.87 L146.1,279.06 L146.4,276.05 L146.7,271.08 L147,272.4 L147.3,277.77 L147.6,279.13 L147.9,278.78 L148.2,278.56 L148.5,279.75 L148.8,279.88 L149.1,279.46 L149.4,278.85 L149.7,279.14 L150,278.86 L150.3,279.41 L150.6,279.15 L150.9,279.09 L151.2,278.75 L151.5,278.78 L151.8,279.18 L152.1,278.51 L152.4,275.61 L152.7,271.07 L153,272.18 L153.3,276.97 L153.6,278.71 L153.9,279.37 L154.2,279.36 L154.5,279.85 L154.8,279.17 L155.1,279.25 L155.4,279.53 L155.7,279.91 L156,279.84 L156.3,279.98 L156.6,279.74 L156.9,279.39 L157.2,279.61 L157.5,279.76 L157.8,279.21 L158.1,279.23 L158.4,279.13 L158.7,277.55 L159,272.45 L159.3,268.21 L159.6,272.73 L159.9,277.91 L160.2,278.69 L160.5,278.89 L160.8,279.13 L161.1,278.99 L161.4,278.51 L161.7,279.55 L162,278.32 L162.3,279.05 L162.6,277.74 L162.9,273.9 L163.2,270.69 L163.5,274.15 L163.8,278.26 L164.1,279.89 L164.4,279.61 L164.7,279.55 L165,279.63 L165.3,279.42 L165.6,279.72 L165.9,278.5 L166.2,275.13 L166.5,274.57 L166.8,277.39 L167.1,279 L167.4,280.14 L167.7,279.83 L168,280.43 L168.3,280.23 L168.6,278.4 L168.9,274.01 L169.2,266.72 L169.5,269.15 L169.8,275.39 L170.1,279.76 L170.4,280.48 L170.7,280.39 L171,280.91 L171.3,281.23 L171.6,281.33 L171.9,281.42 L172.2,281.42 L172.5,281.42 L172.8,281.01 L173.1,281.32 L173.4,281.56 L173.7,282.65 L174,282.08 L174.3,281.73 L174.6,280.99 L174.9,278.81 L175.2,278.13 L175.5,280.37 L175.8,282.71 L176.1,282.52 L176.4,283.29 L176.7,283.65 L177,283.42 L177.3,284.23 L177.6,283.89 L177.9,283.93 L178.2,283.15 L178.5,283.24 L178.8,283.8 L179.1,283.71 L179.4,282.09 L179.7,282.34 L180,283.84 L180.3,284.83 L180.6,284.77 L180.9,284.85 L181.2,285.94 L181.5,285.73 L181.8,285.07 L182.1,285.82 L182.4,285.26 L182.7,285.54 L183,285.49 L183.3,285.42 L183.6,285.41 L183.9,285.35 L184.2,285.66 L184.5,285.95 L184.8,286.18 L185.1,285.05 L185.4,286.64 L185.7,286.28 L186,286.18 L186.3,286.91 L186.6,287.88 L186.9,287.78 L187.2,287.79 L187.5,287.11 L187.8,287.78 L188.1,287.73 L188.4,287.69 L188.7,287.6 L189,287.32 L189.3,287.39 L189.6,287.63 L189.9,288.06 L190.2,288.24 L190.5,288.29 L190.8,288.27 L191.1,287.99 L191.4,288.48 L191.7,288.42 L192,288.9 L192.3,289.1 L192.6,288.89 L192.9,289.07 L193.2,289.07 L193.5,289.09 L193.8,288.99 L194.1,289.29 L194.4,289.78 L194.7,289.65 L195,290.56 L195.3,290.44 L195.6,290.73 L195.9,290.77 L196.2,290.72 L196.5,290.88 L196.8,291.19 L197.1,291.14 L197.4,290.83 L197.7,290.7 L198,290.81 L198.3,290.42 L198.6,290.69 L198.9,290.39 L199.2,290.58 L199.5,291.08 L199.8,290.89 L200.1,290.52 L200.4,290.65 L200.7,290.95 L201,290.56 L201.3,290.96 L201.6,291.47 L201.9,291.18 L202.2,291.57 L202.5,291.36 L202.8,291.94 L203.1,291.63 L203.4,291.71 L203.7,292.13 L204,291.63 L204.3,291.65 L204.6,291.5 L204.9,291.55 L205.2,291.26 L205.5,291.79 L205.8,290.66 L206.1,291.1 L206.4,290.49 L206.7,290.51 L207,290.53" fill="none" stroke="#fbcc55" stroke-width="1.0" stroke-linejoin="round" stroke-linecap="round"/>
<path d="M27.9,313.24 L28.2,313.38 L28.5,313.02 L28.8,313.12 L29.1,312.68 L29.4,312.82 L29.7,312.31 L30,311.98 L30.3,312.46 L30.6,312.16 L30.9,312.53 L31.2,311.85 L31.5,312.33 L31.8,312.06 L32.1,311.58 L32.4,311.23 L32.7,311.97 L33,311.78 L33.3,311.75 L33.6,311.99 L33.9,312.08 L34.2,311.9 L34.5,312.55 L34.8,312.34 L35.1,312.29 L35.4,311.5 L35.7,312.45 L36,311.9 L36.3,312.38 L36.6,312.74 L36.9,313.7 L37.2,313.11 L37.5,312.79 L37.8,313.32 L38.1,312.77 L38.4,313.03 L38.7,312.48 L39,311.9 L39.3,311.69 L39.6,311.64 L39.9,312.06 L40.2,311.96 L40.5,312.38 L40.8,312.52 L41.1,312.6 L41.4,312.75 L41.7,312.46 L42,312.68 L42.3,312.95 L42.6,312.55 L42.9,312.42 L43.2,312.67 L43.5,311.66 L43.8,312.11 L44.1,312.07 L44.4,311.91 L44.7,311.54 L45,311.73 L45.3,311.94 L45.6,311.69 L45.9,311.35 L46.2,311.92 L46.5,311.38 L46.8,311.19 L47.1,311.85 L47.4,311.31 L47.7,311.27 L48,312.15 L48.3,311.59 L48.6,311.28 L48.9,310.64 L49.2,310.99 L49.5,311.26 L49.8,311.77 L50.1,311.17 L50.4,311.34 L50.7,311.71 L51,311.8 L51.3,311.91 L51.6,311.82 L51.9,312.4 L52.2,312.5 L52.5,312.35 L52.8,312.44 L53.1,313.07 L53.4,312.05 L53.7,312.16 L54,313.11 L54.3,312.64 L54.6,313.28 L54.9,312.37 L55.2,311.62 L55.5,312.34 L55.8,311.99 L56.1,312.99 L56.4,312.11 L56.7,312.23 L57,312.69 L57.3,312.27 L57.6,312.38 L57.9,311.68 L58.2,312.28 L58.5,312.14 L58.8,311.85 L59.1,311.62 L59.4,311.98 L59.7,311.28 L60,311.47 L60.3,311.53 L60.6,311.52 L60.9,311.86 L61.2,311.42 L61.5,311.48 L61.8,311.54 L62.1,310.72 L62.4,310.48 L62.7,310.72 L63,310.55 L63.3,311.2 L63.6,311.06 L63.9,310.6 L64.2,310.97 L64.5,310.47 L64.8,310.65 L65.1,311.54 L65.4,311.6 L65.7,311.53 L66,312.47 L66.3,311.95 L66.6,311.63 L66.9,311.25 L67.2,311.34 L67.5,311.48 L67.8,311.17 L68.1,311 L68.4,311.77 L68.7,311.32 L69,310.69 L69.3,310.95 L69.6,311.11 L69.9,311.53 L70.2,311.53 L70.5,311.46 L70.8,311.92 L71.1,310.86 L71.4,312.25 L71.7,311.98 L72,311.89 L72.3,311.14 L72.6,311.28 L72.9,311.52 L73.2,311.42 L73.5,311.6 L73.8,311.98 L74.1,311.56 L74.4,311.89 L74.7,311.34 L75,311.81 L75.3,311.42 L75.6,310.37 L75.9,310.51 L76.2,310.6 L76.5,310.3 L76.8,310.26 L77.1,311.35 L77.4,310.97 L77.7,310.33 L78,310.51 L78.3,310.38 L78.6,310.39 L78.9,310.04 L79.2,311.1 L79.5,310.7 L79.8,310.96 L80.1,310.31 L80.4,311.09 L80.7,310.58 L81,310.44 L81.3,309.17 L81.6,310.39 L81.9,309.45 L82.2,308.48 L82.5,309.83 L82.8,309.55 L83.1,309.02 L83.4,308.92 L83.7,309 L84,308.77 L84.3,308.93 L84.6,308.76 L84.9,309.23 L85.2,310.46 L85.5,308.89 L85.8,309.34 L86.1,309.43 L86.4,309.55 L86.7,309.46 L87,309.4 L87.3,309.62 L87.6,309.52 L87.9,309.11 L88.2,309.8 L88.5,309.62 L88.8,309.54 L89.1,309.39 L89.4,308.82 L89.7,309.24 L90,308.85 L90.3,308.45 L90.6,306.16 L90.9,305.18 L91.2,306.87 L91.5,308.19 L91.8,307.78 L92.1,308.3 L92.4,308 L92.7,308.09 L93,308.33 L93.3,308.03 L93.6,308.47 L93.9,308.84 L94.2,308.3 L94.5,307.92 L94.8,308.1 L95.1,308.58 L95.4,308.56 L95.7,307.82 L96,308.24 L96.3,308.51 L96.6,308.33 L96.9,308.33 L97.2,307.81 L97.5,308.36 L97.8,307.86 L98.1,308.94 L98.4,308.53 L98.7,308.3 L99,308.22 L99.3,308.27 L99.6,307.97 L99.9,308.19 L100.2,308.22 L100.5,307.67 L100.8,308.18 L101.1,307.5 L101.4,307.84 L101.7,307.84 L102,306.5 L102.3,304.73 L102.6,304.59 L102.9,307.17 L103.2,306.65 L103.5,307.57 L103.8,306.87 L104.1,306.67 L104.4,307.21 L104.7,307.32 L105,307.15 L105.3,307.32 L105.6,306.77 L105.9,306.68 L106.2,306.75 L106.5,306.72 L106.8,307.05 L107.1,307.12 L107.4,307.58 L107.7,307.93 L108,308.27 L108.3,307.75 L108.6,308.44 L108.9,308.61 L109.2,308.12 L109.5,307.19 L109.8,308.02 L110.1,307.95 L110.4,308.55 L110.7,307.62 L111,308.29 L111.3,308.41 L111.6,307.76 L111.9,307.95 L112.2,308.05 L112.5,308.23 L112.8,308.39 L113.1,308.34 L113.4,307.82 L113.7,307.94 L114,308.12 L114.3,308.9 L114.6,307.98 L114.9,307.93 L115.2,308.84 L115.5,308.19 L115.8,308.48 L116.1,307.87 L116.4,308.54 L116.7,308.73 L117,307.81 L117.3,307.41 L117.6,308.03 L117.9,308.19 L118.2,308.36 L118.5,308 L118.8,307.17 L119.1,307.47 L119.4,306.68 L119.7,307.29 L120,307.43 L120.3,307.85 L120.6,307.94 L120.9,308.12 L121.2,308.57 L121.5,308.54 L121.8,309.24 L122.1,309.08 L122.4,309.54 L122.7,308.56 L123,309.38 L123.3,309.35 L123.6,307.96 L123.9,309.03 L124.2,308.68 L124.5,308.66 L124.8,308.26 L125.1,307.57 L125.4,306.75 L125.7,304.92 L126,302.95 L126.3,302.81 L126.6,303.51 L126.9,304.23 L127.2,304.43 L127.5,304.28 L127.8,305.63 L128.1,304.82 L128.4,305.32 L128.7,304.81 L129,304.37 L129.3,303.84 L129.6,304.42 L129.9,303.69 L130.2,303.4 L130.5,303.38 L130.8,303.12 L131.1,302.55 L131.4,301.46 L131.7,301.1 L132,302.99 L132.3,302.92 L132.6,303.98 L132.9,303.54 L133.2,304.22 L133.5,304.03 L133.8,303.9 L134.1,304.63 L134.4,303.43 L134.7,304.43 L135,305.08 L135.3,304.52 L135.6,304.27 L135.9,304.66 L136.2,304.55 L136.5,304.62 L136.8,304.01 L137.1,301.84 L137.4,301.26 L137.7,302.71 L138,303.26 L138.3,303.94 L138.6,304.31 L138.9,304.51 L139.2,304.39 L139.5,304.58 L139.8,304.78 L140.1,303.69 L140.4,304.16 L140.7,304.56 L141,304.68 L141.3,304.49 L141.6,304.49 L141.9,304.07 L142.2,303.78 L142.5,304.06 L142.8,304.77 L143.1,304.83 L143.4,304.32 L143.7,303.93 L144,304.05 L144.3,304.05 L144.6,303.08 L144.9,303.12 L145.2,303.28 L145.5,303.05 L145.8,303.04 L146.1,303.57 L146.4,303.61 L146.7,304.07 L147,303.41 L147.3,303.47 L147.6,302.73 L147.9,302.88 L148.2,302.69 L148.5,303.32 L148.8,303.96 L149.1,304.23 L149.4,304.29 L149.7,304.02 L150,303.99 L150.3,304.35 L150.6,304.1 L150.9,303.54 L151.2,303.23 L151.5,303.09 L151.8,303.84 L152.1,303.59 L152.4,303.35 L152.7,303.65 L153,302.44 L153.3,303.67 L153.6,302.65 L153.9,303.19 L154.2,302.66 L154.5,302.77 L154.8,303.03 L155.1,303.48 L155.4,302.64 L155.7,297.93 L156,291 L156.3,293.3 L156.6,300.08 L156.9,303.63 L157.2,304.43 L157.5,303.05 L157.8,302.65 L158.1,301.51 L158.4,302.67 L158.7,303.93 L159,303.71 L159.3,304.15 L159.6,304.26 L159.9,304.64 L160.2,304.95 L160.5,305.15 L160.8,304.74 L161.1,304.73 L161.4,305.39 L161.7,304.74 L162,303.76 L162.3,304.15 L162.6,304.48 L162.9,305.01 L163.2,304.91 L163.5,304.15 L163.8,305.25 L164.1,305.38 L164.4,305.56 L164.7,305.94 L165,305.97 L165.3,305.68 L165.6,305.14 L165.9,305.73 L166.2,305.35 L166.5,305.88 L166.8,306.17 L167.1,304.41 L167.4,304.19 L167.7,305.26 L168,306.14 L168.3,306.35 L168.6,305.59 L168.9,306.75 L169.2,306.19 L169.5,305.33 L169.8,305.1 L170.1,304.54 L170.4,304.47 L170.7,305.1 L171,304.93 L171.3,305.11 L171.6,305.02 L171.9,305.15 L172.2,303.46 L172.5,302.22 L172.8,303.35 L173.1,304.68 L173.4,305.24 L173.7,303.91 L174,302.97 L174.3,303.98 L174.6,304.39 L174.9,305.51 L175.2,305.81 L175.5,306.01 L175.8,305.15 L176.1,305.28 L176.4,305.68 L176.7,306.45 L177,305.95 L177.3,305.56 L177.6,306.13 L177.9,305.31 L178.2,305.94 L178.5,305.62 L178.8,304.89 L179.1,305.7 L179.4,304.11 L179.7,304.47 L180,304.49 L180.3,304.1 L180.6,303.97 L180.9,304.01 L181.2,303.94 L181.5,304.53 L181.8,304.79 L182.1,304.69 L182.4,303.94 L182.7,304.6 L183,306.23 L183.3,305.69 L183.6,306.23 L183.9,307.32 L184.2,309.12 L184.5,310.44 L184.8,309.63 L185.1,310.23 L185.4,310.54 L185.7,310.38 L186,310.85 L186.3,310.73 L186.6,310.89 L186.9,310.28 L187.2,310.7 L187.5,310.47 L187.8,310.33 L188.1,310.86 L188.4,309.82 L188.7,311.08 L189,311.72 L189.3,311.14 L189.6,311.69 L189.9,311.05 L190.2,311.52 L190.5,311.8 L190.8,312.08 L191.1,311 L191.4,311.41 L191.7,311.03 L192,311.35 L192.3,312.36 L192.6,312.14 L192.9,312.3 L193.2,312.8 L193.5,312.87 L193.8,311.89 L194.1,312.77 L194.4,312.52 L194.7,312.71 L195,312.49 L195.3,311.97 L195.6,312.59 L195.9,311.71 L196.2,312.15 L196.5,312.52 L196.8,312.44 L197.1,312.71 L197.4,312.39 L197.7,313.19 L198,312.41 L198.3,312.89 L198.6,312.93 L198.9,313.05 L199.2,312.8 L199.5,313.11 L199.8,312.78 L200.1,312.74 L200.4,312.3 L200.7,312.39 L201,312.36 L201.3,312.15 L201.6,312.1 L201.9,311.65 L202.2,311.58 L202.5,312.03 L202.8,312.27 L203.1,312.37 L203.4,311.85 L203.7,312.3 L204,312.66 L204.3,312.3 L204.6,312.67 L204.9,313.16 L205.2,313.56 L205.5,313.65 L205.8,313.71 L206.1,314.22 L206.4,313.98 L206.7,313.69 L207,313.75" fill="none" stroke="#3d66a4" stroke-width="1.0" stroke-linejoin="round" stroke-linecap="round"/>
<path d="M27.9,336.67 L28.2,336.25 L28.5,335.99 L28.8,335.95 L29.1,336.08 L29.4,336.48 L29.7,336.97 L30,337.17 L30.3,336.82 L30.6,337.63 L30.9,337.73 L31.2,336.87 L31.5,336.91 L31.8,337 L32.1,336.39 L32.4,336.92 L32.7,336.59 L33,336.23 L33.3,336.49 L33.6,336.44 L33.9,336.11 L34.2,335.98 L34.5,336.89 L34.8,337.53 L35.1,336.95 L35.4,337.13 L35.7,336.71 L36,336.5 L36.3,336.68 L36.6,336.12 L36.9,336.52 L37.2,336.48 L37.5,336.48 L37.8,336.25 L38.1,336.79 L38.4,335.8 L38.7,336.81 L39,336.56 L39.3,336.94 L39.6,336.45 L39.9,336.29 L40.2,336.38 L40.5,336.3 L40.8,336.75 L41.1,336.57 L41.4,336.85 L41.7,337.33 L42,337.13 L42.3,337.76 L42.6,337.05 L42.9,337.53 L43.2,336.86 L43.5,336.76 L43.8,336.34 L44.1,335.82 L44.4,336.18 L44.7,335.81 L45,335.92 L45.3,336.08 L45.6,336.8 L45.9,336.82 L46.2,336.2 L46.5,336.61 L46.8,336.39 L47.1,336.53 L47.4,336.13 L47.7,335.71 L48,336.16 L48.3,336.26 L48.6,336.59 L48.9,335.75 L49.2,336.81 L49.5,336.46 L49.8,336.02 L50.1,335.68 L50.4,336.33 L50.7,336.05 L51,336.05 L51.3,335.38 L51.6,335.56 L51.9,335.87 L52.2,335.54 L52.5,336.2 L52.8,334.82 L53.1,335.97 L53.4,335.71 L53.7,336.24 L54,336.1 L54.3,336.01 L54.6,336.24 L54.9,335.58 L55.2,336.12 L55.5,336.36 L55.8,336.32 L56.1,336.54 L56.4,335.87 L56.7,336.37 L57,336.47 L57.3,336.9 L57.6,336.71 L57.9,335.68 L58.2,336.21 L58.5,335.67 L58.8,335.66 L59.1,335.87 L59.4,335.28 L59.7,335.56 L60,335.59 L60.3,335.64 L60.6,335.58 L60.9,335.36 L61.2,335.76 L61.5,335.69 L61.8,336.43 L62.1,335.45 L62.4,335.13 L62.7,335.34 L63,335.55 L63.3,335.23 L63.6,335.82 L63.9,335.2 L64.2,335.49 L64.5,334.76 L64.8,334.81 L65.1,335.13 L65.4,334.87 L65.7,335.75 L66,335.56 L66.3,334.98 L66.6,335.11 L66.9,335.56 L67.2,334.88 L67.5,334.72 L67.8,334.78 L68.1,335.3 L68.4,335.02 L68.7,335.42 L69,334.97 L69.3,335.71 L69.6,335.55 L69.9,335.71 L70.2,335.52 L70.5,335.36 L70.8,335.21 L71.1,335.01 L71.4,334.69 L71.7,334.71 L72,335.38 L72.3,334.43 L72.6,334.56 L72.9,334.65 L73.2,334.49 L73.5,334.46 L73.8,334.7 L74.1,334.93 L74.4,335.02 L74.7,335.25 L75,335.51 L75.3,335.61 L75.6,336.1 L75.9,336.03 L76.2,335.13 L76.5,335.28 L76.8,335.42 L77.1,334.53 L77.4,334.05 L77.7,334.7 L78,333.88 L78.3,334.45 L78.6,334.51 L78.9,334.48 L79.2,334.67 L79.5,334.3 L79.8,335.16 L80.1,334.96 L80.4,334.87 L80.7,334.51 L81,335.5 L81.3,334.68 L81.6,335.06 L81.9,335.03 L82.2,334.26 L82.5,334.65 L82.8,334.48 L83.1,334.41 L83.4,334.97 L83.7,334.92 L84,334.87 L84.3,334.82 L84.6,334.96 L84.9,334.71 L85.2,334.58 L85.5,334.73 L85.8,334.91 L86.1,334.38 L86.4,334.4 L86.7,333.91 L87,333.93 L87.3,334.69 L87.6,334.65 L87.9,335.07 L88.2,334.9 L88.5,334.71 L88.8,334.91 L89.1,334.36 L89.4,334.98 L89.7,335.43 L90,334.73 L90.3,335.23 L90.6,335.03 L90.9,335.05 L91.2,335.28 L91.5,335.44 L91.8,334.43 L92.1,335.1 L92.4,334.66 L92.7,335.03 L93,334.72 L93.3,334.65 L93.6,334.45 L93.9,334.41 L94.2,334.15 L94.5,333.76 L94.8,333.51 L95.1,334.17 L95.4,332.81 L95.7,333.42 L96,332.59 L96.3,332.66 L96.6,332.82 L96.9,332.92 L97.2,333.22 L97.5,333.14 L97.8,333.97 L98.1,333.77 L98.4,333.96 L98.7,333.93 L99,333.22 L99.3,333.56 L99.6,333.36 L99.9,332.95 L100.2,333.56 L100.5,333 L100.8,332.94 L101.1,332.51 L101.4,332.65 L101.7,333.1 L102,333.33 L102.3,333.64 L102.6,333.77 L102.9,334.34 L103.2,333.97 L103.5,333.78 L103.8,333.77 L104.1,333.85 L104.4,333.73 L104.7,333.48 L105,333.34 L105.3,333.26 L105.6,333.44 L105.9,333.37 L106.2,332.84 L106.5,332.9 L106.8,332.32 L107.1,332.36 L107.4,332.47 L107.7,332.19 L108,332.84 L108.3,333.4 L108.6,333.31 L108.9,332.84 L109.2,333.26 L109.5,332.12 L109.8,332.06 L110.1,331.92 L110.4,331.99 L110.7,331.77 L111,332.61 L111.3,332.82 L111.6,332.18 L111.9,332.47 L112.2,331.22 L112.5,332.39 L112.8,331.81 L113.1,332.27 L113.4,331.33 L113.7,330.71 L114,330.59 L114.3,330.36 L114.6,330.45 L114.9,329.98 L115.2,330.96 L115.5,330.74 L115.8,330.62 L116.1,330.67 L116.4,331.27 L116.7,331.17 L117,330.75 L117.3,330.7 L117.6,330.59 L117.9,330.86 L118.2,330.02 L118.5,330.24 L118.8,330.4 L119.1,329.67 L119.4,329.89 L119.7,330.26 L120,329.33 L120.3,327.7 L120.6,328.04 L120.9,329.56 L121.2,330.17 L121.5,329.9 L121.8,330.47 L122.1,330.73 L122.4,330.68 L122.7,330.38 L123,329.85 L123.3,330.24 L123.6,330.37 L123.9,330.02 L124.2,330.06 L124.5,330.99 L124.8,329.94 L125.1,330.47 L125.4,330.23 L125.7,330.46 L126,330.15 L126.3,330.15 L126.6,330.7 L126.9,329.78 L127.2,330.18 L127.5,329.84 L127.8,330.02 L128.1,330.26 L128.4,330.4 L128.7,330.21 L129,330.19 L129.3,330.08 L129.6,330.1 L129.9,330.31 L130.2,329.83 L130.5,330.25 L130.8,329.57 L131.1,329.79 L131.4,329.28 L131.7,329.54 L132,329.95 L132.3,330.16 L132.6,330.29 L132.9,329.45 L133.2,329.05 L133.5,328.6 L133.8,326.6 L134.1,324.76 L134.4,324.28 L134.7,324.62 L135,325.34 L135.3,325.87 L135.6,325.72 L135.9,325.08 L136.2,324.99 L136.5,323.02 L136.8,317.48 L137.1,313.11 L137.4,318.7 L137.7,325.85 L138,327.15 L138.3,327.07 L138.6,326.77 L138.9,326.19 L139.2,323.21 L139.5,321.52 L139.8,318.85 L140.1,313.36 L140.4,313.9 L140.7,320.23 L141,324.21 L141.3,324.68 L141.6,323.23 L141.9,320.32 L142.2,321.07 L142.5,324.88 L142.8,325.87 L143.1,326.41 L143.4,326.94 L143.7,326.59 L144,326.67 L144.3,324.65 L144.6,321.98 L144.9,320.21 L145.2,321.83 L145.5,325.41 L145.8,325.81 L146.1,326.02 L146.4,324.89 L146.7,322.19 L147,322.54 L147.3,323.46 L147.6,324.11 L147.9,322.92 L148.2,324 L148.5,325.92 L148.8,327.47 L149.1,327.23 L149.4,325.07 L149.7,321.09 L150,317.65 L150.3,321.01 L150.6,325.3 L150.9,326 L151.2,324.83 L151.5,319.01 L151.8,314.85 L152.1,318.3 L152.4,324.27 L152.7,326.21 L153,326.66 L153.3,327.27 L153.6,326.8 L153.9,326.88 L154.2,327.02 L154.5,327.16 L154.8,326.7 L155.1,326.55 L155.4,326.67 L155.7,325.63 L156,324.95 L156.3,321.35 L156.6,315.43 L156.9,314.85 L157.2,319.9 L157.5,323.13 L157.8,325.41 L158.1,326.62 L158.4,327.28 L158.7,326.06 L159,326.64 L159.3,326.31 L159.6,324.12 L159.9,321.11 L160.2,320.91 L160.5,323.69 L160.8,326.3 L161.1,326.03 L161.4,326.35 L161.7,326.19 L162,325.49 L162.3,321.32 L162.6,314.36 L162.9,313.55 L163.2,321.7 L163.5,325.6 L163.8,324.66 L164.1,321.29 L164.4,319.3 L164.7,322.25 L165,324.29 L165.3,325.19 L165.6,325.2 L165.9,325.64 L166.2,325.63 L166.5,325.56 L166.8,324.05 L167.1,321.07 L167.4,317.11 L167.7,318.39 L168,323.82 L168.3,326.23 L168.6,326.2 L168.9,325.29 L169.2,321.96 L169.5,316.06 L169.8,313.49 L170.1,319.19 L170.4,322.57 L170.7,323.41 L171,325.24 L171.3,326.14 L171.6,324.49 L171.9,322.98 L172.2,322.67 L172.5,325.48 L172.8,326.59 L173.1,325.78 L173.4,325.12 L173.7,321.09 L174,318.35 L174.3,319.82 L174.6,324.32 L174.9,325.89 L175.2,325.3 L175.5,323.81 L175.8,319.94 L176.1,319.83 L176.4,323.07 L176.7,324.17 L177,321.95 L177.3,323.71 L177.6,325.26 L177.9,324.33 L178.2,321.03 L178.5,313.31 L178.8,312.03 L179.1,319.81 L179.4,325.46 L179.7,327.5 L180,326.71 L180.3,326.48 L180.6,323.92 L180.9,320.68 L181.2,320.31 L181.5,323.53 L181.8,324.04 L182.1,324.42 L182.4,323.21 L182.7,320.27 L183,318.7 L183.3,321.55 L183.6,325.23 L183.9,324.34 L184.2,323.78 L184.5,326.3 L184.8,328.53 L185.1,329.47 L185.4,330.07 L185.7,330.42 L186,330.97 L186.3,331.05 L186.6,330.68 L186.9,331.5 L187.2,330.49 L187.5,330.74 L187.8,331.17 L188.1,331.46 L188.4,331.54 L188.7,331.92 L189,330.99 L189.3,331.73 L189.6,331.61 L189.9,331.68 L190.2,332.33 L190.5,332.2 L190.8,332.15 L191.1,332.44 L191.4,332.44 L191.7,332.35 L192,332.42 L192.3,332.77 L192.6,332.57 L192.9,332.18 L193.2,332.09 L193.5,332.45 L193.8,332.46 L194.1,332.32 L194.4,333.07 L194.7,333.31 L195,333.52 L195.3,333.55 L195.6,333.7 L195.9,334.2 L196.2,334.39 L196.5,334.58 L196.8,334.87 L197.1,335.21 L197.4,335.58 L197.7,336.3 L198,336.88 L198.3,336.68 L198.6,336.59 L198.9,336.51 L199.2,336.86 L199.5,337.18 L199.8,337.07 L200.1,337.17 L200.4,336.97 L200.7,336.19 L201,336.27 L201.3,336.26 L201.6,335.23 L201.9,336.04 L202.2,336.18 L202.5,335.89 L202.8,336.31 L203.1,336.56 L203.4,335.93 L203.7,336.33 L204,336.31 L204.3,337.17 L204.6,336.3 L204.9,336.8 L205.2,337.11 L205.5,336.75 L205.8,337.48 L206.1,336.74 L206.4,337.13 L206.7,337 L207,337.1" fill="none" stroke="#ee1420" stroke-width="0.9" stroke-linejoin="round" stroke-linecap="round"/>
</g>
<text transform="translate(204.3 207.1)" font-size="8.8" text-anchor="end" fill="#222" font-weight="normal" stroke="#222" stroke-width="0.22">on Au film</text>
<text transform="translate(204.3 238.4)" font-size="8.8" text-anchor="end" fill="#222" font-weight="normal" stroke="#222" stroke-width="0.22">on ITO</text>
<text transform="translate(203.6 265.8)" font-size="9" text-anchor="end" fill="#222" font-weight="normal" stroke="#222" stroke-width="0.22">L4</text>
<text transform="translate(204.2 290)" font-size="9" text-anchor="end" fill="#222" font-weight="normal" stroke="#222" stroke-width="0.22">L3</text>
<text transform="translate(204.2 312)" font-size="9" text-anchor="end" fill="#222" font-weight="normal" stroke="#222" stroke-width="0.22">L2</text>
<text transform="translate(204.2 332)" font-size="9" text-anchor="end" fill="#222" font-weight="normal" stroke="#222" stroke-width="0.22">L1</text>
<ellipse cx="160.4" cy="321.9" rx="34.7" ry="13.9" fill="none" stroke="#e9843a" stroke-width="2.4" stroke-dasharray="7 3.6"/>
<rect x="261.3" y="193.3" width="179.7" height="144.7" fill="none" stroke="#666" stroke-width="1"/>
<line x1="284.2" y1="338" x2="284.2" y2="340.5" stroke="#666" stroke-width="1"/>
<text transform="translate(284.2 350.8)" font-size="9" text-anchor="middle" fill="#222" font-weight="normal" stroke="#222" stroke-width="0.22">1.62</text>
<line x1="323.4" y1="338" x2="323.4" y2="340.5" stroke="#666" stroke-width="1"/>
<text transform="translate(323.4 350.8)" font-size="9" text-anchor="middle" fill="#222" font-weight="normal" stroke="#222" stroke-width="0.22">1.64</text>
<line x1="362.6" y1="338" x2="362.6" y2="340.5" stroke="#666" stroke-width="1"/>
<text transform="translate(362.6 350.8)" font-size="9" text-anchor="middle" fill="#222" font-weight="normal" stroke="#222" stroke-width="0.22">1.66</text>
<line x1="401.8" y1="338" x2="401.8" y2="340.5" stroke="#666" stroke-width="1"/>
<text transform="translate(401.8 350.8)" font-size="9" text-anchor="middle" fill="#222" font-weight="normal" stroke="#222" stroke-width="0.22">1.68</text>
<line x1="441" y1="338" x2="441" y2="340.5" stroke="#666" stroke-width="1"/>
<text transform="translate(441 350.8)" font-size="9" text-anchor="middle" fill="#222" font-weight="normal" stroke="#222" stroke-width="0.22">1.70</text>
<line x1="264.6" y1="338" x2="264.6" y2="339.5" stroke="#666" stroke-width="1"/>
<line x1="303.8" y1="338" x2="303.8" y2="339.5" stroke="#666" stroke-width="1"/>
<line x1="343" y1="338" x2="343" y2="339.5" stroke="#666" stroke-width="1"/>
<line x1="382.2" y1="338" x2="382.2" y2="339.5" stroke="#666" stroke-width="1"/>
<line x1="421.4" y1="338" x2="421.4" y2="339.5" stroke="#666" stroke-width="1"/>
<line x1="258.8" y1="332.6" x2="261.3" y2="332.6" stroke="#666" stroke-width="1"/>
<text transform="translate(257.2 335.8)" font-size="9.2" text-anchor="end" fill="#222" font-weight="normal" stroke="#222" stroke-width="0.22">0.2</text>
<line x1="258.8" y1="300" x2="261.3" y2="300" stroke="#666" stroke-width="1"/>
<text transform="translate(257.2 303.2)" font-size="9.2" text-anchor="end" fill="#222" font-weight="normal" stroke="#222" stroke-width="0.22">0.4</text>
<line x1="258.8" y1="267.4" x2="261.3" y2="267.4" stroke="#666" stroke-width="1"/>
<text transform="translate(257.2 270.6)" font-size="9.2" text-anchor="end" fill="#222" font-weight="normal" stroke="#222" stroke-width="0.22">0.6</text>
<line x1="258.8" y1="234.8" x2="261.3" y2="234.8" stroke="#666" stroke-width="1"/>
<text transform="translate(257.2 238)" font-size="9.2" text-anchor="end" fill="#222" font-weight="normal" stroke="#222" stroke-width="0.22">0.8</text>
<line x1="258.8" y1="202.2" x2="261.3" y2="202.2" stroke="#666" stroke-width="1"/>
<text transform="translate(257.2 205.4)" font-size="9.2" text-anchor="end" fill="#222" font-weight="normal" stroke="#222" stroke-width="0.22">1.0</text>
<line x1="259.8" y1="316.3" x2="261.3" y2="316.3" stroke="#666" stroke-width="1"/>
<line x1="259.8" y1="283.7" x2="261.3" y2="283.7" stroke="#666" stroke-width="1"/>
<line x1="259.8" y1="251.1" x2="261.3" y2="251.1" stroke="#666" stroke-width="1"/>
<line x1="259.8" y1="218.5" x2="261.3" y2="218.5" stroke="#666" stroke-width="1"/>
<text transform="translate(351.2 365.9)" font-size="9.4" text-anchor="middle" fill="#222" font-weight="normal" stroke="#222" stroke-width="0.22">Energy (eV)</text>
<text transform="translate(235 258.5) rotate(-90)" font-size="9.05" text-anchor="middle" fill="#222" font-weight="normal" stroke="#222" stroke-width="0.22">Intensity (arb. units)</text>
<text transform="translate(436.1 204.9)" font-size="9" text-anchor="end" fill="#222" font-weight="normal" stroke="#222" stroke-width="0.22">L1</text>
<clipPath id="cpf"><rect x="261.3" y="193.3" width="179.7" height="144.7"/></clipPath>
<g clip-path="url(#cpf)">
<path d="M261.5,330.99 L261.72,327.23 L261.94,327.08 L262.16,321.81 L262.38,327.92 L262.6,325.36 L262.82,319.51 L263.04,327.27 L263.26,320.6 L263.48,319.15 L263.7,321.76 L263.92,328.4 L264.14,324.85 L264.36,322.58 L264.58,317.69 L264.8,315.9 L265.02,316.26 L265.24,319.66 L265.46,319.93 L265.68,317.5 L265.9,318.72 L266.12,317.68 L266.34,318.77 L266.56,313.4 L266.78,313.11 L267,308.48 L267.22,309.07 L267.44,307.85 L267.66,316.05 L267.88,318.41 L268.1,322.11 L268.32,319.85 L268.54,318.59 L268.76,316.2 L268.98,317.24 L269.2,314.38 L269.42,307.15 L269.64,308.07 L269.86,311.78 L270.08,306.71 L270.3,313.85 L270.52,320.43 L270.74,317.1 L270.96,320.68 L271.18,318.47 L271.4,322.46 L271.62,322.85 L271.84,325.93 L272.06,324.97 L272.28,321.46 L272.5,320.67 L272.72,319.6 L272.94,314.91 L273.16,325.12 L273.38,320.67 L273.6,317.52 L273.82,319.03 L274.04,314.14 L274.26,318.18 L274.48,305.55 L274.7,308.62 L274.92,298.46 L275.14,300.64 L275.36,299 L275.58,308.02 L275.8,309.71 L276.02,320.34 L276.24,315.33 L276.46,316.06 L276.68,318.36 L276.9,315.36 L277.12,317.02 L277.34,318.32 L277.56,315.7 L277.78,318.34 L278,310.13 L278.22,309.59 L278.44,306.08 L278.66,304.98 L278.88,304.62 L279.1,304.98 L279.32,301.87 L279.54,294.09 L279.7,291.85 L279.76,292.18 L279.98,282.85 L280.2,296.06 L280.42,299.11 L280.64,299.8 L280.86,305.47 L281.08,308.61 L281.3,312.64 L281.52,321.03 L281.74,315.26 L281.96,319.86 L282.18,314.78 L282.4,314.83 L282.62,305.57 L282.84,301.57 L283.06,282.53 L283.28,286.98 L283.5,289.3 L283.72,303.7 L283.94,321.61 L284.16,325.22 L284.38,323.97 L284.6,326.61 L284.82,332.42 L285.04,334.4 L285.26,334.12 L285.48,326.92 L285.7,317.43 L285.92,310.97 L286.14,303.77 L286.36,299.38 L286.58,291.06 L286.8,277.63 L287.02,244.62 L287.24,221.43 L287.3,220.13 L287.46,228.98 L287.68,260.04 L287.9,289.55 L288.12,297.9 L288.34,309.89 L288.56,310.49 L288.78,312.28 L289,310.5 L289.22,321.16 L289.44,318.47 L289.66,312.36 L289.88,308.36 L290.1,309.1 L290.32,299.54 L290.54,297.97 L290.76,293.79 L290.98,281.51 L291.2,275.55 L291.2,275.55 L291.42,281.51 L291.64,293.79 L291.86,303.46 L292.08,307.5 L292.3,309.12 L292.52,308.96 L292.74,306.07 L292.96,315.33 L293.18,310.3 L293.4,308.37 L293.62,313.09 L293.84,310.37 L294.06,301.33 L294.28,301.3 L294.5,298.53 L294.72,304.46 L294.94,311.8 L295.16,307.51 L295.38,306.42 L295.6,302.28 L295.82,292.33 L296.04,278.2 L296.26,269.28 L296.3,269.03 L296.48,273.73 L296.7,287.32 L296.92,299.41 L297.14,305.43 L297.36,307.29 L297.58,313.41 L297.8,308.79 L298.02,304.18 L298.24,302.6 L298.46,302.06 L298.68,303.9 L298.9,292.65 L299.12,274.61 L299.34,264.91 L299.56,265.92 L299.78,275.86 L300,291.37 L300.22,297.79 L300.44,304.49 L300.66,297.59 L300.88,279.04 L301.1,249.73 L301.32,227.09 L301.4,225.02 L301.54,231.18 L301.76,258.08 L301.98,285.47 L302.2,300.43 L302.42,300.39 L302.64,308.99 L302.86,317.69 L303.08,305.61 L303.3,312.45 L303.52,311.31 L303.74,310.55 L303.96,314.84 L304.18,317.61 L304.4,316.1 L304.62,310.99 L304.84,310.34 L305.06,309.81 L305.28,299.38 L305.5,305.93 L305.72,302.04 L305.94,294.49 L306.16,297.1 L306.38,297.08 L306.6,300.73 L306.82,305.18 L307.04,302.13 L307.26,306.71 L307.48,307.67 L307.7,306.46 L307.92,302.06 L308.14,291.94 L308.36,278.33 L308.58,270.72 L308.6,270.66 L308.8,276.17 L309.02,289.52 L309.24,300.68 L309.46,305.94 L309.68,307.17 L309.9,324.48 L310.12,315.16 L310.34,307.3 L310.56,307.6 L310.78,302.3 L311,302.48 L311.22,291.35 L311.44,289.38 L311.66,296.97 L311.88,287.47 L312.1,299.11 L312.32,305.37 L312.54,307.32 L312.76,300.42 L312.98,311.88 L313.2,301.84 L313.42,296.33 L313.64,288.18 L313.86,291.28 L314.08,287.93 L314.3,296.89 L314.52,292.74 L314.74,300.23 L314.96,296.13 L315.18,300.51 L315.4,300.85 L315.62,294.45 L315.84,304.11 L316.06,305.01 L316.28,305.23 L316.5,304.7 L316.72,315.19 L316.94,305.2 L317.16,315.09 L317.38,319.11 L317.6,311.5 L317.82,316.35 L318.04,309.97 L318.26,303.48 L318.48,303.1 L318.7,301.68 L318.92,298.25 L319.14,293.38 L319.36,290.31 L319.4,290.22 L319.58,291.84 L319.8,296.52 L320.02,300.69 L320.24,302.76 L320.46,301.24 L320.68,298.09 L320.9,297.92 L321.12,299.52 L321.34,290.43 L321.56,287.26 L321.78,283.53 L322,286.65 L322.22,286.3 L322.44,291.64 L322.66,296.9 L322.88,287.09 L323.1,276.72 L323.32,283.88 L323.54,285.44 L323.76,290.71 L323.98,275.11 L324.2,278.65 L324.42,260.78 L324.64,265.6 L324.86,278.52 L325.08,288.8 L325.3,288.66 L325.52,294.09 L325.74,288.24 L325.96,278.04 L326.18,272.33 L326.2,272.29 L326.4,276.42 L326.62,286.43 L326.84,294.8 L327.06,298.78 L327.28,299.97 L327.5,298.46 L327.72,295.67 L327.94,285.92 L328.16,264.48 L328.38,237.25 L328.6,224.04 L328.6,224.04 L328.82,237.25 L329.04,264.48 L329.26,278.04 L329.48,269.25 L329.7,270.66 L329.92,273.07 L330.14,276.36 L330.36,272.47 L330.58,276.25 L330.8,281.71 L331.02,265.07 L331.24,253.39 L331.3,252.73 L331.46,257.19 L331.68,272.85 L331.9,282.03 L332.12,282.09 L332.34,283.98 L332.56,282.85 L332.78,270.25 L333,264.14 L333,264.14 L333.22,270.25 L333.44,282.85 L333.66,292.75 L333.88,297.04 L334.1,296.54 L334.32,297.54 L334.54,283.92 L334.76,285.63 L334.98,289.87 L335.2,292.16 L335.42,299.79 L335.64,307.99 L335.86,308.93 L336.08,301.3 L336.3,312.07 L336.52,293.94 L336.74,296.3 L336.96,300.17 L337.18,297.98 L337.4,302.01 L337.62,296.34 L337.84,293.93 L338.06,289.18 L338.28,277.76 L338.5,254.45 L338.72,236.44 L338.8,234.8 L338.94,239.7 L339.16,261.09 L339.38,282.86 L339.6,291.82 L339.82,296 L340.04,300.93 L340.26,296.72 L340.48,291.82 L340.7,294.5 L340.92,298.74 L341.14,286.65 L341.36,281.39 L341.58,286.12 L341.8,289.54 L342.02,289.58 L342.24,294.99 L342.46,297.01 L342.68,292.66 L342.9,296.61 L343.12,293.55 L343.34,285.85 L343.56,294.26 L343.78,297.76 L344,302.52 L344.22,296.34 L344.44,296.78 L344.66,293.83 L344.88,287.05 L345.1,278.91 L345.3,275.55 L345.32,275.59 L345.54,280.23 L345.76,288.52 L345.98,288.78 L346.2,295.94 L346.42,288.43 L346.64,283.77 L346.86,274.25 L347.08,285.39 L347.3,284.73 L347.52,278.49 L347.74,274.45 L347.96,280.09 L348.18,292.77 L348.4,294.22 L348.62,298.92 L348.84,290.39 L349.06,297.7 L349.28,297.55 L349.5,296.51 L349.72,295.42 L349.94,291.6 L350.16,283.21 L350.38,272.56 L350.6,267.4 L350.6,267.4 L350.82,272.56 L351.04,283.21 L351.26,288.51 L351.48,292.18 L351.7,289.65 L351.92,289.04 L352.14,289.12 L352.36,286.94 L352.58,287.15 L352.8,283.69 L353.02,285.65 L353.24,290.73 L353.46,289.1 L353.68,290.3 L353.9,301.38 L354.12,302.11 L354.34,294.85 L354.56,286.19 L354.78,276.85 L355,273.02 L355.22,283.38 L355.44,292.4 L355.66,294.68 L355.88,290.38 L356.1,278.75 L356.32,261 L356.54,248.54 L356.6,247.84 L356.76,252.6 L356.98,269.3 L357.2,285.15 L357.42,293.42 L357.64,290.34 L357.86,286.02 L358.08,292.1 L358.3,288.87 L358.52,287.82 L358.74,297.43 L358.96,290.57 L359.18,296.19 L359.4,292.4 L359.62,292.31 L359.84,283.57 L360.06,289.97 L360.28,288.07 L360.5,271.06 L360.72,245.56 L360.94,227.65 L361,226.65 L361.16,233.49 L361.38,257.47 L361.6,280.26 L361.82,292.13 L362.04,295.97 L362.26,294.26 L362.48,288.22 L362.7,278.69 L362.92,271.33 L363,270.66 L363.14,272.66 L363.36,278.32 L363.58,282.44 L363.8,295.18 L364.02,289.48 L364.24,305.83 L364.46,302.36 L364.68,297.69 L364.9,307.99 L365.12,295.9 L365.34,290.15 L365.56,298.22 L365.78,303.77 L366,289.94 L366.22,298.83 L366.44,297.86 L366.66,298.33 L366.88,301.23 L367.1,295.7 L367.32,296.65 L367.54,294.09 L367.76,287.69 L367.98,279.51 L368.2,275.55 L368.2,275.55 L368.42,279.51 L368.64,287.69 L368.86,294.13 L369.08,297.05 L369.3,297.85 L369.52,297.62 L369.74,291.41 L369.96,291.65 L370.18,279.23 L370.4,287.21 L370.62,268.63 L370.84,259.97 L371.06,264.64 L371.28,275.3 L371.5,277.34 L371.72,288.48 L371.94,284.67 L372.16,287.58 L372.38,287.47 L372.6,296.42 L372.82,296.09 L373.04,289.36 L373.26,290.96 L373.48,290.99 L373.7,289.28 L373.92,308.41 L374.14,307.44 L374.36,306.37 L374.58,297.07 L374.8,301.1 L375.02,296.34 L375.24,296.78 L375.46,305.63 L375.68,304.9 L375.9,304.08 L376.12,305.6 L376.34,299.83 L376.56,297.16 L376.78,297.42 L377,291.98 L377.22,281.53 L377.44,270.53 L377.6,267.4 L377.66,267.86 L377.88,276.07 L378.1,287.76 L378.32,290.97 L378.54,298.67 L378.76,299.26 L378.98,296.32 L379.2,287.23 L379.42,269.8 L379.64,251.44 L379.8,246.21 L379.86,246.98 L380.08,260.68 L380.3,280.19 L380.52,293.2 L380.74,288.03 L380.96,293.57 L381.18,290.77 L381.4,296.99 L381.62,313.18 L381.84,313.12 L382.06,317.61 L382.28,320.96 L382.5,321.82 L382.72,301.23 L382.94,298.38 L383.16,288.83 L383.38,268.74 L383.6,244.71 L383.8,234.8 L383.82,234.91 L384.04,248.6 L384.26,273.09 L384.48,291.31 L384.7,292.23 L384.92,289.33 L385.14,304.17 L385.36,312.09 L385.58,312.74 L385.8,312.93 L386.02,308.62 L386.24,315.75 L386.46,310.23 L386.68,311.06 L386.9,302.22 L387.12,297.28 L387.34,295.31 L387.56,286.05 L387.78,285.13 L388,290.54 L388.22,298.88 L388.44,298.36 L388.66,300.01 L388.88,300.6 L389.1,305.52 L389.32,298.11 L389.54,301.85 L389.76,301.16 L389.98,288.05 L390.2,289.77 L390.42,286.55 L390.64,293.04 L390.86,299.19 L391.08,291.64 L391.3,269.53 L391.52,249.25 L391.74,256.39 L391.96,275.36 L392.18,286.73 L392.4,296.35 L392.62,303.81 L392.84,303.56 L393.06,308.51 L393.28,299.68 L393.5,299.26 L393.72,295.61 L393.94,299.52 L394.16,293.71 L394.38,280.79 L394.6,269.58 L394.82,274.07 L395.04,292.36 L395.26,298.34 L395.48,309.58 L395.7,310.82 L395.92,313.36 L396.14,320.41 L396.36,325.01 L396.58,321.98 L396.8,318.47 L397.02,315.53 L397.24,317.75 L397.46,303.23 L397.68,301.94 L397.9,295.14 L398.12,285.24 L398.34,268.49 L398.56,257.91 L398.6,257.62 L398.78,263.2 L399,279.3 L399.22,293.63 L399.44,292.13 L399.66,302.98 L399.88,306.66 L400.1,303.69 L400.32,300.95 L400.54,297.53 L400.76,283.9 L400.98,261.27 L401.2,242.21 L401.3,239.69 L401.42,243.28 L401.64,263.46 L401.86,285.58 L402.08,298.26 L402.3,302.26 L402.52,305.39 L402.74,305.03 L402.96,315.27 L403.18,317.69 L403.4,317.86 L403.62,318.8 L403.84,309.51 L404.06,307.52 L404.28,312.28 L404.5,305.1 L404.72,294.16 L404.94,275.64 L405.16,277.33 L405.38,279.12 L405.6,296.57 L405.82,302.56 L406.04,319.35 L406.26,324.52 L406.48,322.24 L406.7,322.21 L406.92,318.6 L407.14,313.89 L407.36,317.21 L407.58,309.44 L407.8,310.65 L408.02,298.34 L408.24,301.2 L408.46,294.85 L408.68,284.78 L408.9,304.62 L409.12,298.43 L409.34,304.39 L409.56,305.64 L409.78,306.02 L410,305.75 L410.22,302.54 L410.44,302.91 L410.66,297.64 L410.88,296.93 L411.1,299.33 L411.32,292.29 L411.54,301.02 L411.76,296.73 L411.98,294.01 L412.2,290.27 L412.4,286.96 L412.42,287 L412.64,291.56 L412.86,299.73 L413.08,305.81 L413.3,307.16 L413.52,309.18 L413.74,307.83 L413.96,322.75 L414.18,312.19 L414.4,308.8 L414.62,301.26 L414.84,279.82 L415.06,242.4 L415.28,208.28 L415.4,202.2 L415.5,206.46 L415.72,238.7 L415.94,276.97 L416.16,300.02 L416.38,301.96 L416.6,309.83 L416.82,304.3 L417.04,300.32 L417.26,301.43 L417.48,307.5 L417.7,304.21 L417.92,304.96 L418.14,304.86 L418.36,297.57 L418.58,301.02 L418.8,303.42 L419.02,303.94 L419.24,302.28 L419.46,287.86 L419.68,272.31 L419.9,273.78 L420.12,289.02 L420.34,300.23 L420.56,307.6 L420.78,301.67 L421,299.92 L421.22,305.29 L421.44,299.13 L421.66,299.7 L421.88,293.07 L422.1,277.71 L422.32,280.25 L422.54,266.08 L422.76,274.48 L422.98,282.49 L423.2,301.34 L423.42,293.84 L423.64,296.5 L423.86,309.87 L424.08,303.83 L424.3,315.61 L424.52,316.48 L424.74,321.47 L424.96,314.62 L425.18,314.77 L425.4,309.13 L425.62,302.56 L425.84,302.39 L426.06,293.36 L426.28,295.81 L426.5,290.69 L426.72,298.84 L426.94,298.73 L427.16,289.12 L427.38,283.74 L427.4,283.7 L427.6,287.59 L427.82,297.03 L428.04,302.11 L428.26,303.71 L428.48,299.96 L428.7,303.26 L428.92,299.55 L429.14,297.78 L429.36,294.58 L429.58,296.46 L429.8,287.2 L430.02,280.15 L430.2,275.55 L430.24,275.79 L430.46,284.51 L430.68,298.32 L430.9,308.04 L431.12,312.08 L431.34,313.1 L431.56,316.32 L431.78,319.11 L432,306.8 L432.22,282.9 L432.44,279.96 L432.66,283.44 L432.88,291.6 L433.1,291.97 L433.32,298.64 L433.54,311.45 L433.76,311.17 L433.98,322.82 L434.2,322.22 L434.42,325.58 L434.64,316.51 L434.86,330.61 L435.08,326.66 L435.3,339.49 L435.52,327.72 L435.74,324.76 L435.96,331.52 L436.18,321.36 L436.4,328.45 L436.62,322.89 L436.84,315.87 L437.06,321.94 L437.28,326.82 L437.5,327.42 L437.72,331.8 L437.94,333.25 L438.16,327.69 L438.38,339.69 L438.6,335.86 L438.82,334.46 L439.04,330.9 L439.26,332.93 L439.48,333.88 L439.7,339.34 L439.92,317.58 L440.14,329.57 L440.36,321.88 L440.58,328.23 L440.8,320.07" fill="none" stroke="#f00a0a" stroke-width="0.75" stroke-linejoin="round" stroke-linecap="round"/>
</g>
<defs><pattern id="hatch" patternUnits="userSpaceOnUse" width="2.8" height="2.8" patternTransform="rotate(45)"><rect width="2.8" height="2.8" fill="#fff"/><line x1="0" y1="0" x2="0" y2="2.8" stroke="#f6b8b8" stroke-width="1"/></pattern></defs>
<rect x="535.44" y="312.1" width="13.45" height="26" fill="url(#hatch)" stroke="#f07272" stroke-width="1"/>
<rect x="548.89" y="232.9" width="13.46" height="105.2" fill="url(#hatch)" stroke="#f07272" stroke-width="1"/>
<rect x="562.35" y="206.5" width="13.45" height="131.6" fill="url(#hatch)" stroke="#f07272" stroke-width="1"/>
<rect x="575.8" y="285.7" width="13.46" height="52.4" fill="url(#hatch)" stroke="#f07272" stroke-width="1"/>
<rect x="589.26" y="312.1" width="13.46" height="26" fill="url(#hatch)" stroke="#f07272" stroke-width="1"/>
<rect x="602.72" y="285.7" width="13.45" height="52.4" fill="url(#hatch)" stroke="#f07272" stroke-width="1"/>
<rect x="616.17" y="232.9" width="13.46" height="105.2" fill="url(#hatch)" stroke="#f07272" stroke-width="1"/>
<rect x="629.62" y="285.7" width="13.46" height="52.4" fill="url(#hatch)" stroke="#f07272" stroke-width="1"/>
<rect x="500.1" y="193.4" width="178.4" height="144.7" fill="none" stroke="#666" stroke-width="1"/>
<line x1="517.5" y1="338.1" x2="517.5" y2="340.6" stroke="#666" stroke-width="1"/>
<text transform="translate(517.5 349.2)" font-size="8.8" text-anchor="middle" fill="#222" font-weight="normal" stroke="#222" stroke-width="0.22">120</text>
<line x1="553.38" y1="338.1" x2="553.38" y2="340.6" stroke="#666" stroke-width="1"/>
<text transform="translate(553.38 349.2)" font-size="8.8" text-anchor="middle" fill="#222" font-weight="normal" stroke="#222" stroke-width="0.22">160</text>
<line x1="589.26" y1="338.1" x2="589.26" y2="340.6" stroke="#666" stroke-width="1"/>
<text transform="translate(589.26 349.2)" font-size="8.8" text-anchor="middle" fill="#222" font-weight="normal" stroke="#222" stroke-width="0.22">200</text>
<line x1="625.14" y1="338.1" x2="625.14" y2="340.6" stroke="#666" stroke-width="1"/>
<text transform="translate(625.14 349.2)" font-size="8.8" text-anchor="middle" fill="#222" font-weight="normal" stroke="#222" stroke-width="0.22">240</text>
<line x1="661.02" y1="338.1" x2="661.02" y2="340.6" stroke="#666" stroke-width="1"/>
<text transform="translate(661.02 349.2)" font-size="8.8" text-anchor="middle" fill="#222" font-weight="normal" stroke="#222" stroke-width="0.22">280</text>
<line x1="499.56" y1="338.1" x2="499.56" y2="339.6" stroke="#666" stroke-width="1"/>
<line x1="535.44" y1="338.1" x2="535.44" y2="339.6" stroke="#666" stroke-width="1"/>
<line x1="571.32" y1="338.1" x2="571.32" y2="339.6" stroke="#666" stroke-width="1"/>
<line x1="607.2" y1="338.1" x2="607.2" y2="339.6" stroke="#666" stroke-width="1"/>
<line x1="643.08" y1="338.1" x2="643.08" y2="339.6" stroke="#666" stroke-width="1"/>
<line x1="678.96" y1="338.1" x2="678.96" y2="339.6" stroke="#666" stroke-width="1"/>
<line x1="497.6" y1="338.5" x2="500.1" y2="338.5" stroke="#666" stroke-width="1"/>
<text transform="translate(495.5 341.7)" font-size="9.2" text-anchor="end" fill="#222" font-weight="normal" stroke="#222" stroke-width="0.22">0</text>
<line x1="497.6" y1="312.1" x2="500.1" y2="312.1" stroke="#666" stroke-width="1"/>
<text transform="translate(495.5 315.3)" font-size="9.2" text-anchor="end" fill="#222" font-weight="normal" stroke="#222" stroke-width="0.22">1</text>
<line x1="497.6" y1="285.7" x2="500.1" y2="285.7" stroke="#666" stroke-width="1"/>
<text transform="translate(495.5 288.9)" font-size="9.2" text-anchor="end" fill="#222" font-weight="normal" stroke="#222" stroke-width="0.22">2</text>
<line x1="497.6" y1="259.3" x2="500.1" y2="259.3" stroke="#666" stroke-width="1"/>
<text transform="translate(495.5 262.5)" font-size="9.2" text-anchor="end" fill="#222" font-weight="normal" stroke="#222" stroke-width="0.22">3</text>
<line x1="497.6" y1="232.9" x2="500.1" y2="232.9" stroke="#666" stroke-width="1"/>
<text transform="translate(495.5 236.1)" font-size="9.2" text-anchor="end" fill="#222" font-weight="normal" stroke="#222" stroke-width="0.22">4</text>
<line x1="497.6" y1="206.5" x2="500.1" y2="206.5" stroke="#666" stroke-width="1"/>
<text transform="translate(495.5 209.7)" font-size="9.2" text-anchor="end" fill="#222" font-weight="normal" stroke="#222" stroke-width="0.22">5</text>
<line x1="498.6" y1="325.3" x2="500.1" y2="325.3" stroke="#666" stroke-width="1"/>
<line x1="498.6" y1="298.9" x2="500.1" y2="298.9" stroke="#666" stroke-width="1"/>
<line x1="498.6" y1="272.5" x2="500.1" y2="272.5" stroke="#666" stroke-width="1"/>
<line x1="498.6" y1="246.1" x2="500.1" y2="246.1" stroke="#666" stroke-width="1"/>
<line x1="498.6" y1="219.7" x2="500.1" y2="219.7" stroke="#666" stroke-width="1"/>
<text transform="translate(589.2 364.7)" font-size="9.8" text-anchor="middle" fill="#222" font-weight="normal" stroke="#222" stroke-width="0.22">Linewidth (μeV)</text>
<text transform="translate(479.3 265.5) rotate(-90)" font-size="9.4" text-anchor="middle" fill="#222" font-weight="normal" stroke="#222" stroke-width="0.22">Number of peaks</text>
</svg>
</body></html>
